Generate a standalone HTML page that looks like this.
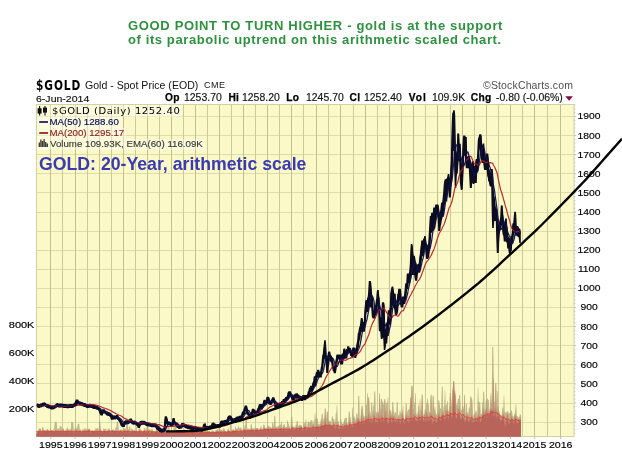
<!DOCTYPE html>
<html><head><meta charset="utf-8"><title>GOLD 20-Year</title>
<style>
html,body{margin:0;padding:0;background:#fff;}
body{width:622px;height:461px;overflow:hidden;position:relative;font-family:"Liberation Sans",Arial,sans-serif;}
svg{position:absolute;left:0;top:0;}
.t{position:absolute;white-space:nowrap;line-height:1;}
.sx{transform-origin:0 0;}
.hd{top:93.3px;font-size:10px;color:#111;transform:scaleX(1.045);margin-left:-0.8px;-webkit-text-stroke:0.15px #111;}
.b{font-weight:bold;font-size:10.2px;top:93px;letter-spacing:0.3px;color:#000;transform:none;margin-left:-0.6px;-webkit-text-stroke:0.25px #000;}
.lg{left:49.4px;font-size:9.7px;transform:scaleX(1.0);-webkit-text-stroke:0.15px currentColor;}
</style></head><body>
<svg width="622" height="461" viewBox="0 0 622 461" font-family="Liberation Sans, Arial, sans-serif">
<rect x="36.5" y="104.5" width="537.5" height="332.0" fill="#fbf9c7"/>
<path d="M36.5 422.5H574.0M36.5 403.5H574.0M36.5 383.5H574.0M36.5 364.5H574.0M36.5 345.5H574.0M36.5 326.5H574.0M36.5 307.5H574.0M36.5 288.5H574.0M36.5 269.5H574.0M36.5 250.5H574.0M36.5 231.5H574.0M36.5 212.5H574.0M36.5 192.5H574.0M36.5 173.5H574.0M36.5 154.5H574.0M36.5 135.5H574.0M36.5 116.5H574.0" stroke="#e0ddab" stroke-width="1" fill="none" shape-rendering="crispEdges"/>
<path d="M62.5 104.5V436.5M87.5 104.5V436.5M111.5 104.5V436.5M135.5 104.5V436.5M159.5 104.5V436.5M183.5 104.5V436.5M207.5 104.5V436.5M231.5 104.5V436.5M255.5 104.5V436.5M279.5 104.5V436.5M303.5 104.5V436.5M328.5 104.5V436.5M353.5 104.5V436.5M377.5 104.5V436.5M401.5 104.5V436.5M425.5 104.5V436.5M450.5 104.5V436.5M474.5 104.5V436.5M498.5 104.5V436.5M522.5 104.5V436.5M547.5 104.5V436.5" stroke="#cdca98" stroke-width="1" fill="none" shape-rendering="crispEdges"/>
<path d="M50.5 104.5V436.5M75.5 104.5V436.5M99.5 104.5V436.5M123.5 104.5V436.5M147.5 104.5V436.5M171.5 104.5V436.5M195.5 104.5V436.5M219.5 104.5V436.5M243.5 104.5V436.5M267.5 104.5V436.5M291.5 104.5V436.5M316.5 104.5V436.5M340.5 104.5V436.5M365.5 104.5V436.5M389.5 104.5V436.5M413.5 104.5V436.5M437.5 104.5V436.5M462.5 104.5V436.5M486.5 104.5V436.5M510.5 104.5V436.5M534.5 104.5V436.5M560.5 104.5V436.5" stroke="#c3c08b" stroke-width="1" fill="none" shape-rendering="crispEdges"/>
<rect x="36.5" y="104.5" width="537.5" height="332.0" fill="none" stroke="#d5d2a0" stroke-width="1"/>
<polygon points="36.5,436.5 36.8,431.5 37.2,430.8 37.8,430.8 38.2,430.6 38.8,428.9 39.2,428.3 39.8,428.3 40.2,428.3 40.8,428.8 41.2,430.0 41.8,430.5 42.2,427.0 42.8,427.0 43.2,427.0 43.8,429.3 44.2,430.0 44.8,429.9 45.2,429.9 45.8,430.1 46.2,429.5 46.8,429.5 47.2,428.7 47.8,428.7 48.2,429.5 48.8,430.3 49.2,430.3 49.8,430.7 50.2,427.8 50.8,427.8 51.2,430.1 51.8,430.1 52.2,430.1 52.8,430.1 53.2,430.6 53.8,428.6 54.2,428.6 54.8,422.0 55.2,421.8 55.8,421.9 56.2,422.2 56.8,422.5 57.2,430.1 57.8,428.2 58.2,428.2 58.8,428.2 59.2,430.3 59.8,425.7 60.2,425.7 60.8,426.8 61.2,426.7 61.8,427.0 62.2,429.2 62.8,429.1 63.2,428.2 63.8,428.2 64.2,430.7 64.8,430.1 65.2,430.1 65.8,429.8 66.2,429.8 66.8,428.1 67.2,427.5 67.8,427.5 68.2,429.9 68.8,429.1 69.2,429.1 69.8,429.4 70.2,429.4 70.8,429.1 71.2,422.0 71.8,421.8 72.2,422.0 72.8,422.2 73.2,422.5 73.8,429.5 74.2,429.5 74.8,429.2 75.2,427.3 75.8,427.3 76.2,427.3 76.8,429.3 77.2,428.1 77.8,423.7 78.2,423.6 78.8,423.9 79.2,424.1 79.8,429.5 80.2,429.5 80.8,429.5 81.2,431.1 81.8,429.7 82.2,429.7 82.8,429.4 83.2,429.4 83.8,429.4 84.2,428.5 84.8,428.5 85.2,428.5 85.8,428.5 86.2,428.5 86.8,429.9 87.2,429.1 87.8,429.1 88.2,429.1 88.8,428.6 89.2,428.6 89.8,428.6 90.2,429.2 90.8,431.0 91.2,430.9 91.8,429.9 92.2,429.9 92.8,429.9 93.2,430.9 93.8,430.1 94.2,430.0 94.8,430.0 95.2,428.6 95.8,428.6 96.2,428.6 96.8,428.2 97.2,428.1 97.8,428.3 98.2,428.3 98.8,430.0 99.2,421.4 99.8,421.4 100.2,421.4 100.8,428.6 101.2,429.2 101.8,431.2 102.2,431.1 102.8,430.9 103.2,428.6 103.8,428.6 104.2,428.9 104.8,428.9 105.2,428.9 105.8,428.2 106.2,428.2 106.8,431.1 107.2,429.7 107.8,429.7 108.2,428.7 108.8,427.9 109.2,427.9 109.8,430.0 110.2,430.4 110.8,430.5 111.2,429.8 111.8,429.8 112.2,429.8 112.8,429.4 113.2,429.4 113.8,429.4 114.2,430.2 114.8,430.0 115.2,428.0 115.8,428.0 116.2,428.0 116.8,422.1 117.2,421.8 117.8,421.9 118.2,422.2 118.8,430.1 119.2,430.1 119.8,430.0 120.2,429.4 120.8,429.4 121.2,429.6 121.8,429.6 122.2,429.6 122.8,429.9 123.2,429.9 123.8,429.6 124.2,428.6 124.8,428.0 125.2,428.0 125.8,430.0 126.2,424.0 126.8,424.0 127.2,422.1 127.8,422.1 128.2,429.3 128.8,429.3 129.2,426.4 129.8,426.5 130.2,426.9 130.8,430.9 131.2,428.8 131.8,428.8 132.2,428.8 132.8,429.5 133.2,429.8 133.8,429.8 134.2,429.9 134.8,429.9 135.2,430.7 135.8,430.7 136.2,426.3 136.8,426.3 137.2,430.9 137.8,430.9 138.2,430.8 138.8,428.8 139.2,427.5 139.8,427.5 140.2,427.5 140.8,430.1 141.2,430.1 141.8,430.1 142.2,430.9 142.8,430.8 143.2,430.5 143.8,429.7 144.2,428.1 144.8,428.1 145.2,428.1 145.8,430.2 146.2,429.6 146.8,424.1 147.2,424.1 147.8,424.1 148.2,425.9 148.8,429.3 149.2,429.5 149.8,428.8 150.2,428.8 150.8,430.4 151.2,429.4 151.8,429.3 152.2,429.3 152.8,429.3 153.2,431.0 153.8,431.0 154.2,431.2 154.8,431.2 155.2,431.2 155.8,430.3 156.2,430.0 156.8,429.3 157.2,428.2 157.8,428.2 158.2,432.1 158.8,427.1 159.2,427.1 159.8,430.5 160.2,430.5 160.8,429.8 161.2,429.8 161.8,431.2 162.2,429.5 162.8,429.5 163.2,430.8 163.8,428.9 164.2,428.9 164.8,429.3 165.2,421.2 165.8,421.1 166.2,421.7 166.8,430.8 167.2,430.8 167.8,426.9 168.2,426.9 168.8,427.4 169.2,427.4 169.8,431.5 170.2,430.9 170.8,430.9 171.2,431.3 171.8,430.2 172.2,429.9 172.8,429.9 173.2,431.5 173.8,424.6 174.2,424.7 174.8,425.2 175.2,425.9 175.8,425.9 176.2,425.9 176.8,431.6 177.2,431.0 177.8,431.0 178.2,431.4 178.8,431.4 179.2,431.3 179.8,430.2 180.2,430.2 180.8,430.3 181.2,430.3 181.8,430.3 182.2,431.5 182.8,431.5 183.2,431.6 183.8,428.6 184.2,428.6 184.8,429.7 185.2,431.7 185.8,431.7 186.2,431.7 186.8,430.0 187.2,430.0 187.8,430.0 188.2,431.0 188.8,431.0 189.2,430.4 189.8,430.4 190.2,430.4 190.8,431.7 191.2,431.7 191.8,430.3 192.2,430.3 192.8,428.1 193.2,428.1 193.8,428.1 194.2,432.1 194.8,432.1 195.2,427.6 195.8,427.6 196.2,431.3 196.8,431.3 197.2,431.3 197.8,430.1 198.2,430.1 198.8,429.7 199.2,429.7 199.8,428.0 200.2,428.0 200.8,428.0 201.2,431.2 201.8,431.2 202.2,431.7 202.8,426.9 203.2,426.9 203.8,426.9 204.2,429.1 204.8,422.7 205.2,422.5 205.8,422.9 206.2,431.0 206.8,431.0 207.2,431.0 207.8,431.0 208.2,431.5 208.8,430.3 209.2,430.3 209.8,431.2 210.2,431.6 210.8,431.5 211.2,431.5 211.8,430.2 212.2,430.2 212.8,430.8 213.2,430.8 213.8,430.8 214.2,431.6 214.8,431.6 215.2,431.5 215.8,429.9 216.2,429.9 216.8,429.9 217.2,429.9 217.8,426.8 218.2,426.8 218.8,431.1 219.2,428.4 219.8,428.4 220.2,428.4 220.8,430.2 221.2,430.2 221.8,429.5 222.2,429.5 222.8,431.2 223.2,428.3 223.8,428.3 224.2,428.3 224.8,430.3 225.2,430.3 225.8,431.4 226.2,431.4 226.8,431.4 227.2,429.5 227.8,429.4 228.2,428.7 228.8,428.7 229.2,430.7 229.8,430.7 230.2,421.1 230.8,421.3 231.2,431.0 231.8,430.6 232.2,430.1 232.8,429.2 233.2,429.1 233.8,429.1 234.2,430.0 234.8,429.9 235.2,426.4 235.8,426.4 236.2,428.4 236.8,428.4 237.2,428.4 237.8,428.5 238.2,426.1 238.8,426.1 239.2,428.3 239.8,428.3 240.2,427.4 240.8,427.4 241.2,427.4 241.8,429.5 242.2,429.7 242.8,428.8 243.2,428.8 243.8,428.8 244.2,428.8 244.8,425.0 245.2,425.0 245.8,418.4 246.2,418.3 246.8,419.2 247.2,428.8 247.8,428.8 248.2,428.7 248.8,428.7 249.2,428.7 249.8,428.7 250.2,429.2 250.8,424.2 251.2,424.2 251.8,424.2 252.2,428.5 252.8,427.9 253.2,427.9 253.8,428.8 254.2,429.0 254.8,427.4 255.2,427.4 255.8,427.4 256.2,428.1 256.8,428.1 257.2,428.0 257.8,428.0 258.2,428.0 258.8,429.4 259.2,428.4 259.8,428.4 260.2,428.1 260.8,425.7 261.2,425.7 261.8,428.5 262.2,429.3 262.8,427.8 263.2,424.7 263.8,424.7 264.2,424.7 264.8,425.5 265.2,427.9 265.8,428.0 266.2,427.8 266.8,427.8 267.2,426.9 267.8,425.7 268.2,425.7 268.8,425.7 269.2,426.7 269.8,426.7 270.2,426.7 270.8,426.7 271.2,428.0 271.8,427.9 272.2,422.5 272.8,422.5 273.2,422.5 273.8,426.9 274.2,416.0 274.8,415.5 275.2,416.0 275.8,426.7 276.2,426.7 276.8,426.8 277.2,426.8 277.8,427.0 278.2,425.5 278.8,425.5 279.2,425.7 279.8,425.7 280.2,424.4 280.8,424.4 281.2,421.4 281.8,421.4 282.2,428.0 282.8,425.1 283.2,425.1 283.8,424.4 284.2,424.2 284.8,424.2 285.2,427.5 285.8,426.7 286.2,426.7 286.8,426.7 287.2,420.6 287.8,420.6 288.2,423.5 288.8,423.5 289.2,426.1 289.8,426.5 290.2,427.9 290.8,423.9 291.2,416.6 291.8,416.6 292.2,416.6 292.8,426.4 293.2,426.5 293.8,426.8 294.2,426.8 294.8,426.8 295.2,426.9 295.8,424.8 296.2,424.8 296.8,421.0 297.2,421.0 297.8,421.0 298.2,425.9 298.8,425.5 299.2,424.8 299.8,424.8 300.2,424.8 300.8,425.6 301.2,425.0 301.8,425.0 302.2,427.5 302.8,427.4 303.2,424.6 303.8,422.0 304.2,422.0 304.8,423.4 305.2,423.4 305.8,419.0 306.2,419.0 306.8,426.3 307.2,426.3 307.8,421.6 308.2,421.6 308.8,421.6 309.2,421.8 309.8,422.7 310.2,422.2 310.8,419.9 311.2,419.9 311.8,419.9 312.2,424.3 312.8,420.0 313.2,420.0 313.8,423.9 314.2,423.9 314.8,412.8 315.2,412.8 315.8,419.1 316.2,419.1 316.8,418.5 317.2,418.5 317.8,418.5 318.2,423.7 318.8,423.7 319.2,423.7 319.8,424.9 320.2,422.7 320.8,419.2 321.2,419.2 321.8,413.8 322.2,413.8 322.8,413.8 323.2,421.3 323.8,417.8 324.2,417.8 324.8,408.6 325.2,408.6 325.8,408.6 326.2,419.7 326.8,411.4 327.2,411.4 327.8,411.4 328.2,420.7 328.8,420.7 329.2,420.7 329.8,421.2 330.2,421.2 330.8,421.2 331.2,424.9 331.8,416.6 332.2,416.6 332.8,416.6 333.2,419.0 333.8,419.0 334.2,419.0 334.8,423.7 335.2,421.4 335.8,413.7 336.2,413.7 336.8,405.0 337.2,405.0 337.8,421.2 338.2,421.2 338.8,421.2 339.2,425.8 339.8,425.5 340.2,419.2 340.8,419.2 341.2,419.2 341.8,423.3 342.2,423.3 342.8,423.5 343.2,424.1 343.8,422.1 344.2,419.9 344.8,418.0 345.2,418.0 345.8,418.0 346.2,417.7 346.8,417.7 347.2,423.4 347.8,423.4 348.2,421.1 348.8,411.6 349.2,411.6 349.8,411.6 350.2,417.3 350.8,417.3 351.2,423.4 351.8,423.4 352.2,407.6 352.8,407.6 353.2,418.0 353.8,416.1 354.2,416.1 354.8,418.3 355.2,418.3 355.8,421.1 356.2,413.6 356.8,413.6 357.2,413.6 357.8,417.9 358.2,395.8 358.8,395.8 359.2,395.8 359.8,418.4 360.2,420.1 360.8,414.5 361.2,408.6 361.8,405.8 362.2,405.8 362.8,405.8 363.2,414.2 363.8,415.9 364.2,415.9 364.8,417.8 365.2,415.0 365.8,405.4 366.2,405.4 366.8,403.8 367.2,393.3 367.8,393.3 368.2,397.4 368.8,397.4 369.2,397.4 369.8,411.5 370.2,411.5 370.8,415.7 371.2,402.4 371.8,402.4 372.2,402.4 372.8,414.5 373.2,405.2 373.8,405.2 374.2,391.5 374.8,391.5 375.2,391.5 375.8,411.8 376.2,411.8 376.8,413.0 377.2,412.9 377.8,410.9 378.2,410.9 378.8,412.8 379.2,393.2 379.8,393.2 380.2,410.6 380.8,398.8 381.2,398.8 381.8,398.8 382.2,401.1 382.8,401.6 383.2,402.5 383.8,405.2 384.2,399.6 384.8,398.8 385.2,398.8 385.8,410.7 386.2,402.8 386.8,402.8 387.2,402.8 387.8,397.3 388.2,397.3 388.8,414.3 389.2,409.6 389.8,409.6 390.2,409.6 390.8,411.0 391.2,411.0 391.8,414.7 392.2,402.3 392.8,402.1 393.2,402.1 393.8,410.3 394.2,415.2 394.8,412.3 395.2,412.1 395.8,412.1 396.2,415.7 396.8,402.3 397.2,402.3 397.8,402.3 398.2,416.3 398.8,414.9 399.2,414.9 399.8,410.2 400.2,410.2 400.8,412.9 401.2,415.2 401.8,412.0 402.2,411.6 402.8,405.3 403.2,405.3 403.8,417.8 404.2,419.7 404.8,418.5 405.2,413.4 405.8,403.2 406.2,403.2 406.8,403.2 407.2,412.2 407.8,410.7 408.2,409.5 408.8,409.5 409.2,409.5 409.8,405.9 410.2,397.5 410.8,397.5 411.2,386.6 411.8,385.6 412.2,385.6 412.8,387.2 413.2,409.3 413.8,409.3 414.2,402.8 414.8,402.8 415.2,393.3 415.8,393.3 416.2,411.7 416.8,415.2 417.2,415.2 417.8,410.7 418.2,404.6 418.8,404.6 419.2,411.6 419.8,399.0 420.2,399.0 420.8,410.5 421.2,410.5 421.8,394.6 422.2,394.6 422.8,394.6 423.2,415.9 423.8,414.1 424.2,414.1 424.8,409.3 425.2,409.3 425.8,410.1 426.2,403.0 426.8,403.0 427.2,398.4 427.8,398.4 428.2,404.2 428.8,404.2 429.2,412.1 429.8,412.1 430.2,398.5 430.8,394.7 431.2,394.7 431.8,394.7 432.2,413.8 432.8,395.3 433.2,395.3 433.8,396.4 434.2,410.4 434.8,406.5 435.2,406.5 435.8,412.9 436.2,414.0 436.8,414.0 437.2,415.6 437.8,415.6 438.2,400.6 438.8,400.6 439.2,400.6 439.8,404.6 440.2,408.4 440.8,408.4 441.2,408.4 441.8,386.7 442.2,386.7 442.8,386.7 443.2,411.5 443.8,405.8 444.2,405.8 444.8,390.2 445.2,390.2 445.8,406.7 446.2,404.6 446.8,404.6 447.2,400.9 447.8,400.9 448.2,411.6 448.8,410.8 449.2,405.8 449.8,393.0 450.2,393.0 450.8,393.0 451.2,397.6 451.8,406.4 452.2,390.0 452.8,389.3 453.2,380.9 453.8,380.9 454.2,380.9 454.8,390.5 455.2,391.0 455.8,394.6 456.2,405.4 456.8,403.7 457.2,403.7 457.8,399.1 458.2,399.1 458.8,399.1 459.2,395.0 459.8,395.0 460.2,395.0 460.8,410.7 461.2,409.7 461.8,409.7 462.2,406.2 462.8,405.8 463.2,405.8 463.8,410.5 464.2,394.6 464.8,394.6 465.2,416.1 465.8,403.9 466.2,403.9 466.8,403.9 467.2,412.3 467.8,412.3 468.2,415.3 468.8,407.4 469.2,407.4 469.8,407.4 470.2,396.5 470.8,396.5 471.2,396.5 471.8,398.8 472.2,398.8 472.8,415.4 473.2,417.7 473.8,413.9 474.2,413.9 474.8,412.8 475.2,412.8 475.8,410.2 476.2,410.2 476.8,412.5 477.2,413.8 477.8,387.6 478.2,387.6 478.8,402.1 479.2,402.1 479.8,402.2 480.2,402.2 480.8,414.9 481.2,413.9 481.8,413.9 482.2,402.2 482.8,402.2 483.2,391.8 483.8,391.8 484.2,391.8 484.8,410.5 485.2,408.9 485.8,400.4 486.2,400.4 486.8,400.4 487.2,398.3 487.8,398.3 488.2,400.0 488.8,400.0 489.2,410.7 489.8,408.1 490.2,398.2 490.8,392.7 491.2,392.7 491.8,402.0 492.2,347.0 492.8,347.0 493.2,347.0 493.8,377.9 494.2,401.8 494.8,401.8 495.2,383.9 495.8,382.7 496.2,382.7 496.8,409.9 497.2,391.0 497.8,391.0 498.2,406.3 498.8,408.7 499.2,410.5 499.8,413.6 500.2,414.5 500.8,415.7 501.2,415.7 501.8,414.7 502.2,407.6 502.8,407.6 503.2,410.2 503.8,395.4 504.2,395.4 504.8,412.3 505.2,412.3 505.8,412.3 506.2,413.2 506.8,410.8 507.2,410.8 507.8,411.4 508.2,411.4 508.8,413.2 509.2,413.2 509.8,413.2 510.2,412.0 510.8,412.0 511.2,410.2 511.8,410.2 512.2,412.8 512.8,416.4 513.2,416.4 513.8,416.7 514.2,413.9 514.8,413.9 515.2,410.0 515.8,403.7 516.2,403.7 516.8,415.2 517.2,416.3 517.8,416.3 518.2,417.2 518.8,417.2 519.2,417.3 519.8,414.4 520.2,414.4 520.8,414.4 521.0,414.4 521.0,436.5" fill="#a89c74" opacity="0.7"/>
<polygon points="36.5,436.5 36.8,432.0 37.2,431.6 37.8,431.3 38.2,431.1 38.8,430.6 39.2,430.2 39.8,430.2 40.2,428.8 40.8,430.5 41.2,431.7 41.8,431.9 42.2,429.2 42.8,429.2 43.2,430.4 43.8,430.4 44.2,430.5 44.8,430.1 45.2,430.5 45.8,431.1 46.2,430.9 46.8,430.1 47.2,429.8 47.8,429.9 48.2,430.3 48.8,431.1 49.2,431.1 49.8,431.5 50.2,430.7 50.8,430.1 51.2,430.2 51.8,431.0 52.2,430.6 52.8,430.6 53.2,430.9 53.8,430.9 54.2,430.9 54.8,430.8 55.2,430.8 55.8,429.6 56.2,429.6 56.8,430.7 57.2,430.7 57.8,430.1 58.2,430.1 58.8,430.5 59.2,430.5 59.8,430.5 60.2,430.0 60.8,430.0 61.2,430.9 61.8,431.3 62.2,431.3 62.8,430.7 63.2,429.8 63.8,429.8 64.2,431.4 64.8,431.5 65.2,430.7 65.8,430.6 66.2,430.4 66.8,430.1 67.2,428.2 67.8,430.9 68.2,430.9 68.8,430.1 69.2,430.9 69.8,430.5 70.2,430.5 70.8,429.7 71.2,429.3 71.8,430.4 72.2,430.8 72.8,430.8 73.2,431.4 73.8,431.5 74.2,431.5 74.8,431.2 75.2,429.2 75.8,429.3 76.2,429.7 76.8,430.0 77.2,429.8 77.8,431.1 78.2,431.4 78.8,430.7 79.2,430.5 79.8,430.3 80.2,430.3 80.8,430.9 81.2,432.2 81.8,432.2 82.2,431.6 82.8,429.7 83.2,429.8 83.8,429.8 84.2,430.6 84.8,430.6 85.2,430.2 85.8,430.1 86.2,430.1 86.8,430.2 87.2,430.8 87.8,430.2 88.2,429.3 88.8,429.3 89.2,430.1 89.8,430.1 90.2,431.5 90.8,431.4 91.2,431.1 91.8,431.0 92.2,430.9 92.8,430.9 93.2,431.2 93.8,430.9 94.2,430.2 94.8,431.1 95.2,431.1 95.8,430.3 96.2,429.8 96.8,430.0 97.2,430.0 97.8,430.8 98.2,431.6 98.8,430.2 99.2,430.1 99.8,429.5 100.2,429.5 100.8,429.5 101.2,430.7 101.8,431.7 102.2,431.2 102.8,431.2 103.2,430.9 103.8,430.2 104.2,430.2 104.8,430.6 105.2,430.9 105.8,431.1 106.2,431.4 106.8,431.3 107.2,431.3 107.8,430.7 108.2,430.6 108.8,430.2 109.2,430.0 109.8,430.2 110.2,430.8 110.8,430.7 111.2,430.5 111.8,430.2 112.2,430.2 112.8,430.2 113.2,430.3 113.8,430.7 114.2,430.7 114.8,430.4 115.2,430.8 115.8,430.7 116.2,430.4 116.8,431.0 117.2,431.0 117.8,431.0 118.2,431.0 118.8,431.0 119.2,431.0 119.8,430.6 120.2,430.3 120.8,430.3 121.2,430.7 121.8,431.4 122.2,431.7 122.8,431.7 123.2,431.0 123.8,430.3 124.2,430.2 124.8,429.6 125.2,431.1 125.8,430.6 126.2,430.6 126.8,430.2 127.2,430.0 127.8,430.3 128.2,430.8 128.8,431.1 129.2,431.5 129.8,431.1 130.2,431.5 130.8,431.2 131.2,431.1 131.8,430.7 132.2,430.0 132.8,430.4 133.2,431.0 133.8,431.2 134.2,431.5 134.8,430.7 135.2,430.8 135.8,431.0 136.2,430.8 136.8,430.8 137.2,431.4 137.8,431.4 138.2,431.2 138.8,431.0 139.2,428.8 139.8,428.8 140.2,430.4 140.8,430.6 141.2,431.4 141.8,431.8 142.2,432.3 142.8,431.0 143.2,430.9 143.8,430.4 144.2,429.8 144.8,430.2 145.2,431.0 145.8,432.1 146.2,432.1 146.8,430.3 147.2,429.8 147.8,429.3 148.2,429.8 148.8,430.9 149.2,430.9 149.8,429.6 150.2,431.8 150.8,431.1 151.2,430.5 151.8,430.4 152.2,430.6 152.8,431.0 153.2,431.4 153.8,431.5 154.2,432.1 154.8,431.5 155.2,431.5 155.8,431.4 156.2,430.4 156.8,430.4 157.2,430.5 157.8,430.5 158.2,432.3 158.8,431.9 159.2,430.5 159.8,431.5 160.2,430.8 160.8,430.8 161.2,431.1 161.8,432.1 162.2,432.1 162.8,431.2 163.2,431.0 163.8,430.8 164.2,429.5 164.8,429.9 165.2,431.0 165.8,431.8 166.2,432.6 166.8,432.1 167.2,431.8 167.8,431.1 168.2,430.6 168.8,432.0 169.2,431.6 169.8,431.8 170.2,431.6 170.8,431.5 171.2,431.7 171.8,431.3 172.2,430.6 172.8,431.5 173.2,431.7 173.8,431.8 174.2,432.1 174.8,432.1 175.2,432.1 175.8,432.3 176.2,432.0 176.8,431.7 177.2,431.6 177.8,431.6 178.2,431.7 178.8,431.7 179.2,431.7 179.8,431.3 180.2,431.0 180.8,431.0 181.2,431.1 181.8,431.9 182.2,431.8 182.8,431.8 183.2,431.8 183.8,432.1 184.2,431.6 184.8,431.7 185.2,432.1 185.8,432.2 186.2,432.1 186.8,432.0 187.2,431.8 187.8,431.7 188.2,431.3 188.8,431.2 189.2,431.0 189.8,432.1 190.2,432.1 190.8,432.1 191.2,432.2 191.8,431.7 192.2,430.8 192.8,430.7 193.2,430.9 193.8,432.4 194.2,432.4 194.8,432.8 195.2,432.1 195.8,431.4 196.2,431.6 196.8,431.7 197.2,432.3 197.8,431.7 198.2,433.0 198.8,432.2 199.2,431.9 199.8,431.4 200.2,431.9 200.8,431.6 201.2,431.7 201.8,431.7 202.2,432.2 202.8,431.5 203.2,431.5 203.8,430.8 204.2,431.9 204.8,430.7 205.2,431.9 205.8,432.1 206.2,432.5 206.8,431.8 207.2,431.8 207.8,431.9 208.2,431.9 208.8,431.2 209.2,431.2 209.8,431.6 210.2,432.2 210.8,432.0 211.2,431.8 211.8,431.6 212.2,431.6 212.8,431.5 213.2,431.7 213.8,431.7 214.2,432.0 214.8,432.1 215.2,431.6 215.8,431.5 216.2,430.4 216.8,430.9 217.2,431.1 217.8,431.6 218.2,431.1 218.8,431.8 219.2,431.7 219.8,431.4 220.2,431.6 220.8,431.6 221.2,431.6 221.8,430.8 222.2,431.6 222.8,432.3 223.2,431.2 223.8,430.7 224.2,430.7 224.8,431.0 225.2,431.6 225.8,432.0 226.2,432.1 226.8,431.7 227.2,431.6 227.8,430.5 228.2,429.7 228.8,430.5 229.2,431.4 229.8,431.1 230.2,431.1 230.8,432.0 231.2,431.4 231.8,431.3 232.2,430.7 232.8,430.4 233.2,430.1 233.8,430.0 234.2,430.5 234.8,431.0 235.2,430.5 235.8,429.6 236.2,429.6 236.8,429.9 237.2,429.9 237.8,430.1 238.2,429.8 238.8,430.9 239.2,431.1 239.8,429.8 240.2,428.4 240.8,429.7 241.2,430.8 241.8,431.6 242.2,430.9 242.8,429.7 243.2,429.1 243.8,429.1 244.2,429.0 244.8,429.0 245.2,429.1 245.8,430.1 246.2,430.1 246.8,430.3 247.2,429.0 247.8,429.0 248.2,429.1 248.8,429.1 249.2,429.8 249.8,429.7 250.2,429.7 250.8,429.4 251.2,428.5 251.8,428.5 252.2,429.6 252.8,429.6 253.2,429.0 253.8,430.2 254.2,430.8 254.8,430.1 255.2,429.6 255.8,429.1 256.2,428.6 256.8,428.6 257.2,428.6 257.8,429.4 258.2,429.9 258.8,430.3 259.2,429.6 259.8,429.6 260.2,428.8 260.8,428.1 261.2,428.5 261.8,429.9 262.2,430.0 262.8,428.9 263.2,428.1 263.8,427.2 264.2,427.2 264.8,427.9 265.2,428.2 265.8,428.9 266.2,429.1 266.8,429.2 267.2,428.5 267.8,426.9 268.2,426.9 268.8,428.7 269.2,428.8 269.8,428.3 270.2,428.6 270.8,428.6 271.2,428.7 271.8,428.1 272.2,427.9 272.8,427.6 273.2,428.5 273.8,427.6 274.2,427.4 274.8,427.4 275.2,428.5 275.8,427.8 276.2,427.7 276.8,428.1 277.2,428.7 277.8,429.1 278.2,427.6 278.8,427.9 279.2,427.9 279.8,427.5 280.2,427.5 280.8,427.4 281.2,427.4 281.8,428.0 282.2,429.1 282.8,428.0 283.2,427.4 283.8,427.2 284.2,427.2 284.8,427.5 285.2,428.0 285.8,428.2 286.2,428.4 286.8,428.4 287.2,427.9 287.8,427.1 288.2,428.7 288.8,428.3 289.2,427.9 289.8,428.9 290.2,429.6 290.8,429.5 291.2,426.2 291.8,425.8 292.2,426.0 292.8,427.1 293.2,427.3 293.8,427.5 294.2,428.4 294.8,428.4 295.2,428.0 295.8,427.4 296.2,426.9 296.8,425.5 297.2,425.5 297.8,427.3 298.2,428.2 298.8,428.1 299.2,428.1 299.8,426.2 300.2,426.2 300.8,426.0 301.2,426.0 301.8,426.7 302.2,429.0 302.8,429.0 303.2,428.4 303.8,427.4 304.2,425.2 304.8,425.4 305.2,426.0 305.8,426.5 306.2,426.6 306.8,428.0 307.2,426.7 307.8,426.3 308.2,426.2 308.8,422.4 309.2,427.4 309.8,427.4 310.2,426.1 310.8,422.7 311.2,426.1 311.8,425.4 312.2,425.4 312.8,424.7 313.2,424.3 313.8,425.7 314.2,426.1 314.8,426.6 315.2,426.2 315.8,426.1 316.2,423.7 316.8,423.7 317.2,424.7 317.8,425.4 318.2,426.0 318.8,426.4 319.2,426.5 319.8,426.5 320.2,424.9 320.8,423.4 321.2,423.4 321.8,419.2 322.2,421.3 322.8,422.7 323.2,424.7 323.8,424.7 324.2,420.4 324.8,417.8 325.2,409.2 325.8,409.2 326.2,423.7 326.8,423.7 327.2,412.0 327.8,412.0 328.2,421.5 328.8,421.5 329.2,422.4 329.8,422.6 330.2,424.4 330.8,425.2 331.2,425.2 331.8,425.1 332.2,425.1 332.8,424.4 333.2,421.4 333.8,421.4 334.2,423.8 334.8,423.8 335.2,423.8 335.8,421.6 336.2,421.6 336.8,423.3 337.2,423.3 337.8,423.6 338.2,423.6 338.8,425.8 339.2,426.6 339.8,426.6 340.2,425.5 340.8,425.7 341.2,425.1 341.8,424.1 342.2,424.1 342.8,424.3 343.2,424.3 343.8,424.1 344.2,422.1 344.8,420.0 345.2,424.4 345.8,423.0 346.2,423.0 346.8,423.0 347.2,425.3 347.8,425.9 348.2,425.3 348.8,421.9 349.2,421.1 349.8,417.3 350.2,421.8 350.8,422.5 351.2,424.1 351.8,424.6 352.2,424.6 352.8,421.5 353.2,421.5 353.8,421.5 354.2,422.0 354.8,421.6 355.2,421.6 355.8,422.9 356.2,421.1 356.8,419.3 357.2,418.6 357.8,418.2 358.2,417.9 358.8,418.2 359.2,419.8 359.8,420.1 360.2,422.2 360.8,421.3 361.2,409.3 361.8,409.2 362.2,409.3 362.8,417.9 363.2,417.8 363.8,418.3 364.2,418.3 364.8,419.9 365.2,417.4 365.8,415.0 366.2,415.0 366.8,416.5 367.2,416.3 367.8,416.3 368.2,398.4 368.8,398.4 369.2,404.4 369.8,415.7 370.2,415.7 370.8,417.1 371.2,415.7 371.8,416.6 372.2,421.1 372.8,416.7 373.2,415.0 373.8,411.1 374.2,411.1 374.8,413.9 375.2,416.7 375.8,417.8 376.2,414.2 376.8,417.7 377.2,414.2 377.8,414.4 378.2,414.4 378.8,414.4 379.2,394.4 379.8,394.4 380.2,417.3 380.8,410.6 381.2,409.1 381.8,411.7 382.2,402.3 382.8,402.5 383.2,418.1 383.8,418.1 384.2,411.5 384.8,399.8 385.2,399.8 385.8,412.5 386.2,410.7 386.8,410.4 387.2,410.4 387.8,418.7 388.2,419.2 388.8,417.5 389.2,414.4 389.8,414.3 390.2,411.8 390.8,413.5 391.2,414.7 391.8,416.9 392.2,417.6 392.8,411.5 393.2,410.3 393.8,416.4 394.2,417.0 394.8,416.1 395.2,416.1 395.8,418.7 396.2,419.0 396.8,418.4 397.2,418.1 397.8,418.1 398.2,416.9 398.8,416.7 399.2,416.7 399.8,418.4 400.2,416.4 400.8,419.4 401.2,416.4 401.8,414.1 402.2,413.6 402.8,412.0 403.2,415.6 403.8,420.7 404.2,420.0 404.8,419.7 405.2,416.9 405.8,413.4 406.2,413.4 406.8,413.2 407.2,414.8 407.8,415.4 408.2,415.4 408.8,416.2 409.2,416.7 409.8,412.6 410.2,398.2 410.8,398.2 411.2,397.9 411.8,386.6 412.2,386.6 412.8,414.7 413.2,414.4 413.8,413.1 414.2,413.0 414.8,414.0 415.2,411.7 415.8,416.4 416.2,417.4 416.8,416.7 417.2,416.7 417.8,415.2 418.2,411.6 418.8,413.1 419.2,413.6 419.8,414.9 420.2,415.0 420.8,414.9 421.2,412.1 421.8,395.7 422.2,395.7 422.8,403.8 423.2,417.2 423.8,417.2 424.2,414.8 424.8,414.1 425.2,413.9 425.8,412.1 426.2,410.8 426.8,410.8 427.2,410.8 427.8,414.5 428.2,415.9 428.8,415.9 429.2,414.9 429.8,413.3 430.2,412.9 430.8,411.7 431.2,398.5 431.8,411.2 432.2,418.9 432.8,396.4 433.2,396.4 433.8,415.0 434.2,415.0 434.8,412.6 435.2,412.9 435.8,416.6 436.2,416.4 436.8,419.4 437.2,419.3 437.8,417.9 438.2,413.4 438.8,408.9 439.2,408.9 439.8,415.9 440.2,415.9 440.8,416.8 441.2,414.5 441.8,409.6 442.2,409.6 442.8,412.4 443.2,412.4 443.8,412.0 444.2,414.4 444.8,415.1 445.2,407.5 445.8,409.9 446.2,409.9 446.8,409.9 447.2,408.7 447.8,408.7 448.2,415.4 448.8,411.6 449.2,411.6 449.8,406.5 450.2,404.8 450.8,397.6 451.2,412.9 451.8,414.6 452.2,414.6 452.8,390.0 453.2,381.6 453.8,381.6 454.2,381.8 454.8,391.4 455.2,394.6 455.8,395.7 456.2,415.2 456.8,415.2 457.2,411.5 457.8,405.8 458.2,408.3 458.8,408.3 459.2,405.4 459.8,404.8 460.2,410.7 460.8,415.7 461.2,416.0 461.8,413.4 462.2,411.3 462.8,407.7 463.2,409.9 463.8,415.6 464.2,395.7 464.8,395.7 465.2,419.2 465.8,416.1 466.2,411.9 466.8,411.9 467.2,414.3 467.8,415.3 468.2,416.4 468.8,415.3 469.2,410.0 469.8,410.0 470.2,417.5 470.8,416.9 471.2,414.5 471.8,399.8 472.2,399.8 472.8,417.7 473.2,419.1 473.8,417.6 474.2,414.4 474.8,414.4 475.2,414.8 475.8,414.8 476.2,416.9 476.8,416.9 477.2,416.1 477.8,416.1 478.2,414.2 478.8,407.5 479.2,406.1 479.8,407.5 480.2,414.9 480.8,417.1 481.2,415.7 481.8,417.1 482.2,411.4 482.8,408.5 483.2,406.9 483.8,408.5 484.2,413.0 484.8,412.5 485.2,411.7 485.8,409.2 486.2,408.9 486.8,409.2 487.2,407.6 487.8,403.6 488.2,410.9 488.8,411.0 489.2,413.4 489.8,410.7 490.2,408.2 490.8,408.2 491.2,402.6 491.8,403.9 492.2,402.0 492.8,379.1 493.2,377.9 493.8,379.4 494.2,407.7 494.8,406.4 495.2,403.0 495.8,384.2 496.2,384.2 496.8,411.9 497.2,406.3 497.8,406.3 498.2,410.8 498.8,410.8 499.2,413.6 499.8,414.6 500.2,415.4 500.8,418.9 501.2,418.3 501.8,417.1 502.2,414.7 502.8,411.8 503.2,413.1 503.8,413.1 504.2,415.5 504.8,417.6 505.2,418.5 505.8,417.5 506.2,416.2 506.8,413.6 507.2,413.6 507.8,414.3 508.2,414.4 508.8,419.6 509.2,419.6 509.8,417.9 510.2,417.9 510.8,417.5 511.2,415.1 511.8,413.5 512.2,416.0 512.8,419.1 513.2,419.2 513.8,420.1 514.2,416.7 514.8,414.9 515.2,414.9 515.8,414.0 516.2,415.2 516.8,418.4 517.2,420.6 517.8,419.1 518.2,418.7 518.8,419.0 519.2,419.5 519.8,417.5 520.2,417.3 520.8,416.9 521.0,416.9 521.0,436.5" fill="#c4907a" opacity="0.6"/>
<polygon points="36.5,436.5 36.8,432.6 37.2,432.0 37.8,431.9 38.2,431.3 38.8,431.0 39.2,430.6 39.8,430.6 40.2,430.5 40.8,431.4 41.2,432.1 41.8,432.4 42.2,430.8 42.8,430.5 43.2,430.8 43.8,430.8 44.2,431.4 44.8,431.4 45.2,431.6 45.8,431.9 46.2,431.6 46.8,430.8 47.2,430.3 47.8,430.3 48.2,431.1 48.8,431.5 49.2,431.6 49.8,431.6 50.2,431.0 50.8,430.7 51.2,430.7 51.8,431.5 52.2,431.4 52.8,431.2 53.2,431.5 53.8,431.6 54.2,431.6 54.8,431.6 55.2,431.5 55.8,429.9 56.2,430.3 56.8,430.9 57.2,431.2 57.8,431.0 58.2,431.0 58.8,431.3 59.2,431.0 59.8,430.9 60.2,431.1 60.8,431.1 61.2,431.1 61.8,431.8 62.2,431.7 62.8,431.3 63.2,430.7 63.8,431.0 64.2,431.8 64.8,431.8 65.2,431.5 65.8,431.5 66.2,431.3 66.8,431.3 67.2,430.8 67.8,431.4 68.2,431.2 68.8,430.9 69.2,431.5 69.8,431.7 70.2,431.5 70.8,431.4 71.2,430.0 71.8,431.3 72.2,431.4 72.8,431.4 73.2,432.0 73.8,432.1 74.2,432.1 74.8,432.1 75.2,431.1 75.8,430.4 76.2,430.1 76.8,430.5 77.2,431.1 77.8,431.6 78.2,431.6 78.8,431.4 79.2,431.1 79.8,430.4 80.2,430.9 80.8,431.2 81.2,432.5 81.8,432.3 82.2,432.0 82.8,431.1 83.2,431.1 83.8,431.1 84.2,431.1 84.8,431.1 85.2,431.1 85.8,430.7 86.2,430.7 86.8,431.0 87.2,431.2 87.8,431.2 88.2,430.4 88.8,430.1 89.2,430.1 89.8,431.2 90.2,432.2 90.8,432.2 91.2,431.2 91.8,431.1 92.2,431.0 92.8,431.5 93.2,431.6 93.8,431.6 94.2,431.6 94.8,431.6 95.2,431.5 95.8,431.5 96.2,431.0 96.8,431.3 97.2,431.2 97.8,431.4 98.2,431.7 98.8,431.7 99.2,431.6 99.8,430.6 100.2,430.6 100.8,430.6 101.2,431.4 101.8,432.0 102.2,432.0 102.8,431.8 103.2,431.3 103.8,430.9 104.2,430.6 104.8,431.2 105.2,431.6 105.8,431.5 106.2,431.5 106.8,431.5 107.2,431.5 107.8,431.3 108.2,430.7 108.8,431.0 109.2,430.2 109.8,430.8 110.2,432.5 110.8,432.4 111.2,430.7 111.8,430.7 112.2,430.3 112.8,430.2 113.2,430.7 113.8,431.2 114.2,431.9 114.8,430.8 115.2,430.8 115.8,430.9 116.2,430.9 116.8,431.1 117.2,431.4 117.8,431.6 118.2,431.5 118.8,431.4 119.2,431.3 119.8,431.3 120.2,430.8 120.8,430.8 121.2,431.4 121.8,431.7 122.2,431.9 122.8,431.8 123.2,431.4 123.8,431.1 124.2,431.1 124.8,430.2 125.2,431.6 125.8,431.6 126.2,431.7 126.8,430.7 127.2,430.3 127.8,430.7 128.2,431.2 128.8,431.2 129.2,431.7 129.8,431.6 130.2,432.0 130.8,431.9 131.2,431.6 131.8,431.1 132.2,430.7 132.8,431.1 133.2,431.5 133.8,431.9 134.2,431.9 134.8,430.8 135.2,431.1 135.8,431.5 136.2,431.4 136.8,430.9 137.2,431.8 137.8,431.8 138.2,432.1 138.8,431.4 139.2,431.0 139.8,430.8 140.2,430.8 140.8,431.4 141.2,431.8 141.8,432.3 142.2,432.6 142.8,431.5 143.2,431.5 143.8,430.8 144.2,430.7 144.8,430.7 145.2,432.3 145.8,432.5 146.2,432.5 146.8,430.8 147.2,430.8 147.8,430.3 148.2,431.1 148.8,431.4 149.2,432.2 149.8,431.5 150.2,432.9 150.8,431.8 151.2,431.1 151.8,431.0 152.2,431.0 152.8,431.4 153.2,431.8 153.8,432.3 154.2,432.5 154.8,431.9 155.2,431.8 155.8,431.5 156.2,431.5 156.8,430.9 157.2,431.6 157.8,432.3 158.2,432.7 158.8,432.2 159.2,431.5 159.8,431.8 160.2,431.6 160.8,431.2 161.2,432.0 161.8,432.1 162.2,432.6 162.8,431.3 163.2,431.2 163.8,431.0 164.2,431.0 164.8,431.5 165.2,431.8 165.8,432.4 166.2,432.7 166.8,432.5 167.2,432.1 167.8,431.9 168.2,432.0 168.8,432.2 169.2,432.4 169.8,432.6 170.2,432.4 170.8,432.1 171.2,432.1 171.8,431.6 172.2,431.5 172.8,431.7 173.2,432.2 173.8,432.2 174.2,432.5 174.8,432.3 175.2,432.4 175.8,432.4 176.2,432.1 176.8,432.0 177.2,431.7 177.8,431.9 178.2,432.1 178.8,432.1 179.2,431.9 179.8,431.7 180.2,431.3 180.8,431.2 181.2,431.7 181.8,432.0 182.2,432.0 182.8,432.0 183.2,432.5 183.8,432.6 184.2,432.1 184.8,432.1 185.2,432.2 185.8,432.7 186.2,432.7 186.8,432.1 187.2,432.8 187.8,431.9 188.2,431.8 188.8,431.7 189.2,431.8 189.8,432.8 190.2,433.0 190.8,433.0 191.2,432.3 191.8,432.2 192.2,432.0 192.8,430.9 193.2,432.3 193.8,432.5 194.2,432.8 194.8,433.1 195.2,432.8 195.8,431.9 196.2,432.2 196.8,432.4 197.2,432.5 197.8,432.5 198.2,433.3 198.8,432.9 199.2,432.7 199.8,431.9 200.2,432.2 200.8,432.2 201.2,432.4 201.8,432.4 202.2,432.7 202.8,432.5 203.2,432.7 203.8,432.7 204.2,432.7 204.8,432.1 205.2,432.1 205.8,432.5 206.2,432.9 206.8,432.2 207.2,432.0 207.8,432.0 208.2,432.0 208.8,431.8 209.2,431.8 209.8,432.3 210.2,432.3 210.8,432.2 211.2,432.1 211.8,432.1 212.2,432.4 212.8,432.5 213.2,432.0 213.8,432.0 214.2,432.6 214.8,432.6 215.2,431.9 215.8,431.6 216.2,431.5 216.8,431.3 217.2,431.6 217.8,432.2 218.2,432.3 218.8,431.9 219.2,431.9 219.8,431.9 220.2,431.8 220.8,431.8 221.2,431.9 221.8,431.6 222.2,432.5 222.8,432.5 223.2,432.3 223.8,431.2 224.2,431.2 224.8,431.6 225.2,432.0 225.8,432.2 226.2,432.3 226.8,432.1 227.2,431.7 227.8,431.6 228.2,430.6 228.8,431.0 229.2,431.6 229.8,431.5 230.2,432.0 230.8,432.1 231.2,432.1 231.8,431.8 232.2,431.1 232.8,431.1 233.2,430.4 233.8,430.5 234.2,431.6 234.8,431.3 235.2,431.2 235.8,430.5 236.2,430.1 236.8,430.7 237.2,430.7 237.8,431.0 238.2,430.9 238.8,431.9 239.2,431.9 239.8,430.7 240.2,429.8 240.8,430.8 241.2,431.3 241.8,431.6 242.2,431.6 242.8,430.5 243.2,429.7 243.8,429.6 244.2,429.6 244.8,429.5 245.2,430.1 245.8,430.6 246.2,430.6 246.8,431.0 247.2,429.6 247.8,429.9 248.2,430.1 248.8,429.9 249.2,429.9 249.8,429.9 250.2,430.3 250.8,429.5 251.2,429.4 251.8,429.6 252.2,429.8 252.8,429.8 253.2,430.4 253.8,430.7 254.2,430.9 254.8,430.8 255.2,430.1 255.8,429.6 256.2,429.5 256.8,429.4 257.2,429.2 257.8,429.5 258.2,430.4 258.8,430.6 259.2,430.3 259.8,429.8 260.2,429.7 260.8,429.7 261.2,429.4 261.8,430.0 262.2,430.5 262.8,430.0 263.2,428.8 263.8,428.1 264.2,427.4 264.8,428.9 265.2,428.9 265.8,429.2 266.2,430.1 266.8,429.9 267.2,428.6 267.8,428.1 268.2,428.1 268.8,428.8 269.2,429.7 269.8,428.8 270.2,428.8 270.8,428.8 271.2,429.0 271.8,428.5 272.2,428.5 272.8,428.5 273.2,429.7 273.8,428.8 274.2,428.8 274.8,428.8 275.2,428.8 275.8,428.8 276.2,428.1 276.8,429.7 277.2,429.3 277.8,429.3 278.2,429.1 278.8,428.8 279.2,428.2 279.8,428.8 280.2,428.8 280.8,428.3 281.2,428.3 281.8,428.5 282.2,429.4 282.8,429.1 283.2,428.6 283.8,427.4 284.2,428.3 284.8,428.8 285.2,428.8 285.8,429.1 286.2,429.6 286.8,429.2 287.2,429.2 287.8,428.4 288.2,429.2 288.8,428.9 289.2,429.2 289.8,429.4 290.2,430.0 290.8,429.6 291.2,427.6 291.8,426.2 292.2,426.4 292.8,427.3 293.2,427.9 293.8,428.4 294.2,429.3 294.8,429.6 295.2,428.4 295.8,428.0 296.2,427.3 296.8,427.3 297.2,427.3 297.8,428.2 298.2,428.4 298.8,428.4 299.2,428.2 299.8,427.6 300.2,426.8 300.8,426.3 301.2,426.8 301.8,427.4 302.2,429.2 302.8,429.4 303.2,429.5 303.8,427.8 304.2,426.2 304.8,426.2 305.2,426.3 305.8,427.5 306.2,428.1 306.8,429.1 307.2,428.1 307.8,427.9 308.2,428.5 308.8,428.1 309.2,428.2 309.8,428.2 310.2,428.1 310.8,428.1 311.2,428.1 311.8,428.3 312.2,426.3 312.8,425.4 313.2,424.8 313.8,426.8 314.2,426.6 314.8,427.3 315.2,427.3 315.8,426.6 316.2,426.1 316.8,426.1 317.2,425.9 317.8,426.0 318.2,426.4 318.8,427.1 319.2,427.6 319.8,426.8 320.2,426.3 320.8,424.1 321.2,424.1 321.8,425.3 322.2,425.3 322.8,425.8 323.2,425.8 323.8,425.5 324.2,425.4 324.8,420.4 325.2,418.5 325.8,419.7 326.2,424.5 326.8,424.8 327.2,424.8 327.8,424.3 328.2,424.0 328.8,424.0 329.2,424.0 329.8,424.4 330.2,425.6 330.8,425.6 331.2,425.7 331.8,425.7 332.2,425.8 332.8,425.8 333.2,422.6 333.8,423.8 334.2,425.2 334.8,426.0 335.2,426.1 335.8,426.2 336.2,426.2 336.8,425.0 337.2,424.7 337.8,424.7 338.2,425.1 338.8,427.6 339.2,427.0 339.8,427.6 340.2,426.6 340.8,426.6 341.2,426.0 341.8,426.0 342.2,426.4 342.8,426.4 343.2,426.8 343.8,426.8 344.2,424.1 344.8,424.4 345.2,425.5 345.8,425.3 346.2,423.6 346.8,423.6 347.2,426.4 347.8,426.4 348.2,425.9 348.8,423.5 349.2,422.8 349.8,421.8 350.2,422.7 350.8,423.7 351.2,424.6 351.8,426.0 352.2,426.0 352.8,424.9 353.2,422.1 353.8,422.2 354.2,423.0 354.8,423.2 355.2,423.0 355.8,423.6 356.2,422.5 356.8,422.5 357.2,419.3 357.8,418.7 358.2,418.2 358.8,422.1 359.2,422.2 359.8,422.2 360.2,422.2 360.8,422.2 361.2,415.6 361.8,415.6 362.2,417.1 362.8,421.2 363.2,418.3 363.8,419.7 364.2,420.5 364.8,422.1 365.2,419.6 365.8,416.8 366.2,416.8 366.8,418.7 367.2,418.7 367.8,418.8 368.2,414.6 368.8,413.4 369.2,417.5 369.8,419.9 370.2,417.9 370.8,418.5 371.2,417.9 371.8,419.3 372.2,421.4 372.8,419.8 373.2,416.7 373.8,414.7 374.2,413.9 374.8,416.4 375.2,420.0 375.8,419.7 376.2,417.8 376.8,418.4 377.2,418.5 377.8,418.5 378.2,415.9 378.8,415.9 379.2,415.4 379.8,418.2 380.2,418.9 380.8,417.3 381.2,417.1 381.8,415.6 382.2,415.1 382.8,417.5 383.2,420.2 383.8,418.6 384.2,416.5 384.8,411.5 385.2,410.7 385.8,418.0 386.2,417.6 386.8,417.2 387.2,418.0 387.8,421.1 388.2,421.3 388.8,418.4 389.2,417.3 389.8,417.1 390.2,416.2 390.8,415.7 391.2,415.7 391.8,420.8 392.2,418.1 392.8,416.4 393.2,416.0 393.8,417.7 394.2,418.1 394.8,420.1 395.2,418.7 395.8,421.1 396.2,420.0 396.8,419.0 397.2,418.4 397.8,419.0 398.2,419.2 398.8,419.0 399.2,419.1 399.8,419.4 400.2,419.4 400.8,420.1 401.2,420.1 401.8,415.2 402.2,414.1 402.8,414.0 403.2,417.8 403.8,420.8 404.2,420.7 404.8,420.0 405.2,418.5 405.8,416.9 406.2,416.5 406.8,414.8 407.2,417.4 407.8,419.7 408.2,417.2 408.8,420.3 409.2,418.1 409.8,416.7 410.2,407.4 410.8,403.6 411.2,398.7 411.8,403.6 412.2,414.7 412.8,418.7 413.2,414.8 413.8,414.8 414.2,414.4 414.8,416.5 415.2,416.5 415.8,419.5 416.2,419.3 416.8,418.4 417.2,418.3 417.8,418.3 418.2,416.1 418.8,414.0 419.2,415.0 419.8,416.4 420.2,417.0 420.8,418.2 421.2,415.1 421.8,410.5 422.2,410.5 422.8,415.9 423.2,419.2 423.8,419.3 424.2,420.1 424.8,414.8 425.2,417.2 425.8,414.3 426.2,412.3 426.8,412.8 427.2,414.5 427.8,415.9 428.2,418.8 428.8,417.6 429.2,418.8 429.8,414.9 430.2,414.9 430.8,413.3 431.2,413.3 431.8,416.0 432.2,420.7 432.8,414.3 433.2,416.9 433.8,418.0 434.2,418.0 434.8,415.0 435.2,416.3 435.8,420.5 436.2,417.1 436.8,419.9 437.2,419.6 437.8,418.8 438.2,416.2 438.8,412.7 439.2,412.7 439.8,416.8 440.2,416.8 440.8,419.6 441.2,418.5 441.8,414.5 442.2,413.1 442.8,413.4 443.2,414.6 443.8,414.4 444.2,416.0 444.8,417.3 445.2,415.1 445.8,411.2 446.2,411.2 446.8,411.1 447.2,411.1 447.8,411.1 448.2,416.6 448.8,415.4 449.2,412.8 449.8,411.6 450.2,406.5 450.8,406.5 451.2,413.7 451.8,415.6 452.2,415.7 452.8,390.8 453.2,381.8 453.8,381.8 454.2,390.5 454.8,394.6 455.2,395.7 455.8,405.4 456.2,417.2 456.8,416.9 457.2,415.1 457.8,408.8 458.2,409.1 458.8,409.1 459.2,410.8 459.8,410.7 460.2,415.7 460.8,417.6 461.2,417.6 461.8,414.9 462.2,414.9 462.8,415.1 463.2,415.6 463.8,417.9 464.2,412.4 464.8,418.4 465.2,419.9 465.8,419.2 466.2,416.0 466.8,412.3 467.2,415.5 467.8,416.4 468.2,418.9 468.8,420.6 469.2,419.4 469.8,419.0 470.2,419.0 470.8,418.9 471.2,416.9 471.8,414.5 472.2,415.4 472.8,420.4 473.2,420.4 473.8,419.1 474.2,417.6 474.8,418.7 475.2,417.6 475.8,416.9 476.2,417.8 476.8,418.9 477.2,418.9 477.8,417.1 478.2,415.7 478.8,414.9 479.2,415.7 479.8,416.0 480.2,417.8 480.8,417.7 481.2,417.5 481.8,417.5 482.2,415.3 482.8,409.9 483.2,409.6 483.8,413.0 484.2,413.9 484.8,415.3 485.2,412.3 485.8,410.5 486.2,409.5 486.8,411.5 487.2,411.5 487.8,413.0 488.2,413.0 488.8,413.7 489.2,414.0 489.8,412.7 490.2,410.1 490.8,408.5 491.2,408.5 491.8,409.2 492.2,409.2 492.8,408.8 493.2,379.4 493.8,409.8 494.2,410.2 494.8,410.2 495.2,409.0 495.8,406.4 496.2,409.9 496.8,414.9 497.2,411.7 497.8,412.1 498.2,412.9 498.8,413.2 499.2,414.6 499.8,415.7 500.2,415.7 500.8,419.5 501.2,419.1 501.8,418.7 502.2,415.1 502.8,414.7 503.2,414.6 503.8,415.4 504.2,416.8 504.8,419.3 505.2,420.8 505.8,420.8 506.2,418.5 506.8,416.2 507.2,414.4 507.8,414.4 508.2,419.6 508.8,420.5 509.2,420.5 509.8,420.6 510.2,420.4 510.8,418.8 511.2,417.5 511.8,415.7 512.2,418.2 512.8,420.4 513.2,420.4 513.8,421.1 514.2,421.0 514.8,416.7 515.2,415.6 515.8,415.2 516.2,416.5 516.8,420.6 517.2,422.8 517.8,419.8 518.2,419.5 518.8,419.5 519.2,419.8 519.8,419.3 520.2,419.3 520.8,417.5 521.0,417.5 521.0,436.5" fill="#c07a6a" opacity="0.65"/>
<polygon points="36.5,436.5 36.8,432.7 37.2,433.0 37.8,433.0 38.2,432.6 38.8,431.3 39.2,431.0 39.8,431.0 40.2,431.2 40.8,432.1 41.2,432.7 41.8,432.7 42.2,432.4 42.8,431.7 43.2,431.5 43.8,431.5 44.2,431.6 44.8,431.8 45.2,432.1 45.8,432.4 46.2,432.2 46.8,432.2 47.2,431.2 47.8,431.1 48.2,431.6 48.8,432.1 49.2,432.4 49.8,432.4 50.2,431.9 50.8,431.1 51.2,431.6 51.8,431.8 52.2,432.1 52.8,432.0 53.2,432.0 53.8,432.0 54.2,432.2 54.8,432.5 55.2,432.5 55.8,431.3 56.2,431.2 56.8,432.2 57.2,432.4 57.8,432.3 58.2,431.6 58.8,431.6 59.2,431.6 59.8,431.5 60.2,431.5 60.8,431.5 61.2,432.0 61.8,432.0 62.2,431.8 62.8,431.7 63.2,431.7 63.8,431.8 64.2,432.1 64.8,432.1 65.2,432.1 65.8,432.1 66.2,432.4 66.8,432.2 67.2,431.5 67.8,431.6 68.2,431.5 68.8,431.4 69.2,432.5 69.8,432.7 70.2,432.1 70.8,431.7 71.2,431.5 71.8,431.9 72.2,431.9 72.8,432.1 73.2,432.6 73.8,433.0 74.2,432.9 74.8,432.5 75.2,431.5 75.8,431.1 76.2,430.7 76.8,431.7 77.2,431.9 77.8,432.5 78.2,432.5 78.8,431.6 79.2,431.5 79.8,431.2 80.2,431.2 80.8,432.6 81.2,432.7 81.8,432.6 82.2,432.3 82.8,432.0 83.2,432.0 83.8,431.9 84.2,431.2 84.8,431.1 85.2,432.1 85.8,432.0 86.2,431.9 86.8,431.4 87.2,431.4 87.8,431.4 88.2,431.3 88.8,430.5 89.2,431.1 89.8,432.2 90.2,432.6 90.8,432.8 91.2,432.5 91.8,431.4 92.2,431.5 92.8,431.6 93.2,432.1 93.8,432.1 94.2,432.1 94.8,432.1 95.2,432.3 95.8,432.3 96.2,431.9 96.8,431.6 97.2,431.6 97.8,432.2 98.2,432.2 98.8,432.2 99.2,432.2 99.8,431.3 100.2,431.0 100.8,431.4 101.2,432.3 101.8,432.5 102.2,432.5 102.8,432.6 103.2,432.1 103.8,432.0 104.2,431.3 104.8,431.8 105.2,432.2 105.8,431.8 106.2,431.7 106.8,431.9 107.2,432.2 107.8,431.7 108.2,431.2 108.8,431.3 109.2,431.0 109.8,432.6 110.2,432.9 110.8,432.7 111.2,432.2 111.8,431.1 112.2,431.1 112.8,430.8 113.2,431.5 113.8,432.4 114.2,432.6 114.8,431.9 115.2,431.2 115.8,431.4 116.2,431.4 116.8,431.4 117.2,432.2 117.8,432.9 118.2,432.6 118.8,431.9 119.2,431.8 119.8,431.4 120.2,431.3 120.8,431.5 121.2,431.8 121.8,432.1 122.2,432.8 122.8,432.1 123.2,431.8 123.8,431.4 124.2,431.2 124.8,431.2 125.2,432.1 125.8,432.4 126.2,432.4 126.8,431.9 127.2,431.7 127.8,431.5 128.2,432.2 128.8,431.8 129.2,432.3 129.8,432.8 130.2,432.6 130.8,432.7 131.2,432.4 131.8,432.1 132.2,431.4 132.8,431.7 133.2,432.0 133.8,432.7 134.2,432.4 134.8,431.5 135.2,432.1 135.8,432.5 136.2,432.1 136.8,432.0 137.2,432.1 137.8,432.2 138.2,432.7 138.8,432.2 139.2,431.7 139.8,431.4 140.2,431.4 140.8,431.9 141.2,432.2 141.8,432.7 142.2,433.0 142.8,432.6 143.2,431.9 143.8,431.4 144.2,431.3 144.8,431.9 145.2,432.6 145.8,432.6 146.2,432.9 146.8,432.6 147.2,432.2 147.8,431.9 148.2,432.1 148.8,432.1 149.2,433.0 149.8,433.0 150.2,433.1 150.8,433.1 151.2,431.9 151.8,432.0 152.2,432.2 152.8,432.2 153.2,432.7 153.8,433.0 154.2,432.9 154.8,432.9 155.2,432.1 155.8,432.0 156.2,431.9 156.8,431.9 157.2,432.1 157.8,432.9 158.2,432.9 158.8,432.9 159.2,432.2 159.8,432.5 160.2,432.2 160.8,432.2 161.2,432.4 161.8,432.8 162.2,432.8 162.8,432.6 163.2,432.0 163.8,431.2 164.2,431.5 164.8,432.0 165.2,432.8 165.8,432.8 166.2,432.8 166.8,432.8 167.2,432.5 167.8,432.3 168.2,432.5 168.8,432.5 169.2,432.6 169.8,433.3 170.2,433.3 170.8,433.0 171.2,432.9 171.8,432.1 172.2,431.6 172.8,432.3 173.2,432.6 173.8,432.6 174.2,432.8 174.8,432.8 175.2,432.7 175.8,432.9 176.2,432.9 176.8,432.5 177.2,432.2 177.8,432.6 178.2,433.0 178.8,433.1 179.2,432.7 179.8,432.4 180.2,432.1 180.8,432.1 181.2,432.2 181.8,432.7 182.2,432.5 182.8,432.5 183.2,432.7 183.8,432.7 184.2,432.5 184.8,432.6 185.2,432.8 185.8,433.0 186.2,433.3 186.8,433.0 187.2,433.0 187.8,432.4 188.2,432.2 188.8,432.3 189.2,432.7 189.8,433.2 190.2,433.3 190.8,433.3 191.2,433.0 191.8,432.5 192.2,432.3 192.8,432.0 193.2,432.5 193.8,433.1 194.2,433.2 194.8,433.5 195.2,433.5 195.8,432.8 196.2,432.6 196.8,432.7 197.2,432.8 197.8,433.4 198.2,433.5 198.8,433.3 199.2,432.9 199.8,432.7 200.2,432.6 200.8,432.7 201.2,432.7 201.8,432.7 202.2,433.2 202.8,433.0 203.2,433.0 203.8,433.0 204.2,432.9 204.8,432.6 205.2,432.5 205.8,433.0 206.2,433.3 206.8,433.3 207.2,432.2 207.8,432.2 208.2,432.2 208.8,432.5 209.2,432.8 209.8,433.1 210.2,433.0 210.8,432.7 211.2,432.7 211.8,432.7 212.2,432.8 212.8,432.8 213.2,433.0 213.8,433.0 214.2,433.3 214.8,433.3 215.2,432.6 215.8,432.6 216.2,431.8 216.8,431.6 217.2,432.2 217.8,432.7 218.2,432.7 218.8,432.5 219.2,432.2 219.8,432.2 220.2,432.0 220.8,432.0 221.2,432.5 221.8,432.6 222.2,432.7 222.8,432.9 223.2,432.5 223.8,432.2 224.2,431.9 224.8,431.9 225.2,432.5 225.8,432.5 226.2,432.8 226.8,432.8 227.2,432.3 227.8,432.0 228.2,431.9 228.8,431.8 229.2,432.4 229.8,432.0 230.2,432.4 230.8,432.6 231.2,432.6 231.8,432.1 232.2,431.7 232.8,431.7 233.2,431.6 233.8,431.6 234.2,431.7 234.8,432.0 235.2,431.3 235.8,431.2 236.2,431.2 236.8,431.8 237.2,431.8 237.8,431.9 238.2,431.9 238.8,432.4 239.2,432.4 239.8,431.9 240.2,431.3 240.8,431.5 241.2,431.6 241.8,431.8 242.2,431.8 242.8,431.8 243.2,431.7 243.8,431.1 244.2,430.2 244.8,431.1 245.2,430.8 245.8,431.0 246.2,431.5 246.8,432.2 247.2,431.0 247.8,430.3 248.2,431.6 248.8,431.5 249.2,431.5 249.8,431.6 250.2,431.4 250.8,430.3 251.2,430.9 251.8,430.5 252.2,431.0 252.8,430.7 253.2,430.9 253.8,430.9 254.2,432.0 254.8,431.7 255.2,431.6 255.8,430.1 256.2,429.8 256.8,429.9 257.2,429.5 257.8,430.7 258.2,431.2 258.8,431.2 259.2,431.1 259.8,431.1 260.2,430.0 260.8,429.9 261.2,429.9 261.8,430.7 262.2,431.0 262.8,430.8 263.2,430.5 263.8,429.4 264.2,429.4 264.8,429.7 265.2,429.4 265.8,430.3 266.2,430.9 266.8,430.2 267.2,429.7 267.8,428.6 268.2,428.7 268.8,429.7 269.2,430.4 269.8,430.0 270.2,429.9 270.8,429.9 271.2,429.9 271.8,429.3 272.2,429.5 272.8,429.8 273.2,430.7 273.8,430.8 274.2,430.5 274.8,429.6 275.2,429.0 275.8,429.6 276.2,429.7 276.8,430.2 277.2,430.1 277.8,430.5 278.2,430.8 278.8,429.4 279.2,429.4 279.8,429.3 280.2,429.3 280.8,429.3 281.2,428.9 281.8,429.6 282.2,431.1 282.8,429.6 283.2,429.9 283.8,429.1 284.2,429.3 284.8,429.7 285.2,430.3 285.8,430.5 286.2,430.7 286.8,430.7 287.2,430.2 287.8,429.8 288.2,429.5 288.8,429.5 289.2,429.7 289.8,430.4 290.2,430.5 290.8,430.0 291.2,429.5 291.8,427.6 292.2,427.6 292.8,429.7 293.2,429.8 293.8,429.8 294.2,430.2 294.8,430.8 295.2,429.7 295.8,428.9 296.2,428.9 296.8,428.9 297.2,428.3 297.8,428.7 298.2,430.1 298.8,430.5 299.2,428.6 299.8,428.1 300.2,427.8 300.8,427.2 301.2,427.5 301.8,429.0 302.2,430.5 302.8,430.5 303.2,430.4 303.8,429.4 304.2,427.8 304.8,427.4 305.2,426.6 305.8,429.6 306.2,429.6 306.8,430.0 307.2,429.1 307.8,428.8 308.2,428.8 308.8,428.6 309.2,428.6 309.8,429.0 310.2,429.0 310.8,428.9 311.2,429.1 311.8,429.2 312.2,428.7 312.8,428.5 313.2,426.8 313.8,428.6 314.2,429.6 314.8,429.6 315.2,428.4 315.8,427.8 316.2,426.6 316.8,427.5 317.2,427.7 317.8,427.7 318.2,427.6 318.8,427.6 319.2,428.1 319.8,428.1 320.2,427.6 320.8,426.5 321.2,425.6 321.8,426.5 322.2,426.5 322.8,427.5 323.2,426.8 323.8,426.3 324.2,426.1 324.8,425.2 325.2,423.0 325.8,423.7 326.2,426.0 326.8,426.0 327.2,426.4 327.8,426.1 328.2,426.3 328.8,424.9 329.2,424.9 329.8,425.1 330.2,426.2 330.8,426.2 331.2,426.4 331.8,426.9 332.2,426.6 332.8,426.2 333.2,426.0 333.8,426.2 334.2,426.5 334.8,427.4 335.2,428.2 335.8,428.2 336.2,427.5 336.8,426.3 337.2,425.1 337.8,425.9 338.2,426.8 338.8,428.8 339.2,428.2 339.8,428.8 340.2,428.4 340.8,426.8 341.2,426.8 341.8,426.8 342.2,427.9 342.8,428.4 343.2,428.4 343.8,428.1 344.2,426.8 344.8,427.4 345.2,427.4 345.8,425.8 346.2,425.9 346.8,426.4 347.2,427.2 347.8,427.2 348.2,427.1 348.8,425.9 349.2,424.3 349.8,422.8 350.2,424.3 350.8,425.9 351.2,426.2 351.8,426.2 352.2,427.1 352.8,426.0 353.2,425.1 353.8,424.9 354.2,424.3 354.8,424.8 355.2,424.6 355.8,424.8 356.2,424.6 356.8,423.6 357.2,423.1 357.8,422.2 358.2,422.5 358.8,422.8 359.2,422.8 359.8,422.3 360.2,423.7 360.8,423.7 361.2,421.7 361.8,421.7 362.2,424.1 362.8,422.4 363.2,421.6 363.8,423.2 364.2,423.2 364.8,423.2 365.2,420.2 365.8,420.0 366.2,420.0 366.8,419.7 367.2,420.7 367.8,420.7 368.2,420.7 368.8,418.6 369.2,421.5 369.8,422.4 370.2,421.8 370.8,419.9 371.2,419.3 371.8,421.5 372.2,422.7 372.8,422.0 373.2,421.1 373.8,418.6 374.2,416.4 374.8,420.0 375.2,422.0 375.8,422.5 376.2,422.0 376.8,421.0 377.2,422.6 377.8,421.6 378.2,420.0 378.8,419.0 379.2,419.0 379.8,420.6 380.2,421.6 380.8,421.4 381.2,421.0 381.8,417.1 382.2,417.1 382.8,420.8 383.2,421.6 383.8,420.8 384.2,420.4 384.8,418.6 385.2,418.4 385.8,419.0 386.2,419.0 386.8,418.1 387.2,421.1 387.8,423.5 388.2,423.5 388.8,422.7 389.2,419.5 389.8,419.3 390.2,419.3 390.8,416.9 391.2,421.9 391.8,422.6 392.2,422.6 392.8,418.1 393.2,417.0 393.8,420.7 394.2,421.2 394.8,421.2 395.2,421.1 395.8,421.8 396.2,421.8 396.8,420.7 397.2,421.5 397.8,421.3 398.2,421.1 398.8,419.3 399.2,419.8 399.8,422.3 400.2,422.3 400.8,423.6 401.2,421.5 401.8,420.5 402.2,417.7 402.8,417.7 403.2,422.2 403.8,423.5 404.2,423.4 404.8,420.6 405.2,420.0 405.8,420.1 406.2,418.3 406.8,417.4 407.2,420.8 407.8,421.6 408.2,421.2 408.8,421.6 409.2,421.6 409.8,421.5 410.2,418.1 410.8,418.2 411.2,418.2 411.8,419.3 412.2,419.4 412.8,419.9 413.2,418.4 413.8,416.9 414.2,418.0 414.8,418.0 415.2,419.3 415.8,420.7 416.2,420.7 416.8,420.7 417.2,421.7 417.8,418.8 418.2,418.3 418.8,417.7 419.2,417.7 419.8,420.4 420.2,419.5 420.8,419.9 421.2,418.7 421.8,416.4 422.2,417.1 422.8,419.2 423.2,419.4 423.8,421.5 424.2,421.5 424.8,417.6 425.2,420.3 425.8,420.7 426.2,421.0 426.8,418.4 427.2,418.4 427.8,419.0 428.2,421.4 428.8,419.4 429.2,419.4 429.8,419.2 430.2,419.2 430.8,419.2 431.2,417.9 431.8,418.9 432.2,423.6 432.8,420.5 433.2,422.3 433.8,421.2 434.2,420.1 434.8,418.7 435.2,420.5 435.8,421.3 436.2,421.9 436.8,422.6 437.2,421.4 437.8,419.9 438.2,417.9 438.8,414.1 439.2,418.6 439.8,419.4 440.2,419.6 440.8,420.7 441.2,419.9 441.8,416.7 442.2,415.7 442.8,416.5 443.2,417.5 443.8,417.0 444.2,418.5 444.8,420.3 445.2,417.8 445.8,417.3 446.2,416.9 446.8,416.1 447.2,414.2 447.8,415.8 448.2,420.1 448.8,417.8 449.2,415.6 449.8,415.6 450.2,412.9 450.8,412.9 451.2,415.7 451.8,417.1 452.2,417.1 452.8,415.8 453.2,390.0 453.8,412.1 454.2,392.0 454.8,409.4 455.2,410.3 455.8,417.2 456.2,418.4 456.8,418.6 457.2,417.6 457.8,414.2 458.2,415.1 458.8,413.6 459.2,414.7 459.8,414.7 460.2,419.7 460.8,419.7 461.2,418.5 461.8,417.6 462.2,415.8 462.8,415.8 463.2,418.0 463.8,419.6 464.2,418.5 464.8,423.0 465.2,422.8 465.8,420.5 466.2,419.7 466.8,417.3 467.2,417.3 467.8,418.7 468.2,421.6 468.8,421.6 469.2,420.6 469.8,420.1 470.2,419.7 470.8,419.7 471.2,418.9 471.8,417.6 472.2,418.0 472.8,422.1 473.2,422.1 473.8,422.1 474.2,421.9 474.8,420.9 475.2,420.0 475.8,419.6 476.2,420.7 476.8,421.6 477.2,422.0 477.8,418.9 478.2,418.4 478.8,417.2 479.2,418.3 479.8,418.3 480.2,421.9 480.8,421.9 481.2,420.6 481.8,419.8 482.2,417.1 482.8,414.0 483.2,414.0 483.8,415.6 484.2,416.7 484.8,416.7 485.2,416.2 485.8,412.3 486.2,414.5 486.8,417.9 487.2,414.3 487.8,414.3 488.2,414.3 488.8,414.6 489.2,414.8 489.8,414.8 490.2,412.7 490.8,410.3 491.2,410.7 491.8,411.1 492.2,411.6 492.8,411.1 493.2,410.3 493.8,416.4 494.2,416.3 494.8,413.9 495.2,413.9 495.8,411.9 496.2,416.9 496.8,416.9 497.2,414.9 497.8,415.8 498.2,415.7 498.8,415.7 499.2,415.7 499.8,418.4 500.2,420.3 500.8,420.7 501.2,419.8 501.8,420.7 502.2,418.7 502.8,418.1 503.2,417.1 503.8,417.1 504.2,420.8 504.8,424.6 505.2,425.2 505.8,425.2 506.2,420.8 506.8,420.3 507.2,419.9 507.8,419.6 508.2,420.5 508.8,423.7 509.2,424.3 509.8,423.1 510.2,421.0 510.8,421.0 511.2,419.0 511.8,418.2 512.2,419.1 512.8,421.7 513.2,423.0 513.8,422.8 514.2,422.8 514.8,418.3 515.2,418.3 515.8,418.3 516.2,421.1 516.8,422.8 517.2,423.5 517.8,423.2 518.2,421.5 518.8,420.7 519.2,421.9 519.8,419.9 520.2,419.9 520.8,419.9 521.0,419.9 521.0,436.5" fill="#b9645a" opacity="0.8"/>
<polygon points="36.5,436.5 36.8,433.2 37.2,433.3 37.8,433.3 38.2,432.8 38.8,432.6 39.2,432.2 39.8,432.2 40.2,432.2 40.8,432.6 41.2,432.8 41.8,433.3 42.2,432.8 42.8,432.4 43.2,431.7 43.8,432.3 44.2,432.3 44.8,432.3 45.2,432.4 45.8,433.2 46.2,433.1 46.8,432.4 47.2,431.9 47.8,431.9 48.2,431.9 48.8,432.4 49.2,432.5 49.8,432.8 50.2,432.8 50.8,431.6 51.2,432.1 51.8,432.1 52.2,432.8 52.8,432.1 53.2,432.9 53.8,432.9 54.2,432.8 54.8,432.8 55.2,432.8 55.8,432.2 56.2,432.2 56.8,432.5 57.2,432.5 57.8,432.4 58.2,432.3 58.8,432.0 59.2,432.0 59.8,431.9 60.2,431.9 60.8,431.5 61.2,432.8 61.8,432.9 62.2,432.0 62.8,432.0 63.2,431.8 63.8,432.5 64.2,432.4 64.8,432.4 65.2,432.1 65.8,432.9 66.2,432.5 66.8,432.4 67.2,431.6 67.8,431.6 68.2,431.6 68.8,431.6 69.2,432.9 69.8,433.0 70.2,433.0 70.8,432.1 71.2,431.7 71.8,432.1 72.2,432.1 72.8,432.2 73.2,433.1 73.8,433.1 74.2,433.0 74.8,433.0 75.2,432.1 75.8,431.5 76.2,432.2 76.8,432.4 77.2,432.5 77.8,432.8 78.2,432.7 78.8,432.3 79.2,431.9 79.8,431.4 80.2,431.4 80.8,432.8 81.2,432.9 81.8,432.7 82.2,432.7 82.8,432.3 83.2,432.4 83.8,432.1 84.2,432.0 84.8,432.1 85.2,432.4 85.8,432.4 86.2,432.0 86.8,431.9 87.2,431.7 87.8,431.8 88.2,431.7 88.8,431.3 89.2,431.4 89.8,432.6 90.2,433.1 90.8,433.1 91.2,432.9 91.8,431.7 92.2,431.7 92.8,431.8 93.2,432.5 93.8,432.5 94.2,432.3 94.8,432.5 95.2,432.5 95.8,432.5 96.2,432.5 96.8,432.3 97.2,432.1 97.8,432.9 98.2,432.9 98.8,432.7 99.2,432.3 99.8,431.8 100.2,431.4 100.8,431.9 101.2,432.8 101.8,432.7 102.2,432.8 102.8,432.8 103.2,432.6 103.8,432.2 104.2,432.0 104.8,432.2 105.2,432.9 105.8,432.1 106.2,431.9 106.8,432.2 107.2,432.7 107.8,432.3 108.2,431.6 108.8,431.8 109.2,431.8 109.8,432.9 110.2,432.9 110.8,432.9 111.2,432.5 111.8,431.8 112.2,432.5 112.8,432.5 113.2,432.6 113.8,432.6 114.2,433.4 114.8,432.4 115.2,431.4 115.8,432.0 116.2,431.4 116.8,432.2 117.2,432.9 117.8,433.2 118.2,433.1 118.8,432.4 119.2,432.0 119.8,432.0 120.2,431.7 120.8,431.7 121.2,432.0 121.8,432.9 122.2,432.9 122.8,432.8 123.2,431.9 123.8,431.7 124.2,431.7 124.8,431.9 125.2,432.4 125.8,432.9 126.2,432.8 126.8,432.6 127.2,431.9 127.8,432.2 128.2,432.7 128.8,432.7 129.2,432.9 129.8,433.1 130.2,433.0 130.8,433.1 131.2,432.7 131.8,432.4 132.2,432.1 132.8,432.1 133.2,432.7 133.8,433.3 134.2,433.3 134.8,432.4 135.2,432.7 135.8,432.7 136.2,432.5 136.8,432.5 137.2,432.8 137.8,433.0 138.2,432.9 138.8,432.9 139.2,432.7 139.8,431.7 140.2,431.9 140.8,432.1 141.2,432.7 141.8,433.0 142.2,433.0 142.8,432.9 143.2,432.5 143.8,431.9 144.2,431.9 144.8,432.4 145.2,432.6 145.8,433.1 146.2,433.1 146.8,433.0 147.2,432.6 147.8,432.2 148.2,432.3 148.8,432.4 149.2,433.2 149.8,433.2 150.2,433.2 150.8,433.3 151.2,432.4 151.8,432.8 152.2,432.8 152.8,432.7 153.2,433.0 153.8,433.2 154.2,433.0 154.8,433.4 155.2,432.6 155.8,432.1 156.2,432.1 156.8,432.1 157.2,432.4 157.8,433.0 158.2,433.2 158.8,433.0 159.2,432.7 159.8,432.7 160.2,432.5 160.8,432.5 161.2,432.6 161.8,433.0 162.2,433.0 162.8,432.8 163.2,432.6 163.8,432.0 164.2,432.0 164.8,432.9 165.2,433.2 165.8,433.4 166.2,433.4 166.8,433.0 167.2,432.6 167.8,432.5 168.2,432.5 168.8,432.6 169.2,432.8 169.8,433.6 170.2,433.4 170.8,433.5 171.2,433.3 171.8,432.7 172.2,432.3 172.8,432.7 173.2,432.7 173.8,432.9 174.2,433.1 174.8,433.1 175.2,433.2 175.8,433.2 176.2,433.2 176.8,433.1 177.2,432.5 177.8,433.1 178.2,433.4 178.8,433.4 179.2,432.8 179.8,432.8 180.2,432.2 180.8,432.2 181.2,432.7 181.8,433.3 182.2,432.7 182.8,432.8 183.2,432.8 183.8,433.2 184.2,432.7 184.8,432.9 185.2,432.9 185.8,433.4 186.2,433.4 186.8,433.2 187.2,433.1 187.8,432.9 188.2,432.4 188.8,432.7 189.2,432.9 189.8,433.3 190.2,433.4 190.8,433.4 191.2,433.2 191.8,432.5 192.2,432.5 192.8,432.5 193.2,433.1 193.8,433.5 194.2,433.5 194.8,433.5 195.2,433.6 195.8,433.0 196.2,433.2 196.8,433.2 197.2,433.2 197.8,433.6 198.2,433.6 198.8,433.4 199.2,433.3 199.8,432.9 200.2,433.1 200.8,433.1 201.2,433.2 201.8,433.3 202.2,433.4 202.8,433.2 203.2,433.1 203.8,433.1 204.2,433.0 204.8,432.9 205.2,432.9 205.8,433.3 206.2,433.5 206.8,433.4 207.2,432.7 207.8,432.2 208.2,432.5 208.8,432.8 209.2,433.1 209.8,433.2 210.2,433.2 210.8,433.0 211.2,432.8 211.8,433.0 212.2,433.0 212.8,433.1 213.2,433.3 213.8,433.3 214.2,433.6 214.8,433.6 215.2,433.2 215.8,432.7 216.2,432.2 216.8,432.0 217.2,432.7 217.8,433.2 218.2,433.2 218.8,432.8 219.2,432.5 219.8,432.5 220.2,432.2 220.8,432.3 221.2,432.6 221.8,432.8 222.2,433.1 222.8,433.3 223.2,432.9 223.8,432.4 224.2,432.2 224.8,432.5 225.2,432.6 225.8,432.6 226.2,433.1 226.8,433.0 227.2,432.5 227.8,432.5 228.2,432.5 228.8,432.5 229.2,432.5 229.8,432.4 230.2,432.5 230.8,433.1 231.2,432.9 231.8,432.5 232.2,431.8 232.8,431.8 233.2,431.7 233.8,431.7 234.2,432.4 234.8,432.4 235.2,432.0 235.8,431.3 236.2,432.2 236.8,432.3 237.2,432.3 237.8,432.3 238.2,432.4 238.8,432.7 239.2,432.5 239.8,432.4 240.2,431.6 240.8,431.6 241.2,431.8 241.8,432.3 242.2,432.3 242.8,432.3 243.2,432.3 243.8,431.7 244.2,431.4 244.8,431.8 245.2,431.1 245.8,431.5 246.2,433.1 246.8,433.1 247.2,432.2 247.8,432.0 248.2,431.8 248.8,431.6 249.2,431.7 249.8,431.7 250.2,431.6 250.8,431.4 251.2,431.4 251.8,431.3 252.2,431.3 252.8,431.1 253.2,431.6 253.8,431.0 254.2,432.9 254.8,432.1 255.2,431.7 255.8,431.6 256.2,430.5 256.8,430.7 257.2,430.7 257.8,431.3 258.2,431.7 258.8,431.4 259.2,431.3 259.8,431.2 260.2,430.7 260.8,430.7 261.2,430.6 261.8,431.0 262.2,431.5 262.8,431.8 263.2,431.0 263.8,431.0 264.2,430.5 264.8,430.5 265.2,430.5 265.8,430.9 266.2,431.9 266.8,430.8 267.2,430.1 267.8,428.9 268.2,428.8 268.8,430.4 269.2,430.9 269.8,431.0 270.2,430.4 270.8,431.4 271.2,431.8 271.8,429.9 272.2,430.3 272.8,430.3 273.2,430.8 273.8,431.1 274.2,431.4 274.8,430.5 275.2,430.6 275.8,430.6 276.2,430.5 276.8,430.5 277.2,430.5 277.8,430.8 278.2,431.2 278.8,431.6 279.2,431.6 279.8,429.7 280.2,429.7 280.8,429.7 281.2,429.3 281.8,430.7 282.2,431.5 282.8,431.4 283.2,430.7 283.8,429.9 284.2,429.9 284.8,430.1 285.2,430.5 285.8,430.7 286.2,431.1 286.8,431.2 287.2,430.5 287.8,430.0 288.2,429.9 288.8,430.0 289.2,430.2 289.8,430.5 290.2,431.3 290.8,430.8 291.2,429.7 291.8,429.4 292.2,429.4 292.8,430.2 293.2,430.2 293.8,430.3 294.2,430.8 294.8,431.1 295.2,430.6 295.8,429.7 296.2,429.2 296.8,429.2 297.2,429.1 297.8,430.2 298.2,430.5 298.8,430.8 299.2,429.2 299.8,428.8 300.2,428.8 300.8,427.8 301.2,428.2 301.8,430.0 302.2,430.7 302.8,430.7 303.2,430.6 303.8,429.6 304.2,429.0 304.8,427.7 305.2,427.7 305.8,430.3 306.2,430.3 306.8,430.4 307.2,430.0 307.8,429.4 308.2,429.4 308.8,429.4 309.2,429.4 309.8,429.4 310.2,430.4 310.8,430.5 311.2,430.5 311.8,429.8 312.2,429.7 312.8,428.6 313.2,428.6 313.8,429.7 314.2,429.8 314.8,429.8 315.2,429.4 315.8,428.3 316.2,427.8 316.8,427.8 317.2,428.2 317.8,428.2 318.2,428.0 318.8,428.3 319.2,428.7 319.8,428.7 320.2,428.1 320.8,427.6 321.2,426.3 321.8,426.5 322.2,426.8 322.8,428.2 323.2,428.2 323.8,427.9 324.2,426.3 324.8,425.9 325.2,425.0 325.8,424.5 326.2,427.9 326.8,427.9 327.2,427.9 327.8,426.4 328.2,427.5 328.8,426.3 329.2,426.3 329.8,426.1 330.2,427.1 330.8,427.3 331.2,427.2 331.8,427.2 332.2,427.2 332.8,426.6 333.2,426.4 333.8,428.1 334.2,429.1 334.8,428.8 335.2,429.2 335.8,429.3 336.2,428.3 336.8,426.8 337.2,426.3 337.8,426.8 338.2,429.5 338.8,429.5 339.2,429.1 339.8,429.4 340.2,429.7 340.8,428.4 341.2,427.9 341.8,427.5 342.2,428.8 342.8,429.0 343.2,429.9 343.8,428.7 344.2,428.1 344.8,428.1 345.2,427.6 345.8,426.7 346.2,427.0 346.8,427.1 347.2,427.8 347.8,427.5 348.2,427.8 348.8,427.8 349.2,425.8 349.8,424.3 350.2,426.2 350.8,426.2 351.2,428.3 351.8,428.3 352.2,428.1 352.8,428.1 353.2,426.5 353.8,425.8 354.2,426.1 354.8,426.1 355.2,425.3 355.8,425.3 356.2,425.2 356.8,424.8 357.2,423.6 357.8,423.1 358.2,423.6 358.8,424.3 359.2,424.3 359.8,423.6 360.2,425.0 360.8,424.3 361.2,423.6 361.8,424.3 362.2,424.8 362.8,424.6 363.2,422.4 363.8,424.2 364.2,424.2 364.8,424.2 365.2,423.1 365.8,423.1 366.2,422.8 366.8,421.1 367.2,421.8 367.8,421.8 368.2,423.0 368.8,421.5 369.2,423.4 369.8,423.6 370.2,422.5 370.8,421.2 371.2,422.7 371.8,423.4 372.2,423.5 372.8,423.4 373.2,423.2 373.8,419.8 374.2,418.8 374.8,420.0 375.2,424.1 375.8,424.1 376.2,423.7 376.8,422.6 377.2,424.4 377.8,423.4 378.2,421.6 378.8,420.0 379.2,420.2 379.8,421.8 380.2,421.9 380.8,422.3 381.2,421.4 381.8,421.0 382.2,418.9 382.8,421.6 383.2,423.4 383.8,423.4 384.2,422.4 384.8,420.4 385.2,419.1 385.8,420.7 386.2,422.5 386.8,421.2 387.2,422.7 387.8,425.3 388.2,425.3 388.8,423.2 389.2,421.3 389.8,420.9 390.2,420.9 390.8,420.8 391.2,422.6 391.8,424.2 392.2,423.3 392.8,420.9 393.2,420.2 393.8,421.5 394.2,422.7 394.8,422.7 395.2,422.8 395.8,422.8 396.2,424.0 396.8,424.4 397.2,423.5 397.8,421.5 398.2,421.5 398.8,420.1 399.2,422.8 399.8,422.9 400.2,423.6 400.8,424.0 401.2,424.1 401.8,421.0 402.2,420.9 402.8,420.3 403.2,423.7 403.8,425.3 404.2,425.3 404.8,423.4 405.2,420.6 405.8,421.0 406.2,420.8 406.8,420.8 407.2,421.2 407.8,422.3 408.2,423.5 408.8,423.1 409.2,422.8 409.8,422.8 410.2,421.3 410.8,421.1 411.2,419.4 411.8,422.4 412.2,421.8 412.8,421.8 413.2,419.9 413.8,418.0 414.2,418.2 414.8,419.3 415.2,420.6 415.8,421.6 416.2,421.6 416.8,422.3 417.2,422.5 417.8,422.3 418.2,418.8 418.8,420.9 419.2,420.9 419.8,422.0 420.2,420.4 420.8,422.2 421.2,419.3 421.8,417.1 422.2,419.2 422.8,419.5 423.2,421.9 423.8,421.9 424.2,421.9 424.8,420.3 425.2,421.6 425.8,423.3 426.2,422.0 426.8,421.0 427.2,419.0 427.8,421.1 428.2,422.3 428.8,421.4 429.2,421.8 429.8,420.2 430.2,420.0 430.8,419.9 431.2,419.9 431.8,423.6 432.2,424.4 432.8,423.2 433.2,425.0 433.8,422.3 434.2,421.2 434.8,420.5 435.2,420.9 435.8,422.9 436.2,422.9 436.8,422.9 437.2,422.6 437.8,421.4 438.2,418.8 438.8,417.7 439.2,419.6 439.8,420.3 440.2,420.3 440.8,421.0 441.2,420.7 441.8,418.7 442.2,416.7 442.8,417.5 443.2,419.4 443.8,418.5 444.2,421.6 444.8,422.5 445.2,422.5 445.8,418.2 446.2,419.3 446.8,416.9 447.2,416.9 447.8,420.6 448.2,421.3 448.8,422.9 449.2,417.8 449.8,417.9 450.2,415.1 450.8,414.7 451.2,417.4 451.8,419.1 452.2,417.8 452.8,417.1 453.2,390.8 453.8,412.4 454.2,412.1 454.8,410.8 455.2,415.1 455.8,418.4 456.2,419.3 456.8,419.3 457.2,418.7 457.8,415.4 458.2,415.8 458.8,414.7 459.2,417.0 459.8,417.8 460.2,420.5 460.8,420.5 461.2,419.7 461.8,418.5 462.2,418.0 462.8,417.1 463.2,418.5 463.8,421.2 464.2,420.2 464.8,423.6 465.2,423.5 465.8,422.3 466.2,420.4 466.8,419.1 467.2,419.1 467.8,423.2 468.2,423.2 468.8,422.8 469.2,421.6 469.8,420.6 470.2,420.2 470.8,421.0 471.2,420.8 471.8,421.6 472.2,422.6 472.8,423.1 473.2,423.1 473.8,422.7 474.2,422.2 474.8,422.1 475.2,420.6 475.8,420.3 476.2,421.4 476.8,422.8 477.2,422.8 477.8,420.4 478.2,420.3 478.8,420.3 479.2,420.3 479.8,422.6 480.2,422.5 480.8,422.5 481.2,422.5 481.8,421.3 482.2,419.8 482.8,416.6 483.2,417.8 483.8,417.8 484.2,417.8 484.8,418.3 485.2,418.3 485.8,415.1 486.2,415.9 486.8,418.8 487.2,417.9 487.8,417.9 488.2,415.8 488.8,418.8 489.2,418.8 489.8,418.8 490.2,415.1 490.8,412.7 491.2,415.6 491.8,416.3 492.2,415.1 492.8,411.6 493.2,415.9 493.8,417.8 494.2,417.8 494.8,416.3 495.2,416.1 495.8,416.1 496.2,419.0 496.8,417.9 497.2,417.6 497.8,417.6 498.2,419.1 498.8,416.0 499.2,416.8 499.8,421.5 500.2,421.7 500.8,421.6 501.2,420.7 501.8,421.6 502.2,419.5 502.8,420.1 503.2,418.4 503.8,420.8 504.2,423.4 504.8,427.9 505.2,427.9 505.8,426.3 506.2,421.3 506.8,421.3 507.2,421.5 507.8,420.4 508.2,422.0 508.8,424.3 509.2,425.7 509.8,424.3 510.2,423.5 510.8,423.1 511.2,422.9 511.8,419.0 512.2,421.7 512.8,423.0 513.2,425.3 513.8,424.7 514.2,424.3 514.8,421.2 515.2,422.3 515.8,421.3 516.2,422.7 516.8,423.7 517.2,424.1 517.8,424.1 518.2,423.2 518.8,421.9 519.2,423.4 519.8,422.7 520.2,422.7 520.8,422.3 521.0,422.3 521.0,436.5" fill="#b9645a"/>
<polyline points="36.5,431.5 36.9,431.7 37.4,431.8 37.9,431.9 38.4,431.9 38.9,431.8 39.3,431.7 39.8,431.5 40.3,431.4 40.8,431.4 41.3,431.6 41.7,431.8 42.2,431.8 42.7,431.5 43.2,431.5 43.7,431.4 44.1,431.5 44.6,431.5 45.1,431.5 45.6,431.7 46.1,431.7 46.6,431.8 47.0,431.7 47.5,431.5 48.0,431.4 48.5,431.4 49.0,431.5 49.4,431.6 49.9,431.7 50.4,431.5 50.9,431.4 51.4,431.3 51.8,431.5 52.3,431.5 52.8,431.5 53.3,431.6 53.8,431.6 54.3,431.7 54.7,431.8 55.2,431.8 55.7,431.7 56.2,431.5 56.7,431.5 57.1,431.6 57.6,431.5 58.1,431.4 58.6,431.5 59.1,431.5 59.6,431.5 60.0,431.4 60.5,431.2 61.0,431.2 61.5,431.4 62.0,431.5 62.4,431.5 62.9,431.4 63.4,431.2 63.9,431.3 64.4,431.5 64.9,431.5 65.3,431.6 65.8,431.6 66.3,431.6 66.8,431.5 67.3,431.3 67.8,431.3 68.2,431.3 68.7,431.3 69.2,431.4 69.7,431.5 70.2,431.6 70.6,431.6 71.1,431.5 71.6,431.2 72.1,431.4 72.6,431.4 73.1,431.4 73.5,431.6 74.0,431.7 74.5,431.8 75.0,431.8 75.5,431.5 76.0,431.4 76.4,431.3 76.9,431.3 77.4,431.2 77.9,431.4 78.4,431.5 78.9,431.6 79.4,431.5 79.9,431.4 80.3,431.4 80.8,431.5 81.3,431.7 81.8,431.8 82.3,431.8 82.8,431.7 83.3,431.6 83.7,431.7 84.2,431.6 84.7,431.5 85.2,431.5 85.7,431.6 86.2,431.5 86.7,431.5 87.1,431.4 87.6,431.4 88.1,431.4 88.6,431.2 89.1,431.1 89.6,431.2 90.1,431.3 90.6,431.5 91.0,431.6 91.5,431.6 92.0,431.5 92.5,431.5 93.0,431.5 93.5,431.6 94.0,431.7 94.4,431.7 94.9,431.7 95.4,431.7 95.9,431.6 96.4,431.6 96.9,431.6 97.4,431.5 97.8,431.5 98.3,431.6 98.8,431.7 99.3,431.6 99.8,431.3 100.2,431.2 100.7,431.1 101.2,431.3 101.7,431.5 102.1,431.6 102.6,431.7 103.1,431.7 103.6,431.6 104.0,431.6 104.5,431.5 105.0,431.6 105.4,431.6 105.9,431.6 106.4,431.6 106.9,431.7 107.3,431.7 107.8,431.6 108.3,431.6 108.8,431.5 109.2,431.4 109.7,431.4 110.2,431.6 110.6,431.7 111.1,431.7 111.6,431.6 112.1,431.5 112.5,431.5 113.0,431.4 113.5,431.5 113.9,431.6 114.4,431.7 114.9,431.6 115.4,431.6 115.8,431.4 116.3,431.4 116.8,431.5 117.3,431.5 117.7,431.6 118.2,431.8 118.7,431.7 119.1,431.7 119.6,431.7 120.1,431.6 120.6,431.5 121.0,431.5 121.5,431.6 122.0,431.7 122.4,431.9 122.9,431.9 123.4,431.7 123.9,431.7 124.3,431.5 124.8,431.4 125.3,431.4 125.8,431.6 126.2,431.6 126.7,431.5 127.2,431.4 127.7,431.2 128.1,431.2 128.6,431.3 129.1,431.4 129.6,431.5 130.0,431.6 130.5,431.7 131.0,431.8 131.5,431.8 131.9,431.8 132.4,431.7 132.9,431.6 133.4,431.6 133.8,431.8 134.3,431.8 134.8,431.8 135.3,431.7 135.7,431.8 136.2,431.7 136.7,431.5 137.2,431.7 137.6,431.8 138.1,431.8 138.6,431.8 139.0,431.8 139.5,431.7 140.0,431.5 140.5,431.4 140.9,431.6 141.4,431.6 141.9,431.8 142.4,431.9 142.8,431.9 143.3,431.9 143.8,431.8 144.3,431.6 144.7,431.5 145.2,431.6 145.7,431.8 146.2,432.0 146.6,431.9 147.1,431.6 147.6,431.7 148.1,431.5 148.6,431.6 149.0,431.6 149.5,431.7 150.0,431.7 150.5,431.9 151.0,431.8 151.5,431.9 151.9,431.9 152.4,431.8 152.9,431.8 153.4,431.9 153.9,432.0 154.3,432.1 154.8,432.1 155.3,432.2 155.8,432.1 156.3,431.9 156.8,431.9 157.2,431.7 157.7,431.9 158.2,432.0 158.7,432.1 159.2,432.0 159.7,432.0 160.1,432.0 160.6,432.0 161.1,431.9 161.6,432.0 162.1,432.1 162.5,432.1 163.0,432.1 163.5,432.0 164.0,431.8 164.5,431.7 165.0,431.8 165.4,431.8 165.9,432.0 166.4,432.1 166.9,432.2 167.4,432.2 167.9,432.0 168.3,432.0 168.8,431.8 169.3,432.0 169.8,432.1 170.3,432.2 170.7,432.3 171.2,432.3 171.7,432.2 172.2,432.1 172.7,432.1 173.1,432.1 173.6,432.2 174.1,432.2 174.6,432.3 175.0,432.4 175.5,432.2 176.0,432.3 176.5,432.3 176.9,432.3 177.4,432.3 177.9,432.3 178.4,432.4 178.9,432.4 179.3,432.4 179.8,432.4 180.3,432.2 180.8,432.1 181.2,432.1 181.7,432.2 182.2,432.3 182.7,432.3 183.1,432.4 183.6,432.4 184.1,432.3 184.6,432.3 185.0,432.3 185.5,432.4 186.0,432.4 186.5,432.5 186.9,432.5 187.4,432.5 187.9,432.5 188.4,432.4 188.9,432.3 189.3,432.4 189.8,432.4 190.3,432.5 190.8,432.6 191.2,432.6 191.7,432.6 192.2,432.4 192.7,432.4 193.1,432.2 193.6,432.3 194.1,432.5 194.6,432.6 195.0,432.7 195.5,432.5 196.0,432.4 196.5,432.5 197.0,432.5 197.4,432.5 197.9,432.6 198.4,432.7 198.9,432.7 199.3,432.6 199.8,432.6 200.3,432.5 200.8,432.5 201.2,432.5 201.7,432.5 202.2,432.5 202.7,432.6 203.1,432.4 203.6,432.5 204.1,432.4 204.6,432.4 205.0,432.3 205.5,432.3 206.0,432.4 206.5,432.5 207.0,432.5 207.4,432.5 207.9,432.4 208.4,432.4 208.9,432.3 209.3,432.3 209.8,432.5 210.3,432.5 210.8,432.5 211.2,432.5 211.7,432.5 212.2,432.4 212.7,432.5 213.1,432.4 213.6,432.5 214.1,432.5 214.6,432.6 215.1,432.7 215.5,432.6 216.0,432.5 216.5,432.3 217.0,432.1 217.4,432.2 217.9,432.1 218.4,432.1 218.9,432.2 219.3,432.2 219.8,432.1 220.3,432.1 220.8,432.1 221.2,432.0 221.7,432.1 222.2,432.0 222.7,432.2 223.2,432.3 223.6,432.1 224.1,432.0 224.6,432.0 225.1,432.0 225.5,432.1 226.0,432.1 226.5,432.2 227.0,432.2 227.4,432.1 227.9,432.0 228.4,431.8 228.9,431.9 229.3,431.8 229.8,431.8 230.3,431.9 230.8,432.0 231.2,432.1 231.7,432.0 232.2,431.9 232.7,431.8 233.2,431.7 233.6,431.6 234.1,431.6 234.6,431.7 235.1,431.7 235.5,431.5 236.0,431.3 236.5,431.3 237.0,431.3 237.4,431.4 237.9,431.3 238.4,431.2 238.9,431.4 239.3,431.5 239.8,431.4 240.3,431.3 240.8,431.2 241.3,431.2 241.7,431.3 242.2,431.4 242.7,431.3 243.2,431.2 243.6,431.1 244.1,431.1 244.6,430.9 245.1,430.8 245.5,430.8 246.0,430.9 246.5,431.0 247.0,431.1 247.4,431.0 247.9,431.0 248.4,430.8 248.9,430.9 249.3,430.8 249.8,430.9 250.3,430.9 250.8,430.7 251.3,430.6 251.7,430.4 252.2,430.4 252.7,430.5 253.2,430.4 253.6,430.5 254.1,430.5 254.6,430.8 255.1,430.8 255.5,430.7 256.0,430.6 256.5,430.5 257.0,430.4 257.4,430.2 257.9,430.4 258.4,430.4 258.9,430.5 259.4,430.5 259.8,430.4 260.3,430.4 260.8,430.1 261.3,430.1 261.7,430.2 262.2,430.2 262.7,430.3 263.2,430.3 263.6,430.1 264.1,429.9 264.6,429.7 265.1,429.7 265.5,429.7 266.0,429.9 266.5,430.0 267.0,429.9 267.4,429.9 267.9,429.5 268.4,429.4 268.9,429.5 269.4,429.6 269.8,429.6 270.3,429.4 270.8,429.6 271.3,429.7 271.7,429.6 272.2,429.6 272.7,429.4 273.2,429.3 273.6,429.6 274.1,429.6 274.6,429.4 275.1,429.4 275.5,429.4 276.0,429.3 276.5,429.3 277.0,429.3 277.5,429.4 277.9,429.6 278.4,429.5 278.9,429.5 279.4,429.5 279.8,429.3 280.3,429.2 280.8,429.3 281.3,428.9 281.7,429.0 282.2,429.2 282.7,429.5 283.2,429.3 283.6,429.3 284.1,429.1 284.6,429.0 285.1,429.1 285.6,429.3 286.0,429.2 286.5,429.4 287.0,429.5 287.5,429.2 287.9,429.1 288.4,429.1 288.9,429.1 289.4,429.1 289.8,429.3 290.3,429.5 290.8,429.6 291.3,429.3 291.8,428.7 292.2,428.6 292.7,428.7 293.2,428.6 293.7,428.7 294.2,428.9 294.7,429.1 295.2,429.1 295.7,429.1 296.2,428.9 296.7,428.7 297.1,428.5 297.6,428.5 298.1,428.6 298.6,428.7 299.1,428.8 299.6,428.7 300.1,428.5 300.6,428.4 301.1,428.1 301.6,428.1 302.1,428.3 302.5,428.6 303.0,428.8 303.5,428.7 304.0,428.6 304.5,428.3 305.0,427.9 305.5,427.9 306.0,427.8 306.5,428.2 307.0,428.3 307.4,428.3 307.9,428.4 308.4,428.0 308.9,428.0 309.4,428.1 309.9,428.2 310.4,428.1 310.9,428.2 311.4,428.2 311.9,428.2 312.3,428.1 312.8,427.6 313.3,427.6 313.8,427.6 314.3,427.8 314.8,427.9 315.3,428.1 315.8,427.8 316.3,427.6 316.8,427.4 317.2,427.2 317.7,427.2 318.2,427.2 318.7,427.3 319.2,427.4 319.7,427.4 320.2,427.5 320.6,427.2 321.1,426.8 321.6,426.6 322.1,426.0 322.6,426.0 323.1,426.3 323.6,426.2 324.0,426.0 324.5,425.9 325.0,425.6 325.5,425.6 326.0,425.4 326.5,425.4 327.0,425.7 327.4,425.6 327.9,425.8 328.4,425.6 328.9,425.5 329.4,425.3 329.9,425.3 330.4,425.4 330.9,425.5 331.3,425.7 331.8,425.9 332.3,425.7 332.8,425.8 333.3,425.5 333.8,425.4 334.3,425.6 334.7,425.6 335.2,426.0 335.7,426.2 336.2,425.8 336.7,425.9 337.2,425.3 337.7,425.2 338.1,425.2 338.6,425.7 339.1,426.1 339.6,426.4 340.1,426.8 340.6,426.5 341.1,426.6 341.6,426.5 342.0,426.4 342.5,426.7 343.0,426.7 343.5,427.1 344.0,426.7 344.5,426.3 345.0,426.2 345.5,426.1 345.9,426.2 346.4,425.6 346.9,425.8 347.4,426.0 347.9,426.2 348.4,426.3 348.9,426.2 349.4,425.1 349.9,425.0 350.3,424.6 350.8,424.7 351.3,425.0 351.8,425.3 352.3,424.9 352.8,424.8 353.3,424.9 353.8,424.6 354.2,424.6 354.7,424.2 355.2,424.3 355.7,424.4 356.2,424.2 356.7,423.8 357.2,423.6 357.7,423.3 358.2,422.7 358.6,421.9 359.1,422.1 359.6,422.0 360.1,422.4 360.6,422.6 361.1,422.4 361.6,422.2 362.1,422.4 362.5,421.8 363.0,421.9 363.5,421.7 364.0,421.7 364.5,421.9 365.0,421.8 365.5,421.7 365.9,420.8 366.4,420.5 366.9,420.1 367.4,419.1 367.8,419.6 368.3,419.6 368.8,419.8 369.2,419.7 369.7,420.0 370.2,419.8 370.7,419.6 371.1,419.6 371.6,419.4 372.1,419.8 372.6,420.3 373.0,420.1 373.5,419.7 374.0,419.2 374.4,418.8 374.9,418.2 375.4,418.6 375.9,419.1 376.3,419.3 376.8,419.0 377.3,419.4 377.7,419.8 378.2,419.3 378.7,419.1 379.2,419.1 379.6,419.3 380.1,419.7 380.6,419.6 381.1,419.2 381.5,418.7 382.0,418.1 382.5,418.0 382.9,418.5 383.4,418.9 383.9,418.8 384.4,419.0 384.8,419.1 385.3,418.6 385.8,418.6 386.2,418.8 386.7,418.3 387.2,418.2 387.7,419.0 388.1,419.0 388.6,419.4 389.1,419.1 389.6,419.2 390.1,418.7 390.5,418.6 391.0,418.2 391.5,418.7 392.0,419.5 392.5,419.3 393.0,419.0 393.5,418.9 394.0,419.3 394.4,419.4 394.9,419.3 395.4,419.3 395.9,419.6 396.4,419.9 396.9,420.1 397.4,419.6 397.8,419.8 398.3,419.8 398.8,419.7 399.3,419.6 399.8,420.0 400.3,419.8 400.8,420.1 401.2,420.4 401.7,420.2 402.2,419.3 402.7,419.2 403.2,418.8 403.7,419.6 404.2,420.0 404.6,420.3 405.1,420.3 405.6,419.8 406.1,419.1 406.6,419.1 407.1,418.7 407.6,418.7 408.1,418.9 408.5,418.9 409.0,419.3 409.5,419.2 410.0,418.4 410.5,418.8 411.0,418.4 411.5,418.3 411.9,418.3 412.4,418.6 412.9,418.9 413.4,418.5 413.9,417.9 414.4,417.7 414.8,417.2 415.3,416.7 415.8,417.2 416.3,417.5 416.8,417.8 417.2,418.2 417.7,418.4 418.2,418.2 418.7,417.5 419.2,417.5 419.6,417.8 420.1,417.4 420.6,418.0 421.1,417.7 421.6,417.6 422.0,417.0 422.5,416.8 423.0,417.0 423.5,417.5 424.0,418.0 424.4,417.9 424.9,417.7 425.4,418.0 425.9,417.9 426.4,418.1 426.9,417.5 427.3,416.9 427.8,417.4 428.3,417.8 428.8,417.9 429.3,418.0 429.7,418.0 430.2,417.9 430.7,417.3 431.2,416.0 431.7,416.2 432.1,417.0 432.6,418.1 433.1,418.0 433.6,418.5 434.1,418.8 434.5,418.6 435.0,418.2 435.5,418.2 436.0,418.6 436.5,419.0 436.9,419.3 437.4,419.4 437.9,419.4 438.4,418.9 438.9,417.6 439.3,417.3 439.8,417.6 440.3,417.9 440.8,418.1 441.3,418.3 441.7,417.8 442.2,415.8 442.7,416.0 443.2,415.9 443.7,416.1 444.1,416.0 444.6,416.7 445.1,416.3 445.6,415.8 446.1,415.9 446.5,415.5 447.0,415.3 447.5,414.3 448.0,415.2 448.5,415.5 448.9,415.6 449.4,415.9 449.9,415.6 450.4,413.5 450.9,413.1 451.3,413.5 451.8,414.1 452.3,414.4 452.8,414.9 453.3,414.1 453.7,414.2 454.2,414.1 454.7,413.4 455.2,413.2 455.7,413.6 456.1,414.0 456.6,414.6 457.1,414.9 457.6,414.8 458.1,414.0 458.6,414.0 459.0,413.6 459.5,413.0 460.0,413.3 460.5,414.2 461.0,414.7 461.4,415.0 461.9,415.0 462.4,414.9 462.9,414.4 463.3,415.1 463.8,415.3 464.3,416.3 464.8,416.7 465.3,417.4 465.7,417.8 466.2,417.2 466.7,416.9 467.2,416.9 467.7,417.1 468.1,417.6 468.6,418.2 469.1,418.1 469.6,417.9 470.0,418.4 470.5,417.8 471.0,418.0 471.5,417.9 472.0,418.3 472.4,418.6 472.9,419.1 473.4,419.5 473.9,419.2 474.3,419.6 474.8,419.5 475.3,419.2 475.8,418.8 476.3,418.9 476.7,419.3 477.2,419.5 477.7,419.2 478.2,418.1 478.7,417.9 479.1,417.6 479.6,417.7 480.1,417.3 480.6,417.6 481.0,417.8 481.5,418.0 482.0,418.1 482.5,417.7 483.0,416.6 483.4,416.3 483.9,415.5 484.4,415.6 484.9,416.0 485.4,415.9 485.8,415.3 486.3,414.9 486.8,414.4 487.3,414.6 487.7,413.8 488.2,413.6 488.7,414.1 489.2,414.2 489.7,414.5 490.2,414.2 490.6,413.3 491.1,412.5 491.6,412.1 492.1,412.3 492.6,412.4 493.0,412.3 493.5,412.5 494.0,413.0 494.5,412.8 495.0,412.5 495.4,412.2 495.9,412.2 496.4,413.1 496.9,413.2 497.4,413.8 497.8,414.0 498.3,414.3 498.8,414.1 499.3,414.5 499.8,415.0 500.2,415.8 500.7,416.4 501.2,417.1 501.7,417.6 502.2,417.7 502.6,417.3 503.1,417.2 503.6,417.2 504.1,416.8 504.6,417.7 505.0,418.2 505.5,419.0 506.0,419.7 506.5,419.3 507.0,419.0 507.4,419.0 507.9,418.8 508.4,419.0 508.9,419.7 509.4,420.3 509.8,420.3 510.3,420.5 510.8,420.6 511.3,420.1 511.8,419.6 512.2,419.7 512.7,419.9 513.2,420.2 513.7,420.8 514.2,420.8 514.6,420.5 515.1,420.1 515.6,419.8 516.1,419.0 516.6,419.5 517.0,419.7 517.5,420.4 518.0,420.6 518.5,420.4 519.0,420.5 519.4,420.5 519.9,420.6 520.4,420.5" fill="none" stroke="#e23a32" stroke-width="1"/>
<path d="M574.0 433.6h1.2M574.0 429.7h1.2M574.0 425.9h1.2M574.0 422.1h2.2M574.0 418.3h1.2M574.0 414.5h1.2M574.0 410.6h1.2M574.0 406.8h1.2M574.0 403.0h2.2M574.0 399.2h1.2M574.0 395.4h1.2M574.0 391.5h1.2M574.0 387.7h1.2M574.0 383.9h2.2M574.0 380.1h1.2M574.0 376.3h1.2M574.0 372.4h1.2M574.0 368.6h1.2M574.0 364.8h2.2M574.0 361.0h1.2M574.0 357.2h1.2M574.0 353.3h1.2M574.0 349.5h1.2M574.0 345.7h2.2M574.0 341.9h1.2M574.0 338.1h1.2M574.0 334.2h1.2M574.0 330.4h1.2M574.0 326.6h2.2M574.0 322.8h1.2M574.0 319.0h1.2M574.0 315.1h1.2M574.0 311.3h1.2M574.0 307.5h2.2M574.0 303.7h1.2M574.0 299.9h1.2M574.0 296.0h1.2M574.0 292.2h1.2M574.0 288.4h2.2M574.0 284.6h1.2M574.0 280.8h1.2M574.0 276.9h1.2M574.0 273.1h1.2M574.0 269.3h2.2M574.0 265.5h1.2M574.0 261.7h1.2M574.0 257.8h1.2M574.0 254.0h1.2M574.0 250.2h2.2M574.0 246.4h1.2M574.0 242.6h1.2M574.0 238.7h1.2M574.0 234.9h1.2M574.0 231.1h2.2M574.0 227.3h1.2M574.0 223.5h1.2M574.0 219.6h1.2M574.0 215.8h1.2M574.0 212.0h2.2M574.0 208.2h1.2M574.0 204.4h1.2M574.0 200.5h1.2M574.0 196.7h1.2M574.0 192.9h2.2M574.0 189.1h1.2M574.0 185.3h1.2M574.0 181.4h1.2M574.0 177.6h1.2M574.0 173.8h2.2M574.0 170.0h1.2M574.0 166.2h1.2M574.0 162.3h1.2M574.0 158.5h1.2M574.0 154.7h2.2M574.0 150.9h1.2M574.0 147.1h1.2M574.0 143.2h1.2M574.0 139.4h1.2M574.0 135.6h2.2M574.0 131.8h1.2M574.0 128.0h1.2M574.0 124.1h1.2M574.0 120.3h1.2M574.0 116.5h2.2M574.0 112.7h1.2M574.0 108.9h1.2M574.0 105.0h1.2" stroke="#aaa" stroke-width="0.7" fill="none"/>
<polygon points="36.8,403.4 37.2,403.6 37.8,403.6 38.2,403.7 38.8,403.9 39.2,404.0 39.8,403.9 40.2,403.6 40.8,403.6 41.2,403.4 41.8,403.2 42.2,402.9 42.8,402.6 43.2,402.5 43.8,402.5 44.2,402.2 44.8,402.6 45.2,402.8 45.8,403.1 46.2,403.6 46.8,403.9 47.2,404.1 47.8,404.3 48.2,404.4 48.8,404.4 49.2,404.4 49.8,404.8 50.2,405.3 50.8,405.3 51.2,405.3 51.8,405.7 52.2,405.5 52.8,405.4 53.2,405.4 53.8,405.3 54.2,405.0 54.8,404.7 55.2,404.5 55.8,403.8 56.2,403.5 56.8,403.3 57.2,403.1 57.8,403.0 58.2,403.4 58.8,403.4 59.2,403.6 59.8,403.7 60.2,403.6 60.8,403.6 61.2,403.6 61.8,403.5 62.2,403.5 62.8,403.7 63.2,403.7 63.8,403.9 64.2,404.0 64.8,404.0 65.2,404.0 65.8,404.1 66.2,404.1 66.8,404.2 67.2,404.2 67.8,404.2 68.2,404.2 68.8,404.2 69.2,404.1 69.8,404.1 70.2,404.1 70.8,404.1 71.2,404.1 71.8,404.0 72.2,403.9 72.8,403.9 73.2,403.8 73.8,403.6 74.2,403.1 74.8,402.1 75.2,401.0 75.8,399.8 76.2,399.4 76.8,399.4 77.2,399.4 77.8,399.4 78.2,399.4 78.8,400.8 79.2,401.1 79.8,401.6 80.2,401.6 80.8,401.7 81.2,401.7 81.8,401.9 82.2,402.2 82.8,402.3 83.2,402.7 83.8,402.7 84.2,403.0 84.8,403.0 85.2,403.3 85.8,403.3 86.2,403.8 86.8,404.0 87.2,404.2 87.8,404.1 88.2,404.1 88.8,404.1 89.2,403.8 89.8,403.8 90.2,403.8 90.8,404.1 91.2,404.1 91.8,404.1 92.2,404.3 92.8,404.7 93.2,404.7 93.8,404.9 94.2,404.9 94.8,404.9 95.2,405.0 95.8,405.3 96.2,405.6 96.8,405.8 97.2,405.8 97.8,406.0 98.2,406.5 98.8,407.3 99.2,407.7 99.8,408.0 100.2,408.1 100.8,409.3 101.2,410.6 101.8,410.5 102.2,409.2 102.8,409.2 103.2,409.2 103.8,409.2 104.2,409.2 104.8,409.6 105.2,410.0 105.8,410.8 106.2,411.2 106.8,411.5 107.2,411.5 107.8,411.9 108.2,411.9 108.8,411.9 109.2,412.3 109.8,412.5 110.2,412.5 110.8,413.3 111.2,414.3 111.8,414.6 112.2,414.9 112.8,415.5 113.2,415.5 113.8,415.5 114.2,415.3 114.8,415.4 115.2,415.6 115.8,415.5 116.2,414.9 116.8,414.9 117.2,415.0 117.8,415.0 118.2,415.1 118.8,416.7 119.2,417.2 119.8,418.1 120.2,418.5 120.8,419.2 121.2,419.7 121.8,420.9 122.2,422.2 122.8,423.3 123.2,422.5 123.8,421.2 124.2,420.8 124.8,420.7 125.2,420.6 125.8,420.0 126.2,420.3 126.8,420.3 127.2,420.3 127.8,420.3 128.2,420.3 128.8,420.1 129.2,419.3 129.8,418.4 130.2,418.4 130.8,418.4 131.2,418.4 131.8,418.5 132.2,419.5 132.8,420.6 133.2,420.7 133.8,420.7 134.2,420.7 134.8,420.5 135.2,420.5 135.8,421.5 136.2,421.7 136.8,421.8 137.2,421.9 137.8,423.3 138.2,423.3 138.8,424.0 139.2,422.1 139.8,421.1 140.2,421.1 140.8,421.1 141.2,420.6 141.8,420.7 142.2,420.8 142.8,420.8 143.2,420.8 143.8,420.8 144.2,420.8 144.8,421.1 145.2,421.3 145.8,421.7 146.2,422.1 146.8,422.1 147.2,422.2 147.8,422.4 148.2,422.6 148.8,422.6 149.2,422.6 149.8,422.7 150.2,422.7 150.8,423.1 151.2,423.2 151.8,423.2 152.2,423.3 152.8,423.3 153.2,423.3 153.8,423.3 154.2,423.2 154.8,423.2 155.2,423.2 155.8,423.6 156.2,423.6 156.8,423.9 157.2,425.0 157.8,426.3 158.2,426.8 158.8,427.3 159.2,427.4 159.8,427.7 160.2,428.1 160.8,428.5 161.2,428.8 161.8,428.6 162.2,428.6 162.8,428.6 163.2,428.6 163.8,426.3 164.2,420.1 164.8,416.3 165.2,416.3 165.8,416.3 166.2,416.3 166.8,416.3 167.2,417.2 167.8,419.0 168.2,421.1 168.8,421.6 169.2,421.6 169.8,421.6 170.2,421.9 170.8,422.2 171.2,422.4 171.8,421.9 172.2,418.9 172.8,418.1 173.2,418.1 173.8,418.1 174.2,418.1 174.8,418.2 175.2,421.1 175.8,421.7 176.2,422.3 176.8,422.7 177.2,423.9 177.8,424.1 178.2,424.4 178.8,425.1 179.2,425.0 179.8,424.9 180.2,424.9 180.8,424.4 181.2,422.9 181.8,422.9 182.2,422.9 182.8,422.7 183.2,422.7 183.8,422.9 184.2,423.3 184.8,423.8 185.2,423.9 185.8,424.4 186.2,424.4 186.8,424.4 187.2,424.9 187.8,425.0 188.2,425.0 188.8,425.1 189.2,425.1 189.8,425.6 190.2,425.8 190.8,425.8 191.2,426.0 191.8,426.4 192.2,426.1 192.8,426.0 193.2,426.0 193.8,425.9 194.2,425.5 194.8,425.9 195.2,425.9 195.8,426.0 196.2,426.2 196.8,426.7 197.2,426.9 197.8,427.2 198.2,427.4 198.8,427.2 199.2,427.2 199.8,427.0 200.2,427.3 200.8,427.3 201.2,427.4 201.8,427.9 202.2,427.7 202.8,425.5 203.2,424.2 203.8,423.4 204.2,423.4 204.8,423.4 205.2,423.4 205.8,423.4 206.2,425.8 206.8,425.9 207.2,425.9 207.8,425.7 208.2,425.9 208.8,425.9 209.2,425.6 209.8,425.6 210.2,425.6 210.8,425.0 211.2,424.5 211.8,422.7 212.2,422.7 212.8,422.7 213.2,422.5 213.8,422.6 214.2,422.8 214.8,423.5 215.2,423.8 215.8,423.8 216.2,424.0 216.8,424.4 217.2,424.1 217.8,424.1 218.2,424.1 218.8,424.1 219.2,424.2 219.8,422.4 220.2,421.6 220.8,420.5 221.2,420.4 221.8,420.4 222.2,420.4 222.8,420.4 223.2,420.4 223.8,420.2 224.2,420.2 224.8,419.8 225.2,419.8 225.8,420.0 226.2,419.5 226.8,419.4 227.2,417.3 227.8,416.6 228.2,416.1 228.8,415.6 229.2,415.4 229.8,415.2 230.2,415.6 230.8,415.6 231.2,415.8 231.8,416.6 232.2,418.0 232.8,418.9 233.2,419.1 233.8,419.0 234.2,417.9 234.8,417.9 235.2,417.9 235.8,416.7 236.2,416.7 236.8,416.7 237.2,416.7 237.8,416.1 238.2,416.3 238.8,416.3 239.2,416.1 239.8,415.5 240.2,415.5 240.8,415.5 241.2,414.4 241.8,412.3 242.2,411.4 242.8,411.4 243.2,410.3 243.8,408.5 244.2,407.4 244.8,405.6 245.2,405.4 245.8,405.4 246.2,405.4 246.8,405.4 247.2,406.2 247.8,408.6 248.2,410.5 248.8,412.3 249.2,412.9 249.8,413.6 250.2,413.9 250.8,413.2 251.2,411.8 251.8,409.1 252.2,408.7 252.8,408.7 253.2,408.7 253.8,408.7 254.2,408.9 254.8,409.8 255.2,410.1 255.8,410.7 256.2,411.0 256.8,410.1 257.2,408.6 257.8,408.1 258.2,406.6 258.8,404.6 259.2,404.3 259.8,403.9 260.2,403.9 260.8,403.9 261.2,403.9 261.8,403.9 262.2,404.4 262.8,402.7 263.2,400.7 263.8,399.7 264.2,399.7 264.8,399.7 265.2,399.7 265.8,400.4 266.2,397.7 266.8,396.8 267.2,396.8 267.8,396.8 268.2,396.8 268.8,396.8 269.2,397.4 269.8,398.5 270.2,401.1 270.8,400.9 271.2,399.6 271.8,398.2 272.2,397.2 272.8,397.2 273.2,397.2 273.8,397.2 274.2,397.2 274.8,398.5 275.2,399.7 275.8,401.4 276.2,403.2 276.8,403.2 277.2,403.2 277.8,403.2 278.2,403.1 278.8,403.1 279.2,402.7 279.8,402.6 280.2,402.4 280.8,401.8 281.2,400.9 281.8,400.9 282.2,400.9 282.8,398.9 283.2,398.9 283.8,398.9 284.2,398.8 284.8,398.1 285.2,396.9 285.8,396.9 286.2,396.9 286.8,396.2 287.2,394.6 287.8,392.1 288.2,391.4 288.8,391.3 289.2,391.3 289.8,391.3 290.2,391.3 290.8,391.3 291.2,392.5 291.8,393.6 292.2,394.8 292.8,395.3 293.2,396.3 293.8,395.8 294.2,394.6 294.8,393.7 295.2,393.7 295.8,393.3 296.2,393.3 296.8,393.3 297.2,393.3 297.8,393.3 298.2,394.6 298.8,394.6 299.2,394.8 299.8,395.7 300.2,395.7 300.8,396.1 301.2,396.2 301.8,396.2 302.2,395.2 302.8,395.1 303.2,395.1 303.8,395.1 304.2,395.1 304.8,395.1 305.2,395.0 305.8,395.0 306.2,395.0 306.8,395.0 307.2,394.2 307.8,391.5 308.2,391.5 308.8,388.7 309.2,387.6 309.8,387.6 310.2,385.7 310.8,385.7 311.2,385.7 311.8,385.7 312.2,383.4 312.8,382.1 313.2,381.1 313.8,376.3 314.2,376.3 314.8,376.3 315.2,375.8 315.8,372.6 316.2,371.9 316.8,371.9 317.2,369.8 317.8,369.8 318.2,369.8 318.8,369.8 319.2,369.8 319.8,371.9 320.2,371.2 320.8,367.4 321.2,365.7 321.8,359.7 322.2,355.5 322.8,354.1 323.2,349.0 323.8,343.9 324.2,340.2 324.8,340.2 325.2,340.2 325.8,340.2 326.2,345.5 326.8,354.8 327.2,357.7 327.8,353.2 328.2,351.8 328.8,351.5 329.2,351.5 329.8,351.5 330.2,351.5 330.8,354.7 331.2,355.2 331.8,355.9 332.2,357.3 332.8,357.6 333.2,358.2 333.8,364.7 334.2,365.5 334.8,365.5 335.2,361.6 335.8,359.1 336.2,355.3 336.8,354.6 337.2,354.6 337.8,354.6 338.2,354.6 338.8,354.6 339.2,354.6 339.8,354.6 340.2,354.6 340.8,355.0 341.2,355.0 341.8,353.6 342.2,353.6 342.8,353.5 343.2,349.1 343.8,348.5 344.2,348.5 344.8,348.5 345.2,348.5 345.8,350.8 346.2,348.9 346.8,348.9 347.2,346.2 347.8,346.2 348.2,346.2 348.8,346.2 349.2,346.2 349.8,347.9 350.2,348.1 350.8,348.1 351.2,348.8 351.8,351.5 352.2,348.0 352.8,347.5 353.2,347.5 353.8,347.5 354.2,347.5 354.8,347.5 355.2,347.5 355.8,348.9 356.2,345.2 356.8,342.6 357.2,340.1 357.8,333.0 358.2,333.0 358.8,329.0 359.2,327.2 359.8,326.1 360.2,322.9 360.8,317.9 361.2,317.9 361.8,317.9 362.2,317.9 362.8,318.7 363.2,321.9 363.8,321.7 364.2,312.1 364.8,305.7 365.2,301.3 365.8,300.0 366.2,300.0 366.8,300.0 367.2,298.0 367.8,296.2 368.2,291.0 368.8,281.1 369.2,281.1 369.8,281.1 370.2,281.1 370.8,281.1 371.2,282.4 371.8,288.8 372.2,295.3 372.8,295.3 373.2,299.6 373.8,311.1 374.2,305.3 374.8,305.3 375.2,305.3 375.8,301.0 376.2,298.4 376.8,291.2 377.2,289.9 377.8,289.9 378.2,289.9 378.8,289.9 379.2,296.0 379.8,298.4 380.2,309.3 380.8,317.3 381.2,317.3 381.8,303.3 382.2,302.2 382.8,302.2 383.2,302.2 383.8,302.2 384.2,302.7 384.8,305.7 385.2,329.7 385.8,326.6 386.2,322.5 386.8,322.5 387.2,318.6 387.8,310.2 388.2,310.2 388.8,310.2 389.2,310.2 389.8,306.0 390.2,293.5 390.8,290.5 391.2,288.1 391.8,286.4 392.2,286.4 392.8,286.4 393.2,286.4 393.8,289.4 394.2,293.6 394.8,293.6 395.2,293.6 395.8,294.2 396.2,305.4 396.8,300.6 397.2,294.0 397.8,293.4 398.2,288.8 398.8,288.8 399.2,288.8 399.8,288.8 400.2,288.8 400.8,288.8 401.2,291.6 401.8,297.9 402.2,296.4 402.8,296.4 403.2,296.4 403.8,296.4 404.2,293.6 404.8,287.9 405.2,283.2 405.8,283.2 406.2,283.2 406.8,273.5 407.2,273.5 407.8,273.5 408.2,273.5 408.8,273.5 409.2,271.0 409.8,264.2 410.2,252.8 410.8,243.9 411.2,243.9 411.8,243.9 412.2,243.9 412.8,245.2 413.2,252.2 413.8,255.8 414.2,255.8 414.8,255.8 415.2,257.8 415.8,261.5 416.2,264.9 416.8,264.3 417.2,264.3 417.8,264.3 418.2,264.3 418.8,262.8 419.2,257.4 419.8,254.3 420.2,249.4 420.8,245.0 421.2,240.6 421.8,240.6 422.2,240.6 422.8,240.6 423.2,238.4 423.8,238.4 424.2,236.1 424.8,236.1 425.2,236.1 425.8,236.1 426.2,239.9 426.8,243.8 427.2,244.2 427.8,245.7 428.2,243.1 428.8,232.9 429.2,225.4 429.8,216.1 430.2,216.1 430.8,216.1 431.2,212.8 431.8,212.8 432.2,212.8 432.8,212.8 433.2,207.6 433.8,207.6 434.2,207.6 434.8,207.6 435.2,204.4 435.8,204.4 436.2,204.4 436.8,204.4 437.2,204.4 437.8,204.4 438.2,204.4 438.8,205.5 439.2,208.9 439.8,212.9 440.2,210.7 440.8,205.1 441.2,202.5 441.8,202.5 442.2,202.5 442.8,196.4 443.2,192.2 443.8,184.1 444.2,181.3 444.8,179.2 445.2,179.2 445.8,179.2 446.2,178.5 446.8,178.5 447.2,177.0 447.8,174.1 448.2,174.1 448.8,174.1 449.2,174.1 449.8,178.3 450.2,168.7 450.8,160.3 451.2,141.3 451.8,121.7 452.2,112.8 452.8,112.8 453.2,110.3 453.8,110.3 454.2,110.3 454.8,110.3 455.2,114.9 455.8,139.4 456.2,153.1 456.8,148.8 457.2,133.5 457.8,133.5 458.2,133.5 458.8,133.5 459.2,133.5 459.8,143.8 460.2,143.8 460.8,143.8 461.2,156.1 461.8,164.1 462.2,150.0 462.8,139.5 463.2,135.4 463.8,135.4 464.2,135.4 464.8,135.4 465.2,135.4 465.8,137.0 466.2,137.0 466.8,137.0 467.2,156.9 467.8,156.1 468.2,156.1 468.8,156.1 469.2,156.1 469.8,156.1 470.2,159.8 470.8,161.0 471.2,164.1 471.8,161.3 472.2,161.3 472.8,161.3 473.2,161.3 473.8,161.3 474.2,166.1 474.8,166.1 475.2,161.7 475.8,159.1 476.2,159.1 476.8,159.1 477.2,152.7 477.8,139.9 478.2,138.1 478.8,136.5 479.2,134.3 479.8,134.3 480.2,134.3 480.8,134.3 481.2,134.3 481.8,135.9 482.2,145.6 482.8,143.5 483.2,143.5 483.8,143.5 484.2,143.5 484.8,149.5 485.2,157.9 485.8,156.7 486.2,153.6 486.8,153.6 487.2,153.6 487.8,153.6 488.2,153.6 488.8,157.9 489.2,169.2 489.8,169.2 490.2,173.1 490.8,169.0 491.2,169.0 491.8,169.0 492.2,169.0 492.8,169.0 493.2,174.8 493.8,189.4 494.2,196.4 494.8,196.4 495.2,202.0 495.8,207.0 496.2,208.5 496.8,208.5 497.2,208.5 497.8,213.5 498.2,225.0 498.8,222.8 499.2,221.9 499.8,219.4 500.2,216.8 500.8,205.6 501.2,205.5 501.8,205.5 502.2,205.5 502.8,205.5 503.2,213.5 503.8,217.6 504.2,224.1 504.8,219.9 505.2,218.4 505.8,218.4 506.2,218.4 506.8,218.4 507.2,224.9 507.8,228.7 508.2,236.3 508.8,236.8 509.2,238.1 509.8,238.1 510.2,239.1 510.8,236.0 511.2,236.0 511.8,232.5 512.2,224.6 512.8,223.0 513.2,223.0 513.8,216.6 514.2,211.7 514.8,211.7 515.2,211.7 515.8,211.7 516.2,213.9 516.8,226.0 517.2,226.0 517.8,226.0 518.2,226.0 518.8,228.8 519.2,228.8 519.8,228.8 520.2,228.8 520.8,231.9 520.8,243.2 520.2,243.2 519.8,243.2 519.2,242.7 518.8,237.8 518.2,237.1 517.8,237.1 517.2,236.1 516.8,235.7 516.2,235.7 515.8,235.7 515.2,235.7 514.8,232.7 514.2,232.7 513.8,236.3 513.2,242.2 512.8,242.2 512.2,243.8 511.8,251.1 511.2,251.1 510.8,255.1 510.2,255.1 509.8,255.1 509.2,255.1 508.8,253.1 508.2,248.4 507.8,248.4 507.2,248.4 506.8,243.1 506.2,242.0 505.8,241.4 505.2,241.4 504.8,241.4 504.2,241.4 503.8,241.4 503.2,235.3 502.8,235.3 502.2,231.2 501.8,225.1 501.2,227.5 500.8,230.5 500.2,230.6 499.8,234.3 499.2,242.0 498.8,253.0 498.2,253.0 497.8,253.0 497.2,253.0 496.8,253.0 496.2,237.3 495.8,221.2 495.2,220.9 494.8,220.9 494.2,220.9 493.8,228.0 493.2,228.0 492.8,228.0 492.2,228.0 491.8,216.3 491.2,186.6 490.8,186.6 490.2,186.6 489.8,186.6 489.2,184.2 488.8,181.5 488.2,181.5 487.8,177.6 487.2,176.0 486.8,170.1 486.2,170.1 485.8,170.1 485.2,170.1 484.8,170.1 484.2,170.1 483.8,168.3 483.2,162.9 482.8,162.9 482.2,162.9 481.8,162.9 481.2,161.5 480.8,157.0 480.2,153.9 479.8,148.1 479.2,158.5 478.8,163.0 478.2,171.6 477.8,171.6 477.2,171.6 476.8,183.1 476.2,183.1 475.8,183.1 475.2,183.1 474.8,183.1 474.2,184.0 473.8,184.0 473.2,184.0 472.8,184.0 472.2,182.4 471.8,188.1 471.2,188.1 470.8,188.1 470.2,188.1 469.8,188.1 469.2,176.6 468.8,168.6 468.2,168.2 467.8,168.2 467.2,168.2 466.8,168.2 466.2,168.2 465.8,168.2 465.2,161.7 464.8,156.2 464.2,155.6 463.8,168.2 463.2,179.5 462.8,188.7 462.2,190.0 461.8,190.0 461.2,190.0 460.8,190.0 460.2,185.3 459.8,182.3 459.2,161.5 458.8,160.6 458.2,166.0 457.8,173.5 457.2,173.5 456.8,176.6 456.2,188.1 455.8,188.1 455.2,188.1 454.8,188.1 454.2,170.3 453.8,151.0 453.2,151.0 452.8,170.4 452.2,174.6 451.8,183.1 451.2,192.3 450.8,197.6 450.2,197.6 449.8,197.6 449.2,197.6 448.8,197.6 448.2,187.9 447.8,193.0 447.2,201.5 446.8,201.5 446.2,201.5 445.8,201.5 445.2,201.5 444.8,205.0 444.2,210.4 443.8,216.7 443.2,216.7 442.8,216.7 442.2,219.0 441.8,220.6 441.2,224.6 440.8,225.8 440.2,230.9 439.8,230.9 439.2,230.9 438.8,230.9 438.2,230.9 437.8,219.2 437.2,216.2 436.8,214.8 436.2,222.6 435.8,224.8 435.2,228.5 434.8,228.5 434.2,230.8 433.8,230.8 433.2,230.8 432.8,230.8 432.2,232.8 431.8,232.8 431.2,232.8 430.8,242.4 430.2,250.1 429.8,251.7 429.2,256.0 428.8,257.7 428.2,258.9 427.8,258.9 427.2,258.9 426.8,258.9 426.2,258.9 425.8,256.4 425.2,249.9 424.8,249.0 424.2,251.4 423.8,256.3 423.2,256.3 422.8,256.3 422.2,256.3 421.8,260.6 421.2,264.6 420.8,267.8 420.2,272.2 419.8,272.8 419.2,272.8 418.8,272.8 418.2,272.8 417.8,275.6 417.2,280.6 416.8,280.8 416.2,280.8 415.8,280.8 415.2,280.8 414.8,279.5 414.2,275.1 413.8,275.1 413.2,275.1 412.8,275.1 412.2,275.1 411.8,275.1 411.2,275.9 410.8,278.0 410.2,283.0 409.8,283.0 409.2,283.0 408.8,283.0 408.2,288.6 407.8,289.0 407.2,289.0 406.8,293.3 406.2,298.5 405.8,301.1 405.2,304.0 404.8,304.0 404.2,304.0 403.8,304.0 403.2,307.4 402.8,307.4 402.2,307.4 401.8,307.4 401.2,307.4 400.8,307.4 400.2,304.7 399.8,304.0 399.2,300.2 398.8,303.3 398.2,310.8 397.8,312.9 397.2,315.1 396.8,315.1 396.2,315.1 395.8,315.1 395.2,315.1 394.8,314.4 394.2,309.0 393.8,308.1 393.2,308.1 392.8,306.6 392.2,306.0 391.8,311.7 391.2,320.9 390.8,324.6 390.2,324.6 389.8,324.6 389.2,325.4 388.8,336.1 388.2,336.1 387.8,336.1 387.2,343.6 386.8,343.6 386.2,343.6 385.8,347.3 385.2,350.0 384.8,350.0 384.2,350.0 383.8,350.0 383.2,337.8 382.8,338.2 382.2,339.0 381.8,339.0 381.2,339.0 380.8,339.0 380.2,331.2 379.8,331.2 379.2,331.2 378.8,330.2 378.2,312.3 377.8,305.9 377.2,309.1 376.8,315.4 376.2,315.4 375.8,315.6 375.2,318.4 374.8,318.4 374.2,318.4 373.8,318.4 373.2,318.4 372.8,318.4 372.2,317.8 371.8,315.9 371.2,307.4 370.8,307.4 370.2,307.4 369.8,306.4 369.2,306.4 368.8,310.8 368.2,311.9 367.8,311.9 367.2,311.9 366.8,312.2 366.2,315.4 365.8,323.7 365.2,329.7 364.8,331.8 364.2,331.8 363.8,331.8 363.2,331.8 362.8,331.8 362.2,331.8 361.8,331.8 361.2,332.4 360.8,335.3 360.2,339.9 359.8,339.9 359.2,343.1 358.8,347.4 358.2,348.9 357.8,352.5 357.2,355.5 356.8,355.5 356.2,358.0 355.8,358.0 355.2,358.0 354.8,358.0 354.2,357.4 353.8,357.2 353.2,357.2 352.8,357.2 352.2,357.2 351.8,357.2 351.2,356.7 350.8,355.9 350.2,355.9 349.8,354.3 349.2,352.4 348.8,353.2 348.2,354.5 347.8,354.5 347.2,358.6 346.8,358.6 346.2,358.6 345.8,358.6 345.2,358.6 344.8,358.3 344.2,358.3 343.8,358.3 343.2,363.4 342.8,364.5 342.2,364.5 341.8,364.5 341.2,364.5 340.8,364.5 340.2,364.5 339.8,363.0 339.2,359.2 338.8,359.2 338.2,360.0 337.8,361.4 337.2,364.5 336.8,367.7 336.2,371.3 335.8,373.2 335.2,373.2 334.8,373.2 334.2,373.2 333.8,373.2 333.2,371.1 332.8,371.1 332.2,368.3 331.8,366.7 331.2,362.4 330.8,362.4 330.2,361.2 329.8,360.2 329.2,364.3 328.8,367.4 328.2,372.9 327.8,372.9 327.2,372.9 326.8,372.9 326.2,372.9 325.8,365.0 325.2,359.9 324.8,358.6 324.2,361.3 323.8,362.9 323.2,368.4 322.8,370.1 322.2,373.7 321.8,377.4 321.2,377.4 320.8,377.4 320.2,377.4 319.8,377.4 319.2,377.4 318.8,377.4 318.2,377.4 317.8,377.4 317.2,378.5 316.8,382.8 316.2,386.6 315.8,386.6 315.2,386.6 314.8,386.6 314.2,386.4 313.8,389.3 313.2,390.0 312.8,391.7 312.2,391.7 311.8,391.7 311.2,391.7 310.8,391.7 310.2,394.5 309.8,394.5 309.2,396.2 308.8,397.5 308.2,398.7 307.8,398.7 307.2,398.7 306.8,399.1 306.2,399.8 305.8,400.3 305.2,400.3 304.8,400.3 304.2,400.3 303.8,400.3 303.2,400.2 302.8,401.0 302.2,401.0 301.8,401.0 301.2,401.0 300.8,401.0 300.2,399.7 299.8,399.7 299.2,399.7 298.8,399.7 298.2,399.7 297.8,399.1 297.2,398.7 296.8,398.7 296.2,398.7 295.8,397.8 295.2,400.6 294.8,401.7 294.2,401.7 293.8,401.7 293.2,401.7 292.8,401.7 292.2,399.9 291.8,399.8 291.2,399.8 290.8,397.5 290.2,396.8 289.8,396.8 289.2,397.1 288.8,399.2 288.2,399.2 287.8,400.5 287.2,400.5 286.8,401.1 286.2,401.1 285.8,402.5 285.2,402.5 284.8,402.5 284.2,403.8 283.8,404.0 283.2,404.3 282.8,404.3 282.2,405.8 281.8,405.8 281.2,405.8 280.8,405.8 280.2,406.4 279.8,406.6 279.2,406.7 278.8,407.1 278.2,407.1 277.8,408.4 277.2,408.8 276.8,408.8 276.2,408.8 275.8,408.8 275.2,408.8 274.8,408.8 274.2,406.3 273.8,403.5 273.2,402.3 272.8,402.8 272.2,404.6 271.8,404.8 271.2,404.8 270.8,404.9 270.2,405.1 269.8,404.8 269.2,404.8 268.8,404.5 268.2,403.9 267.8,402.7 267.2,402.9 266.8,403.2 266.2,404.7 265.8,404.7 265.2,404.7 264.8,405.3 264.2,407.0 263.8,407.8 263.2,407.8 262.8,409.4 262.2,409.4 261.8,409.4 261.2,409.4 260.8,409.2 260.2,408.9 259.8,410.4 259.2,411.1 258.8,412.4 258.2,413.6 257.8,414.3 257.2,414.3 256.8,414.3 256.2,415.0 255.8,414.7 255.2,414.3 254.8,414.3 254.2,414.3 253.8,412.7 253.2,414.0 252.8,415.5 252.2,416.1 251.8,418.1 251.2,418.1 250.8,418.6 250.2,418.6 249.8,418.6 249.2,418.6 248.8,418.4 248.2,417.4 247.8,415.8 247.2,414.8 246.8,414.8 246.2,413.7 245.8,411.1 245.2,412.1 244.8,414.5 244.2,414.9 243.8,414.9 243.2,416.9 242.8,418.8 242.2,419.4 241.8,419.4 241.2,419.4 240.8,419.8 240.2,419.8 239.8,419.8 239.2,420.1 238.8,420.3 238.2,420.3 237.8,420.1 237.2,420.7 236.8,422.4 236.2,422.4 235.8,422.4 235.2,422.4 234.8,422.4 234.2,422.5 233.8,423.0 233.2,423.1 232.8,422.9 232.2,422.5 231.8,422.2 231.2,422.2 230.8,421.4 230.2,420.3 229.8,419.2 229.2,419.4 228.8,421.4 228.2,422.2 227.8,422.7 227.2,422.7 226.8,423.4 226.2,423.5 225.8,424.0 225.2,423.8 224.8,423.8 224.2,424.2 223.8,425.2 223.2,425.2 222.8,425.2 222.2,425.2 221.8,425.0 221.2,426.9 220.8,427.7 220.2,427.8 219.8,427.8 219.2,428.2 218.8,428.1 218.2,428.1 217.8,428.1 217.2,428.1 216.8,428.4 216.2,428.0 215.8,427.8 215.2,427.8 214.8,427.8 214.2,426.9 213.8,426.6 213.2,426.5 212.8,427.5 212.2,428.1 211.8,428.2 211.2,428.5 210.8,429.0 210.2,429.6 209.8,429.6 209.2,429.6 208.8,429.9 208.2,429.9 207.8,429.7 207.2,429.9 206.8,429.9 206.2,429.8 205.8,429.4 205.2,429.4 204.8,429.4 204.2,430.4 203.8,430.8 203.2,431.4 202.8,431.4 202.2,431.7 201.8,431.9 201.2,431.4 200.8,431.4 200.2,431.3 199.8,431.0 199.2,431.2 198.8,431.2 198.2,431.4 197.8,431.2 197.2,430.9 196.8,430.7 196.2,430.2 195.8,430.0 195.2,429.9 194.8,429.9 194.2,429.5 193.8,429.9 193.2,430.0 192.8,430.0 192.2,430.1 191.8,430.4 191.2,430.0 190.8,429.8 190.2,429.8 189.8,429.6 189.2,429.1 188.8,429.1 188.2,429.0 187.8,429.0 187.2,428.9 186.8,428.4 186.2,428.4 185.8,428.4 185.2,427.9 184.8,427.8 184.2,427.5 183.8,427.2 183.2,426.7 182.8,426.7 182.2,428.3 181.8,428.4 181.2,428.4 180.8,428.4 180.2,428.9 179.8,428.9 179.2,429.0 178.8,429.1 178.2,428.4 177.8,428.1 177.2,427.9 176.8,427.8 176.2,427.3 175.8,426.1 175.2,426.1 174.8,425.0 174.2,424.6 173.8,424.9 173.2,426.3 172.8,426.3 172.2,426.3 171.8,426.3 171.2,426.4 170.8,426.2 170.2,425.9 169.8,425.6 169.2,425.6 168.8,425.6 168.2,425.2 167.8,425.2 167.2,425.2 166.8,424.3 166.2,424.3 165.8,428.9 165.2,431.8 164.8,431.8 164.2,431.8 163.8,432.0 163.2,432.6 162.8,432.6 162.2,432.6 161.8,432.6 161.2,432.8 160.8,432.5 160.2,432.1 159.8,432.0 159.2,432.0 158.8,431.3 158.2,430.8 157.8,430.3 157.2,430.2 156.8,429.7 156.2,429.6 155.8,428.4 155.2,427.2 154.8,427.2 154.2,427.2 153.8,427.3 153.2,427.3 152.8,427.3 152.2,427.3 151.8,427.2 151.2,427.2 150.8,427.1 150.2,426.7 149.8,426.7 149.2,426.6 148.8,426.6 148.2,426.6 147.8,426.4 147.2,426.2 146.8,426.1 146.2,426.1 145.8,425.7 145.2,425.3 144.8,425.1 144.2,424.8 143.8,424.8 143.2,424.8 142.8,424.8 142.2,424.8 141.8,424.7 141.2,424.6 140.8,425.8 140.2,427.0 139.8,428.1 139.2,428.1 138.8,428.1 138.2,428.1 137.8,428.1 137.2,426.5 136.8,425.8 136.2,425.7 135.8,425.5 135.2,424.5 134.8,424.5 134.2,424.7 133.8,424.7 133.2,424.7 132.8,424.6 132.2,424.3 131.8,424.3 131.2,423.5 130.8,423.3 130.2,423.0 129.8,423.4 129.2,423.5 128.8,424.1 128.2,424.3 127.8,424.3 127.2,424.3 126.8,424.3 126.2,424.3 125.8,424.0 125.2,424.6 124.8,426.9 124.2,426.9 123.8,426.9 123.2,426.9 122.8,427.3 122.2,426.9 121.8,426.8 121.2,426.2 120.8,425.9 120.2,424.5 119.8,423.2 119.2,422.1 118.8,421.5 118.2,420.6 117.8,420.1 117.2,419.7 116.8,418.9 116.2,418.9 115.8,419.5 115.2,419.6 114.8,419.4 114.2,419.3 113.8,419.5 113.2,419.7 112.8,419.7 112.2,419.7 111.8,419.7 111.2,419.7 110.8,419.6 110.2,417.3 109.8,417.0 109.2,416.3 108.8,415.9 108.2,415.9 107.8,415.9 107.2,415.5 106.8,415.5 106.2,415.3 105.8,414.8 105.2,414.0 104.8,413.7 104.2,413.5 103.8,413.4 103.2,413.7 102.8,415.4 102.2,415.5 101.8,415.5 101.2,415.5 100.8,415.5 100.2,414.9 99.8,414.1 99.2,413.0 98.8,411.3 98.2,410.5 97.8,410.1 97.2,409.8 96.8,409.8 96.2,409.6 95.8,409.3 95.2,409.0 94.8,408.9 94.2,408.9 93.8,408.9 93.2,408.7 92.8,408.7 92.2,408.3 91.8,408.1 91.2,408.1 90.8,408.1 90.2,407.8 89.8,407.8 89.2,407.8 88.8,408.1 88.2,408.1 87.8,408.1 87.2,408.2 86.8,408.0 86.2,407.8 85.8,407.3 85.2,407.3 84.8,407.0 84.2,407.0 83.8,406.7 83.2,406.7 82.8,406.3 82.2,406.2 81.8,405.9 81.2,405.7 80.8,405.7 80.2,405.6 79.8,405.6 79.2,405.1 78.8,404.8 78.2,404.5 77.8,404.3 77.2,403.4 76.8,404.2 76.2,405.1 75.8,406.1 75.2,406.4 74.8,406.4 74.2,407.1 73.8,407.6 73.2,407.8 72.8,407.9 72.2,407.9 71.8,408.0 71.2,408.1 70.8,408.1 70.2,408.1 69.8,408.1 69.2,408.1 68.8,408.2 68.2,408.2 67.8,408.2 67.2,408.2 66.8,408.2 66.2,408.1 65.8,408.1 65.2,408.0 64.8,408.0 64.2,408.0 63.8,407.9 63.2,407.7 62.8,407.7 62.2,407.5 61.8,407.5 61.2,407.6 60.8,407.6 60.2,407.6 59.8,407.7 59.2,407.6 58.8,407.4 58.2,407.4 57.8,407.0 57.2,407.1 56.8,407.3 56.2,407.5 55.8,408.2 55.2,408.5 54.8,408.7 54.2,409.0 53.8,409.3 53.2,409.4 52.8,409.4 52.2,409.5 51.8,409.7 51.2,409.3 50.8,409.3 50.2,409.3 49.8,408.8 49.2,408.4 48.8,408.4 48.2,408.4 47.8,408.3 47.2,408.1 46.8,407.9 46.2,407.6 45.8,407.1 45.2,406.8 44.8,406.6 44.2,406.2 43.8,406.5 43.2,406.5 42.8,406.6 42.2,406.9 41.8,407.2 41.2,407.4 40.8,407.6 40.2,407.6 39.8,407.9 39.2,408.0 38.8,407.9 38.2,407.7 37.8,407.6 37.2,407.6 36.8,407.4" fill="#0c0c20"/>
<polyline points="36.5,405.3 37.0,405.3 37.6,405.3 38.2,405.4 38.8,405.5 39.3,405.7 39.9,405.8 40.5,405.8 41.1,405.8 41.7,405.7 42.2,405.6 42.8,405.6 43.4,405.5 44.0,405.4 44.5,405.3 45.1,405.2 45.7,405.2 46.3,405.2 46.8,405.3 47.4,405.3 48.0,405.4 48.6,405.4 49.1,405.5 49.7,405.5 50.3,405.6 50.9,405.6 51.5,405.7 52.0,405.8 52.6,405.9 53.2,405.9 53.8,405.9 54.3,406.0 54.9,406.0 55.5,406.0 56.1,406.1 56.7,406.1 57.2,406.0 57.8,406.0 58.4,406.0 59.0,405.9 59.6,405.9 60.1,405.9 60.7,406.0 61.3,406.0 61.9,406.0 62.4,406.0 63.0,406.0 63.6,406.1 64.2,406.1 64.8,406.2 65.3,406.2 65.9,406.2 66.5,406.2 67.1,406.2 67.7,406.2 68.2,406.2 68.8,406.2 69.4,406.2 70.0,406.1 70.6,406.1 71.1,406.0 71.7,406.0 72.3,406.0 72.9,405.9 73.4,405.9 74.0,405.8 74.6,405.8 75.2,405.8 75.8,405.7 76.4,405.6 76.9,405.5 77.5,405.4 78.1,405.3 78.7,405.2 79.3,405.1 79.9,405.1 80.4,405.0 81.0,405.0 81.6,404.9 82.2,404.9 82.8,404.8 83.4,404.8 83.9,404.8 84.5,404.7 85.1,404.7 85.7,404.7 86.3,404.7 86.9,404.7 87.4,404.7 88.0,404.7 88.6,404.7 89.2,404.7 89.8,404.7 90.4,404.6 90.9,404.6 91.5,404.6 92.1,404.6 92.7,404.7 93.3,404.7 93.9,404.7 94.4,404.8 95.0,404.9 95.6,405.0 96.2,405.2 96.8,405.4 97.4,405.6 97.9,405.7 98.5,405.9 99.1,406.1 99.7,406.2 100.2,406.5 100.8,406.7 101.4,407.0 101.9,407.3 102.5,407.6 103.1,407.8 103.6,407.9 104.2,408.1 104.8,408.3 105.3,408.5 105.9,408.7 106.5,408.9 107.1,409.1 107.6,409.3 108.2,409.6 108.8,409.8 109.3,410.0 109.9,410.3 110.5,410.6 111.0,410.8 111.6,411.1 112.2,411.5 112.7,411.9 113.3,412.2 113.9,412.5 114.4,412.8 115.0,413.1 115.6,413.4 116.1,413.7 116.7,414.0 117.3,414.3 117.8,414.5 118.4,414.8 119.0,415.1 119.5,415.3 120.1,415.5 120.7,415.7 121.2,416.0 121.8,416.3 122.4,416.8 122.9,417.2 123.5,417.7 124.1,418.1 124.6,418.4 125.2,418.6 125.8,418.9 126.3,419.1 126.9,419.4 127.5,419.7 128.0,419.9 128.6,420.2 129.2,420.4 129.8,420.6 130.3,420.7 130.9,420.8 131.5,420.8 132.0,420.9 132.6,421.1 133.2,421.3 133.7,421.4 134.3,421.6 134.9,421.7 135.4,421.8 136.0,422.0 136.6,422.2 137.2,422.4 137.7,422.5 138.3,422.7 138.9,422.9 139.4,423.1 140.0,423.2 140.6,423.1 141.1,423.1 141.7,423.0 142.3,422.8 142.8,422.8 143.4,422.7 144.0,422.7 144.6,422.8 145.1,422.8 145.7,422.9 146.3,422.9 146.8,422.9 147.4,423.0 148.0,423.1 148.6,423.2 149.1,423.3 149.7,423.4 150.3,423.5 150.9,423.6 151.5,423.7 152.0,423.8 152.6,423.9 153.2,424.0 153.8,424.1 154.3,424.1 154.9,424.2 155.5,424.3 156.1,424.3 156.7,424.4 157.2,424.5 157.8,424.5 158.4,424.6 159.0,424.7 159.6,424.9 160.1,425.1 160.7,425.4 161.3,425.6 161.9,425.9 162.5,426.1 163.0,426.4 163.6,426.6 164.2,426.8 164.8,427.0 165.3,427.0 165.9,426.9 166.5,426.8 167.1,426.7 167.7,426.6 168.2,426.6 168.8,426.6 169.4,426.6 170.0,426.5 170.6,426.5 171.1,426.5 171.7,426.4 172.3,426.4 172.8,426.4 173.4,426.2 174.0,426.1 174.6,426.0 175.1,426.0 175.7,425.9 176.3,425.8 176.9,425.7 177.4,425.6 178.0,425.6 178.6,425.5 179.1,425.4 179.7,425.3 180.3,425.2 180.9,425.1 181.4,425.0 182.0,424.8 182.6,424.6 183.1,424.4 183.7,424.2 184.3,424.2 184.9,424.4 185.4,424.6 186.0,424.8 186.6,424.9 187.1,425.0 187.7,425.0 188.3,425.1 188.9,425.2 189.4,425.3 190.0,425.4 190.6,425.5 191.1,425.6 191.7,425.7 192.3,425.9 192.9,426.2 193.4,426.4 194.0,426.5 194.6,426.6 195.1,426.7 195.7,426.8 196.3,426.9 196.9,427.0 197.4,427.0 198.0,427.0 198.6,427.1 199.1,427.2 199.7,427.3 200.3,427.3 200.9,427.4 201.4,427.6 202.0,427.8 202.6,428.0 203.1,428.1 203.7,428.2 204.3,428.1 204.9,428.1 205.4,428.1 206.0,428.2 206.6,428.2 207.1,428.2 207.7,428.2 208.3,428.3 208.9,428.3 209.4,428.3 210.0,428.3 210.6,428.3 211.1,428.2 211.7,428.1 212.3,428.1 212.9,428.0 213.4,427.9 214.0,427.8 214.6,427.7 215.1,427.6 215.7,427.6 216.3,427.5 216.9,427.5 217.4,427.4 218.0,427.3 218.6,427.2 219.1,427.1 219.7,427.1 220.3,427.0 220.9,426.8 221.4,426.5 222.0,426.3 222.6,426.1 223.2,426.0 223.7,425.9 224.3,425.8 224.9,425.6 225.4,425.4 226.0,425.2 226.6,425.1 227.2,424.9 227.7,424.7 228.3,424.4 228.9,424.1 229.4,423.8 230.0,423.5 230.6,423.2 231.2,422.9 231.7,422.8 232.3,422.7 232.9,422.6 233.4,422.5 234.0,422.4 234.6,422.2 235.2,422.0 235.7,421.8 236.3,421.6 236.9,421.3 237.4,421.1 238.0,420.8 238.6,420.6 239.2,420.3 239.7,420.2 240.3,420.0 240.9,419.9 241.4,419.7 242.0,419.6 242.6,419.3 243.2,419.1 243.7,418.8 244.3,418.5 244.9,418.2 245.4,417.7 246.0,417.3 246.6,416.9 247.2,416.6 247.7,416.5 248.3,416.4 248.9,416.3 249.4,416.3 250.0,416.3 250.6,416.2 251.2,416.1 251.7,415.9 252.3,415.7 252.9,415.3 253.4,415.0 254.0,414.7 254.6,414.5 255.2,414.2 255.7,414.0 256.3,413.9 256.9,413.8 257.4,413.7 258.0,413.5 258.6,413.2 259.2,412.9 259.7,412.6 260.3,412.2 260.9,411.8 261.4,411.5 262.0,411.4 262.6,411.2 263.2,411.0 263.7,410.8 264.3,410.7 264.9,410.5 265.4,410.4 266.0,410.1 266.6,409.8 267.2,409.4 267.7,409.0 268.3,408.4 268.9,407.9 269.4,407.5 270.0,407.1 270.6,406.7 271.2,406.4 271.7,406.2 272.3,405.9 272.9,405.6 273.5,405.2 274.0,404.8 274.6,404.5 275.2,404.2 275.7,403.9 276.3,403.8 276.9,403.6 277.5,403.5 278.0,403.4 278.6,403.3 279.2,403.2 279.7,403.2 280.3,403.2 280.9,403.1 281.5,403.1 282.0,403.0 282.6,402.9 283.2,402.8 283.7,402.8 284.3,402.7 284.9,402.7 285.5,402.6 286.0,402.6 286.6,402.5 287.2,402.6 287.7,402.5 288.3,402.4 288.9,402.1 289.5,401.8 290.0,401.5 290.6,401.2 291.2,401.0 291.8,400.9 292.3,400.9 292.9,400.8 293.5,400.8 294.1,400.7 294.7,400.5 295.3,400.1 295.9,399.8 296.5,399.4 297.0,399.2 297.6,398.9 298.2,398.7 298.8,398.5 299.4,398.3 300.0,398.0 300.6,397.8 301.2,397.6 301.8,397.5 302.3,397.4 302.9,397.3 303.5,397.2 304.1,397.1 304.7,397.0 305.3,397.0 305.9,397.0 306.5,396.9 307.1,396.9 307.6,396.9 308.2,396.9 308.8,396.9 309.4,396.9 310.0,396.8 310.6,396.6 311.2,396.4 311.8,396.1 312.3,395.9 312.9,395.5 313.5,395.1 314.1,394.6 314.7,394.1 315.3,393.7 315.9,393.3 316.5,392.8 317.0,392.1 317.6,391.4 318.2,390.7 318.8,390.0 319.4,389.4 320.0,388.6 320.5,388.0 321.1,387.2 321.7,386.4 322.3,385.5 322.9,384.4 323.5,383.3 324.0,382.0 324.6,380.6 325.2,378.9 325.8,377.6 326.4,376.5 327.0,375.5 327.5,374.7 328.1,373.7 328.7,372.7 329.3,371.6 329.9,370.6 330.5,369.7 331.0,368.8 331.6,367.9 332.2,367.0 332.8,366.4 333.4,365.8 334.0,365.5 334.5,365.1 335.1,364.8 335.7,364.5 336.3,364.1 336.9,363.7 337.5,363.2 338.0,362.7 338.6,362.1 339.2,361.6 339.8,361.0 340.4,360.5 341.0,360.1 341.6,360.0 342.1,360.0 342.7,359.9 343.3,359.9 343.9,360.0 344.5,360.2 345.1,360.3 345.7,360.2 346.2,360.1 346.8,359.6 347.4,359.2 348.0,358.9 348.6,358.7 349.2,358.5 349.8,358.4 350.3,358.1 350.9,357.9 351.5,357.8 352.1,357.6 352.7,357.2 353.3,356.7 353.9,356.1 354.4,355.5 355.0,354.9 355.6,354.6 356.2,354.4 356.8,354.2 357.4,354.0 358.0,353.6 358.5,353.2 359.1,352.6 359.7,352.0 360.3,351.1 360.9,350.1 361.5,348.9 362.1,347.7 362.6,346.8 363.2,346.1 363.8,345.4 364.4,344.7 365.0,343.7 365.6,342.4 366.1,341.0 366.7,339.5 367.3,338.1 367.8,336.9 368.4,335.6 369.0,334.1 369.5,332.3 370.1,330.2 370.7,328.2 371.2,326.6 371.8,325.1 372.4,323.5 372.9,322.3 373.5,321.4 374.1,320.4 374.6,319.3 375.2,318.0 375.8,316.6 376.3,315.4 376.9,314.2 377.5,313.0 378.0,311.7 378.6,310.5 379.2,309.7 379.7,309.4 380.3,309.4 380.9,309.5 381.4,309.5 382.0,309.7 382.6,309.4 383.1,308.7 383.7,308.1 384.3,308.3 384.8,309.4 385.4,310.5 386.0,311.4 386.5,312.4 387.1,313.1 387.7,314.0 388.2,315.0 388.8,315.9 389.4,316.8 390.0,317.5 390.5,317.9 391.1,318.1 391.7,317.7 392.3,317.0 392.9,316.3 393.5,315.8 394.0,315.5 394.6,315.2 395.2,314.9 395.8,315.1 396.4,315.4 397.0,315.8 397.6,316.1 398.1,316.1 398.7,315.7 399.3,314.6 399.9,313.6 400.5,312.7 401.1,311.7 401.6,311.0 402.2,310.9 402.8,310.8 403.4,310.5 404.0,309.2 404.6,308.0 405.1,306.8 405.7,305.5 406.3,304.1 406.9,302.8 407.5,301.4 408.1,300.0 408.6,298.9 409.2,297.8 409.8,296.5 410.4,295.5 411.0,294.5 411.6,293.3 412.1,292.1 412.7,291.0 413.3,290.1 413.9,288.9 414.5,287.7 415.0,286.4 415.6,285.2 416.2,284.3 416.8,283.3 417.3,282.3 417.9,281.3 418.5,280.5 419.1,279.9 419.6,279.2 420.2,278.1 420.8,276.8 421.4,275.2 422.0,273.6 422.5,271.9 423.1,270.5 423.7,268.9 424.3,267.2 424.8,265.6 425.4,264.2 426.0,263.0 426.6,261.8 427.1,261.1 427.7,260.6 428.3,259.8 428.9,259.0 429.4,258.1 430.0,257.1 430.6,256.1 431.2,255.3 431.7,254.4 432.3,252.8 432.9,251.3 433.5,250.3 434.1,248.9 434.6,247.4 435.2,245.6 435.8,243.7 436.4,241.8 436.9,240.0 437.5,238.3 438.1,236.5 438.7,234.8 439.2,233.5 439.8,232.5 440.4,231.5 441.0,230.5 441.5,229.5 442.1,228.2 442.7,227.0 443.3,225.8 443.9,224.7 444.4,223.4 445.0,221.7 445.6,219.8 446.2,218.0 446.7,216.1 447.3,214.0 447.9,212.0 448.5,209.9 449.0,208.1 449.6,206.8 450.2,206.0 450.8,204.8 451.3,203.4 451.9,201.8 452.5,199.4 453.1,196.5 453.7,194.1 454.2,191.0 454.8,188.5 455.4,187.0 456.0,186.0 456.5,184.8 457.1,183.6 457.7,182.0 458.3,179.8 458.8,177.2 459.4,175.2 460.0,173.1 460.6,171.5 461.1,170.7 461.7,170.1 462.3,169.2 462.9,168.1 463.4,166.7 464.0,165.3 464.6,163.9 465.2,162.7 465.7,161.1 466.3,160.2 466.9,159.6 467.5,159.2 468.0,158.6 468.6,158.0 469.2,157.0 469.8,156.3 470.3,156.1 470.9,156.4 471.5,157.3 472.1,158.8 472.6,159.9 473.2,161.4 473.8,163.1 474.3,163.7 474.9,163.6 475.5,163.8 476.1,164.0 476.6,164.0 477.2,164.5 477.8,165.2 478.4,165.3 478.9,165.2 479.5,164.7 480.1,163.7 480.7,162.3 481.2,161.1 481.8,160.5 482.4,160.5 483.0,160.8 483.5,161.2 484.1,161.4 484.7,161.9 485.3,162.4 485.8,162.4 486.4,162.4 487.0,162.3 487.6,162.1 488.1,162.2 488.7,162.4 489.3,162.8 489.9,162.8 490.4,162.7 491.0,162.8 491.6,163.0 492.2,163.1 492.7,163.3 493.3,164.7 493.9,165.8 494.5,166.7 495.0,167.7 495.6,169.2 496.2,170.7 496.8,172.2 497.4,174.2 497.9,177.2 498.5,180.1 499.1,182.8 499.7,185.4 500.2,188.0 500.8,190.1 501.4,192.1 502.0,193.5 502.5,195.5 503.1,197.7 503.7,199.9 504.3,201.7 504.8,203.9 505.4,206.1 506.0,207.9 506.6,210.0 507.2,212.3 507.7,214.4 508.3,216.3 508.9,218.2 509.5,220.2 510.0,222.2 510.6,224.3 511.2,226.5 511.8,228.3 512.3,229.0 512.9,229.8 513.5,230.5 514.1,231.0 514.6,231.2 515.2,231.3 515.8,231.7 516.4,232.1 517.0,231.9 517.5,231.4 518.1,231.4 518.7,231.6 519.3,231.7 519.8,232.0 520.4,232.6 520.5,232.7" fill="none" stroke="#b41c26" stroke-width="1.2" opacity="0.92"/>
<polyline points="36.5,405.3 36.8,405.3 37.2,405.3 37.6,405.3 38.0,405.4 38.4,405.5 38.8,405.5 39.2,405.6 39.5,405.7 39.9,405.8 40.3,405.8 40.7,405.8 41.1,405.8 41.5,405.7 41.8,405.7 42.2,405.7 42.6,405.7 43.0,405.7 43.4,405.6 43.8,405.4 44.1,405.2 44.5,404.9 44.9,404.8 45.3,404.7 45.7,404.6 46.1,404.7 46.5,404.7 46.8,404.8 47.2,404.9 47.6,405.0 48.0,405.1 48.4,405.3 48.8,405.5 49.1,405.8 49.5,406.0 49.9,406.1 50.3,406.3 50.7,406.4 51.1,406.5 51.5,406.7 51.8,406.8 52.2,406.9 52.6,407.0 53.0,407.1 53.4,407.2 53.8,407.2 54.2,407.2 54.5,407.3 54.9,407.4 55.3,407.4 55.7,407.3 56.1,407.1 56.5,406.9 56.9,406.7 57.2,406.5 57.6,406.3 58.0,406.1 58.4,405.9 58.8,405.8 59.2,405.6 59.6,405.6 59.9,405.5 60.3,405.4 60.7,405.4 61.1,405.4 61.5,405.4 61.9,405.5 62.3,405.5 62.6,405.6 63.0,405.6 63.4,405.7 63.8,405.7 64.2,405.6 64.6,405.6 65.0,405.6 65.3,405.6 65.7,405.6 66.1,405.7 66.5,405.8 66.9,405.8 67.3,405.9 67.7,405.9 68.0,406.0 68.4,406.1 68.8,406.2 69.2,406.2 69.6,406.2 70.0,406.2 70.4,406.2 70.7,406.2 71.1,406.2 71.5,406.3 71.9,406.3 72.3,406.3 72.7,406.2 73.1,406.1 73.4,406.1 73.8,406.0 74.2,406.0 74.6,406.0 75.0,405.9 75.4,405.7 75.8,405.5 76.2,405.3 76.5,404.9 76.9,404.4 77.3,403.9 77.7,403.6 78.1,403.3 78.5,403.1 78.9,402.9 79.3,402.8 79.7,402.6 80.0,402.5 80.4,402.5 80.8,402.6 81.2,402.7 81.6,402.9 82.0,403.1 82.4,403.4 82.8,403.6 83.2,403.7 83.5,403.9 83.9,404.0 84.3,404.2 84.7,404.3 85.1,404.3 85.5,404.5 85.9,404.6 86.3,404.8 86.7,404.9 87.0,405.1 87.4,405.4 87.8,405.6 88.2,405.8 88.6,405.8 89.0,405.9 89.4,405.9 89.8,406.0 90.2,406.1 90.6,406.1 90.9,406.1 91.3,406.1 91.7,406.1 92.1,406.2 92.5,406.1 92.9,406.1 93.3,406.1 93.7,406.2 94.1,406.3 94.4,406.3 94.8,406.4 95.2,406.6 95.6,406.7 96.0,406.8 96.4,406.9 96.8,406.9 97.2,407.0 97.6,407.2 97.9,407.3 98.3,407.4 98.7,407.6 99.1,407.8 99.5,408.0 99.9,408.2 100.2,408.6 100.6,409.0 101.0,409.5 101.4,410.0 101.8,410.6 102.1,411.0 102.5,411.4 102.9,411.6 103.3,411.7 103.6,411.8 104.0,411.9 104.4,412.1 104.8,412.2 105.2,412.2 105.5,412.2 105.9,412.1 106.3,411.9 106.7,411.8 107.1,411.9 107.4,412.1 107.8,412.3 108.2,412.6 108.6,412.9 108.9,413.1 109.3,413.3 109.7,413.4 110.1,413.6 110.5,413.8 110.8,414.1 111.2,414.3 111.6,414.6 112.0,415.0 112.3,415.4 112.7,415.8 113.1,416.0 113.5,416.3 113.9,416.5 114.2,416.8 114.6,417.1 115.0,417.3 115.4,417.5 115.7,417.7 116.1,417.9 116.5,417.9 116.9,417.8 117.3,417.6 117.6,417.5 118.0,417.5 118.4,417.6 118.8,417.8 119.1,418.0 119.5,418.1 119.9,418.3 120.3,418.6 120.7,418.8 121.0,419.1 121.4,419.5 121.8,420.1 122.2,420.8 122.5,421.4 122.9,422.0 123.3,422.6 123.7,423.2 124.1,423.6 124.4,423.9 124.8,424.0 125.2,424.1 125.6,424.1 126.0,424.0 126.3,423.9 126.7,423.6 127.1,423.4 127.5,423.2 127.9,422.9 128.2,422.6 128.6,422.3 129.0,422.2 129.4,422.1 129.8,422.1 130.1,422.1 130.5,421.9 130.9,421.7 131.3,421.6 131.6,421.5 132.0,421.5 132.4,421.5 132.8,421.6 133.2,421.7 133.5,421.7 133.9,421.7 134.3,421.7 134.7,421.7 135.1,422.0 135.4,422.2 135.8,422.5 136.2,422.6 136.6,422.7 137.0,422.9 137.3,423.0 137.7,423.1 138.1,423.2 138.5,423.5 138.9,423.9 139.2,424.3 139.6,424.5 140.0,424.6 140.4,424.6 140.8,424.6 141.1,424.5 141.5,424.4 141.9,424.2 142.3,424.0 142.7,423.8 143.0,423.7 143.4,423.4 143.8,423.0 144.2,422.7 144.6,422.6 144.9,422.5 145.3,422.5 145.7,422.7 146.1,422.9 146.4,423.0 146.8,423.2 147.2,423.3 147.6,423.5 148.0,423.6 148.4,423.7 148.8,423.9 149.1,424.1 149.5,424.2 149.9,424.3 150.3,424.4 150.7,424.5 151.1,424.5 151.5,424.6 151.8,424.7 152.2,424.8 152.6,424.9 153.0,424.9 153.4,425.0 153.8,425.1 154.2,425.2 154.5,425.3 154.9,425.3 155.3,425.3 155.7,425.3 156.1,425.3 156.5,425.4 156.9,425.5 157.2,425.7 157.6,426.0 158.0,426.2 158.4,426.4 158.8,426.7 159.2,427.0 159.6,427.3 159.9,427.8 160.3,428.3 160.7,428.7 161.1,429.1 161.5,429.4 161.9,429.6 162.3,429.9 162.6,430.1 163.0,430.2 163.4,430.4 163.8,430.6 164.2,430.7 164.6,430.7 165.0,430.5 165.3,429.8 165.7,428.9 166.1,428.1 166.5,427.2 166.9,426.4 167.3,425.7 167.7,425.0 168.0,424.5 168.4,424.0 168.8,423.5 169.2,422.9 169.6,422.5 170.0,422.4 170.4,422.7 170.7,423.0 171.1,423.3 171.5,423.7 171.9,423.9 172.3,424.2 172.7,424.3 173.0,424.2 173.4,423.8 173.8,423.4 174.2,423.2 174.6,423.1 174.9,423.1 175.3,423.1 175.7,423.0 176.1,423.1 176.5,423.1 176.9,423.0 177.2,423.1 177.6,423.3 178.0,423.8 178.4,424.5 178.8,425.0 179.1,425.4 179.5,425.7 179.9,426.1 180.3,426.3 180.7,426.5 181.0,426.7 181.4,426.9 181.8,426.9 182.2,426.7 182.6,426.4 182.9,426.2 183.3,426.0 183.7,425.8 184.1,425.7 184.5,425.5 184.9,425.5 185.2,425.5 185.6,425.5 186.0,425.4 186.4,425.4 186.8,425.5 187.1,425.7 187.5,425.9 187.9,426.1 188.3,426.3 188.7,426.5 189.0,426.6 189.4,426.7 189.8,426.8 190.2,426.8 190.6,426.8 191.0,427.0 191.3,427.2 191.7,427.4 192.1,427.6 192.5,427.7 192.9,427.9 193.2,427.9 193.6,427.9 194.0,428.0 194.4,428.0 194.8,428.0 195.1,428.0 195.5,428.0 195.9,428.0 196.3,428.0 196.7,428.0 197.0,428.0 197.4,427.9 197.8,428.0 198.2,428.1 198.6,428.3 199.0,428.5 199.3,428.7 199.7,428.7 200.1,428.8 200.5,428.9 200.9,428.9 201.2,429.0 201.6,429.2 202.0,429.4 202.4,429.6 202.8,429.7 203.1,429.7 203.5,429.6 203.9,429.4 204.3,429.1 204.7,428.8 205.0,428.5 205.4,428.4 205.8,428.3 206.2,428.1 206.6,427.9 207.0,427.6 207.3,427.4 207.7,427.2 208.1,427.1 208.5,427.1 208.9,427.3 209.2,427.5 209.6,427.8 210.0,427.8 210.4,427.7 210.8,427.7 211.1,427.6 211.5,427.6 211.9,427.4 212.3,427.3 212.7,427.0 213.1,426.7 213.4,426.4 213.8,426.2 214.2,425.9 214.6,425.7 215.0,425.6 215.3,425.4 215.7,425.4 216.1,425.4 216.5,425.4 216.9,425.5 217.2,425.7 217.6,425.9 218.0,426.1 218.4,426.2 218.8,426.3 219.1,426.4 219.5,426.5 219.9,426.6 220.3,426.6 220.7,426.3 221.1,426.1 221.4,425.7 221.8,425.2 222.2,424.8 222.6,424.5 223.0,424.4 223.3,424.1 223.7,423.8 224.1,423.4 224.5,422.9 224.9,422.6 225.2,422.3 225.6,422.2 226.0,422.2 226.4,422.2 226.8,422.2 227.2,422.1 227.5,421.9 227.9,421.7 228.3,421.4 228.7,421.0 229.1,420.7 229.4,420.4 229.8,419.9 230.2,419.5 230.6,419.1 231.0,418.7 231.3,418.5 231.7,418.4 232.1,418.4 232.5,418.4 232.9,418.5 233.2,418.8 233.6,419.1 234.0,419.3 234.4,419.7 234.8,420.0 235.2,420.2 235.5,420.4 235.9,420.6 236.3,420.7 236.7,420.5 237.1,420.3 237.4,420.0 237.8,419.7 238.2,419.5 238.6,419.3 239.0,419.0 239.3,418.8 239.7,418.7 240.1,418.6 240.5,418.4 240.9,418.1 241.3,417.9 241.6,417.9 242.0,417.9 242.4,417.8 242.8,417.4 243.2,417.0 243.5,416.6 243.9,416.1 244.3,415.6 244.7,414.9 245.1,414.2 245.4,413.5 245.8,412.7 246.2,411.8 246.6,411.0 247.0,410.6 247.3,410.3 247.7,410.4 248.1,410.4 248.5,410.5 248.9,410.7 249.3,411.1 249.6,411.7 250.0,412.4 250.4,413.1 250.8,413.9 251.2,414.6 251.5,415.0 251.9,415.3 252.3,415.3 252.7,415.1 253.1,414.8 253.4,414.4 253.8,414.0 254.2,413.6 254.6,413.2 255.0,412.7 255.4,412.5 255.7,412.2 256.1,412.0 256.5,412.0 256.9,412.0 257.3,412.1 257.6,412.3 258.0,412.4 258.4,412.3 258.8,412.2 259.2,412.0 259.5,411.6 259.9,411.1 260.3,410.4 260.7,409.8 261.1,409.1 261.4,408.5 261.8,408.0 262.2,407.6 262.6,407.2 263.0,406.9 263.4,406.6 263.7,406.3 264.1,406.0 264.5,405.6 264.9,405.2 265.3,405.1 265.6,404.9 266.0,404.6 266.4,404.2 266.8,403.7 267.2,403.2 267.5,402.6 267.9,401.9 268.3,401.3 268.7,400.9 269.1,400.8 269.4,400.9 269.8,401.0 270.2,401.0 270.6,401.1 271.0,401.2 271.4,401.3 271.7,401.5 272.1,401.6 272.5,401.8 272.9,401.8 273.3,401.8 273.6,401.7 274.0,401.5 274.4,401.3 274.8,401.2 275.2,401.3 275.5,401.5 275.9,401.8 276.3,402.2 276.7,402.6 277.1,403.0 277.5,403.4 277.8,404.0 278.2,404.5 278.6,404.9 279.0,405.2 279.4,405.5 279.7,405.6 280.1,405.6 280.5,405.5 280.9,405.2 281.3,405.0 281.6,404.8 282.0,404.6 282.4,404.4 282.8,404.3 283.2,404.1 283.5,403.8 283.9,403.5 284.3,403.2 284.7,402.9 285.1,402.5 285.5,402.1 285.8,401.6 286.2,401.2 286.6,400.8 287.0,400.5 287.4,400.1 287.7,399.7 288.1,399.3 288.5,398.9 288.9,398.3 289.3,397.7 289.6,397.0 290.0,396.4 290.4,396.0 290.8,395.6 291.2,395.4 291.6,395.1 292.0,395.0 292.3,395.0 292.7,395.1 293.1,395.2 293.5,395.6 293.9,396.2 294.3,396.7 294.7,397.2 295.1,397.4 295.5,397.5 295.9,397.5 296.3,397.4 296.7,397.3 297.0,397.2 297.4,397.1 297.8,397.0 298.2,396.8 298.6,396.7 299.0,396.5 299.4,396.4 299.8,396.4 300.2,396.6 300.6,396.8 301.0,396.9 301.4,397.2 301.8,397.6 302.1,397.9 302.5,397.9 302.9,398.0 303.3,398.1 303.7,398.0 304.1,397.9 304.5,397.9 304.9,398.0 305.3,398.1 305.7,398.2 306.1,398.1 306.5,397.8 306.9,397.5 307.2,397.4 307.6,397.4 308.0,397.2 308.4,397.1 308.8,396.8 309.2,396.4 309.6,395.9 310.0,395.1 310.4,394.3 310.8,393.6 311.2,393.0 311.6,392.3 312.0,391.7 312.3,391.0 312.7,390.3 313.1,389.6 313.5,388.8 313.9,388.1 314.3,387.3 314.7,386.4 315.1,385.6 315.5,385.3 315.9,384.7 316.3,383.9 316.7,382.9 317.0,381.6 317.4,380.6 317.8,379.6 318.2,378.7 318.6,377.8 319.0,377.1 319.4,376.7 319.8,376.4 320.2,375.7 320.5,375.0 320.9,374.7 321.3,374.5 321.7,374.1 322.1,373.6 322.5,372.9 322.9,371.9 323.3,370.8 323.7,369.3 324.0,367.7 324.4,365.9 324.8,363.7 325.2,361.3 325.6,359.3 326.0,357.9 326.4,356.9 326.8,356.2 327.2,356.2 327.5,356.7 327.9,357.0 328.3,357.3 328.7,357.5 329.1,357.6 329.5,357.8 329.9,358.8 330.3,359.5 330.7,359.8 331.0,359.8 331.4,359.9 331.8,359.6 332.2,358.7 332.6,358.3 333.0,358.6 333.4,359.2 333.8,360.3 334.2,361.4 334.5,362.5 334.9,363.7 335.3,364.7 335.7,365.5 336.1,366.0 336.5,366.2 336.9,366.3 337.3,366.3 337.7,365.5 338.0,364.7 338.4,363.6 338.8,362.5 339.2,361.5 339.6,360.5 340.0,359.4 340.4,358.4 340.8,357.9 341.2,357.8 341.6,358.0 341.9,358.4 342.3,358.8 342.7,358.8 343.1,358.8 343.5,358.9 343.9,358.8 344.3,358.6 344.7,358.0 345.1,357.9 345.5,357.7 345.9,357.1 346.2,356.5 346.6,355.6 347.0,354.6 347.4,354.1 347.8,353.7 348.2,353.0 348.6,352.4 349.0,352.1 349.4,352.1 349.8,351.9 350.1,351.5 350.5,351.2 350.9,351.1 351.3,350.9 351.7,350.9 352.1,351.2 352.5,351.4 352.9,351.9 353.3,352.1 353.7,352.1 354.1,352.0 354.4,351.8 354.8,351.9 355.2,352.1 355.6,352.5 356.0,352.5 356.4,352.6 356.8,352.4 357.2,352.0 357.6,351.4 358.0,350.6 358.3,350.0 358.7,349.1 359.1,348.1 359.5,347.2 359.9,345.6 360.3,343.5 360.7,341.4 361.1,339.3 361.5,337.0 361.9,334.5 362.3,332.5 362.6,331.2 363.0,330.2 363.4,329.5 363.8,329.1 364.2,328.2 364.6,327.4 365.0,326.8 365.4,325.6 365.7,324.1 366.1,322.3 366.5,320.8 366.9,319.5 367.3,317.7 367.6,315.9 368.0,314.2 368.4,311.8 368.8,309.6 369.2,307.2 369.5,304.5 369.9,301.7 370.3,299.5 370.7,297.9 371.0,297.5 371.4,297.6 371.8,297.5 372.2,297.0 372.6,296.7 372.9,297.2 373.3,298.5 373.7,299.9 374.1,301.8 374.4,304.3 374.8,306.9 375.2,308.9 375.6,310.3 376.0,310.9 376.3,311.3 376.7,311.8 377.1,311.9 377.5,311.1 377.8,309.5 378.2,307.7 378.6,306.1 379.0,304.9 379.4,304.4 379.7,305.1 380.1,306.9 380.5,308.0 380.9,309.0 381.2,310.3 381.6,312.6 382.0,315.3 382.4,317.4 382.8,319.0 383.1,319.6 383.5,320.0 383.9,320.2 384.3,321.2 384.6,322.6 385.0,323.9 385.4,324.9 385.8,326.1 386.2,326.9 386.5,327.1 386.9,327.2 387.3,327.8 387.7,330.0 388.0,332.1 388.4,333.4 388.8,333.1 389.2,331.0 389.6,328.6 390.0,327.2 390.4,325.7 390.7,323.7 391.1,320.7 391.5,317.6 391.9,314.9 392.3,311.8 392.7,308.3 393.1,306.1 393.5,305.0 393.9,304.3 394.2,303.6 394.6,301.9 395.0,300.0 395.4,299.4 395.8,299.7 396.2,300.8 396.6,302.2 397.0,303.5 397.4,305.1 397.7,305.8 398.1,305.5 398.5,305.2 398.9,304.5 399.3,303.7 399.7,303.3 400.1,302.4 400.5,301.2 400.9,300.3 401.2,299.4 401.6,299.1 402.0,298.7 402.4,298.6 402.8,298.7 403.2,299.0 403.6,299.1 404.0,299.5 404.4,300.3 404.7,301.0 405.1,301.3 405.5,301.1 405.9,300.1 406.3,298.6 406.7,297.0 407.1,295.5 407.5,294.0 407.9,291.9 408.2,289.9 408.6,288.1 409.0,286.4 409.4,284.8 409.8,282.9 410.2,281.3 410.6,279.4 411.0,277.8 411.4,275.4 411.7,272.4 412.1,269.5 412.5,267.9 412.9,267.7 413.3,267.3 413.7,266.4 414.1,264.7 414.5,263.2 414.8,262.2 415.2,261.9 415.6,262.5 416.0,263.9 416.4,266.1 416.8,268.2 417.1,269.3 417.5,269.5 417.9,268.9 418.3,268.7 418.7,269.4 419.1,270.4 419.5,271.0 419.8,270.9 420.2,270.1 420.6,268.8 421.0,266.9 421.4,265.0 421.8,263.2 422.1,261.6 422.5,259.9 422.9,258.7 423.3,257.4 423.7,255.4 424.1,253.4 424.4,251.4 424.8,249.6 425.2,248.0 425.6,246.7 426.0,246.2 426.4,245.7 426.8,245.9 427.1,246.7 427.5,247.4 427.9,247.4 428.3,247.9 428.7,248.2 429.1,248.7 429.4,248.8 429.8,248.7 430.2,247.7 430.6,246.1 431.0,244.0 431.4,242.3 431.7,240.2 432.1,237.3 432.5,234.2 432.9,231.3 433.3,229.3 433.7,227.0 434.1,224.3 434.4,222.2 434.8,221.5 435.2,220.6 435.6,220.4 436.0,219.5 436.4,217.6 436.7,216.2 437.1,215.6 437.5,215.0 437.9,213.8 438.3,212.7 438.7,212.7 439.1,213.2 439.4,213.5 439.8,213.9 440.2,214.1 440.6,214.5 441.0,215.1 441.4,216.0 441.7,216.2 442.1,215.7 442.5,215.7 442.9,215.8 443.3,215.4 443.7,214.6 444.0,212.5 444.4,210.0 444.8,207.2 445.2,204.5 445.6,201.8 446.0,199.6 446.4,198.4 446.7,197.2 447.1,195.7 447.5,193.3 447.9,191.2 448.3,189.1 448.7,187.2 449.0,186.0 449.4,185.3 449.8,185.8 450.2,186.4 450.6,186.8 451.0,185.4 451.3,183.6 451.7,181.8 452.1,179.7 452.5,176.5 452.9,171.8 453.3,167.1 453.7,163.8 454.0,158.8 454.4,153.4 454.8,149.0 455.2,145.9 455.6,145.5 456.0,145.0 456.3,144.9 456.7,145.2 457.1,147.1 457.5,149.2 457.9,151.8 458.3,152.4 458.6,153.2 459.0,156.2 459.4,158.1 459.8,158.2 460.2,157.3 460.6,156.4 461.0,157.3 461.3,158.5 461.7,159.8 462.1,161.3 462.5,162.8 462.9,164.5 463.3,165.8 463.6,165.9 464.0,164.9 464.4,163.9 464.8,163.6 465.2,162.4 465.5,160.0 465.9,157.4 466.3,155.4 466.7,153.4 467.1,152.1 467.5,151.9 467.8,152.0 468.2,153.0 468.6,154.4 469.0,156.1 469.4,157.7 469.8,159.4 470.1,161.1 470.5,163.8 470.9,166.0 471.3,167.8 471.7,168.9 472.1,169.8 472.4,170.0 472.8,170.2 473.2,171.4 473.6,173.1 474.0,174.3 474.3,174.7 474.7,175.3 475.1,175.5 475.5,175.2 475.9,174.5 476.3,173.6 476.6,172.3 477.0,171.6 477.4,171.9 477.8,171.1 478.2,169.3 478.6,166.7 478.9,164.6 479.3,162.4 479.7,159.9 480.1,157.1 480.5,153.9 480.9,151.1 481.2,150.0 481.6,149.1 482.0,148.0 482.4,147.5 482.8,147.6 483.1,147.6 483.5,147.7 483.9,148.4 484.3,149.7 484.7,151.4 485.1,153.6 485.4,155.7 485.8,157.2 486.2,158.2 486.6,159.3 487.0,159.5 487.4,159.2 487.7,159.3 488.1,160.3 488.5,162.3 488.9,164.0 489.3,165.6 489.7,166.7 490.1,167.4 490.4,168.7 490.8,170.4 491.2,171.5 491.6,172.6 492.0,173.7 492.4,175.7 492.7,178.2 493.1,182.3 493.5,185.5 493.9,187.5 494.3,189.4 494.7,192.0 495.0,194.7 495.4,197.5 495.8,200.2 496.2,203.0 496.6,206.3 497.0,209.6 497.4,213.3 497.7,216.2 498.1,218.6 498.5,220.9 498.9,223.3 499.3,224.9 499.7,226.2 500.0,227.2 500.4,228.0 500.8,228.6 501.2,229.2 501.6,229.1 502.0,228.1 502.4,226.2 502.7,224.0 503.1,222.5 503.5,222.0 503.9,222.2 504.3,222.2 504.7,223.1 505.0,224.1 505.4,224.7 505.8,225.0 506.2,225.5 506.6,227.0 507.0,228.9 507.3,230.5 507.7,231.9 508.1,232.9 508.5,234.0 508.9,235.1 509.3,235.9 509.7,236.4 510.0,237.7 510.4,239.4 510.8,241.5 511.2,242.8 511.6,243.5 512.0,243.5 512.3,243.7 512.7,243.3 513.1,242.3 513.5,240.8 513.9,239.9 514.3,238.5 514.6,236.3 515.0,233.6 515.4,231.2 515.8,229.6 516.2,229.0 516.6,228.9 517.0,228.4 517.3,227.6 517.7,227.3 518.1,227.7 518.5,228.3 518.9,228.8 519.3,229.3 519.6,230.4 520.0,232.2 520.4,233.6 520.5,233.8" fill="none" stroke="#10104e" stroke-width="1.3" opacity="0.95"/>
<polyline points="166.0,431.40 169.0,431.38 172.0,431.36 175.0,431.33 178.0,431.30 181.0,431.26 184.0,431.20 187.0,431.12 190.0,431.04 193.0,430.93 196.0,430.74 199.0,430.44 202.0,430.02 205.0,429.52 208.0,428.95 211.0,428.28 214.0,427.54 217.0,426.73 220.0,425.90 223.0,425.08 226.0,424.27 229.0,423.48 232.0,422.69 235.0,421.90 238.0,421.09 241.0,420.24 244.0,419.36 247.0,418.45 250.0,417.52 253.0,416.58 256.0,415.58 259.0,414.55 262.0,413.48 265.0,412.40 268.0,411.32 271.0,410.24 274.0,409.16 277.0,408.08 280.0,407.00 283.0,405.92 286.0,404.84 289.0,403.76 292.0,402.68 295.0,401.58 298.0,400.43 301.0,399.19 304.0,397.85 307.0,396.44 310.0,394.99 313.0,393.52 316.0,392.00 319.0,390.42 322.0,388.82 325.0,387.20 328.0,385.59 331.0,384.00 334.0,382.43 337.0,380.86 340.0,379.30 343.0,377.73 346.0,376.14 349.0,374.53 352.0,372.92 355.0,371.29 358.0,369.62 361.0,367.88 364.0,366.07 367.0,364.21 370.0,362.33 373.0,360.43 376.0,358.50 379.0,356.55 382.0,354.58 385.0,352.60 388.0,350.62 391.0,348.63 394.0,346.63 397.0,344.63 400.0,342.63 403.0,340.60 406.0,338.55 409.0,336.46 412.0,334.35 415.0,332.23 418.0,330.08 421.0,327.91 424.0,325.70 427.0,323.47 430.0,321.23 433.0,318.98 436.0,316.71 439.0,314.43 442.0,312.13 445.0,309.83 448.0,307.52 451.0,305.19 454.0,302.85 457.0,300.49 460.0,298.13 463.0,295.75 466.0,293.36 469.0,290.94 472.0,288.50 475.0,286.05 478.0,283.56 481.0,281.01 484.0,278.38 487.0,275.70 490.0,272.99 493.0,270.28 496.0,267.53 499.0,264.76 502.0,261.97 505.0,259.17 508.0,256.38 511.0,253.59 514.0,250.82 517.0,248.06 520.0,245.30 523.0,242.53 526.0,239.74 529.0,236.93 532.0,234.12 535.0,231.29 538.0,228.43 541.0,225.50 544.0,222.52 547.0,219.49 550.0,216.44 553.0,213.39 556.0,210.34 559.0,207.30 562.0,204.24 565.0,201.17 568.0,198.09 571.0,194.99 574.0,191.89 577.0,188.79 580.0,185.68 583.0,182.53 586.0,179.32 589.0,176.03 592.0,172.67 595.0,169.28 598.0,165.88 601.0,162.47 604.0,159.06 607.0,155.65 610.0,152.26 613.0,148.87 616.0,145.49 619.0,142.11 622.0,138.73" fill="none" stroke="#050505" stroke-width="2.4" stroke-linejoin="round"/>
<path d="M50.8 436.5v2.5M75.1 436.5v2.5M99.6 436.5v2.5M123.4 436.5v2.5M147.3 436.5v2.5M171.6 436.5v2.5M195.6 436.5v2.5M219.6 436.5v2.5M243.6 436.5v2.5M267.6 436.5v2.5M291.6 436.5v2.5M316.3 436.5v2.5M340.8 436.5v2.5M365.4 436.5v2.5M389.2 436.5v2.5M413.7 436.5v2.5M437.9 436.5v2.5M462.1 436.5v2.5M486.2 436.5v2.5M510.4 436.5v2.5M534.6 436.5v2.5M560.7 436.5v2.5" stroke="#aaa" stroke-width="0.8" fill="none"/>
<g font-size="9" fill="#000" stroke="#000" stroke-width="0.15"><text transform="translate(589,425.0) scale(1.15,1)" text-anchor="middle">300</text><text transform="translate(589,405.9) scale(1.15,1)" text-anchor="middle">400</text><text transform="translate(589,386.8) scale(1.15,1)" text-anchor="middle">500</text><text transform="translate(589,367.7) scale(1.15,1)" text-anchor="middle">600</text><text transform="translate(589,348.6) scale(1.15,1)" text-anchor="middle">700</text><text transform="translate(589,329.5) scale(1.15,1)" text-anchor="middle">800</text><text transform="translate(589,310.4) scale(1.15,1)" text-anchor="middle">900</text><text transform="translate(589,291.3) scale(1.15,1)" text-anchor="middle">1000</text><text transform="translate(589,272.2) scale(1.15,1)" text-anchor="middle">1100</text><text transform="translate(589,253.1) scale(1.15,1)" text-anchor="middle">1200</text><text transform="translate(589,234.0) scale(1.15,1)" text-anchor="middle">1300</text><text transform="translate(589,214.9) scale(1.15,1)" text-anchor="middle">1400</text><text transform="translate(589,195.8) scale(1.15,1)" text-anchor="middle">1500</text><text transform="translate(589,176.7) scale(1.15,1)" text-anchor="middle">1600</text><text transform="translate(589,157.6) scale(1.15,1)" text-anchor="middle">1700</text><text transform="translate(589,138.5) scale(1.15,1)" text-anchor="middle">1800</text><text transform="translate(589,119.4) scale(1.15,1)" text-anchor="middle">1900</text><text transform="translate(34.4,411.6) scale(1.22,1)" text-anchor="end">200K</text><text transform="translate(34.4,383.6) scale(1.22,1)" text-anchor="end">400K</text><text transform="translate(34.4,355.6) scale(1.22,1)" text-anchor="end">600K</text><text transform="translate(34.4,327.6) scale(1.22,1)" text-anchor="end">800K</text><text transform="translate(50.8,448.3) scale(1.18,1)" text-anchor="middle">1995</text><text transform="translate(75.1,448.3) scale(1.18,1)" text-anchor="middle">1996</text><text transform="translate(99.6,448.3) scale(1.18,1)" text-anchor="middle">1997</text><text transform="translate(123.4,448.3) scale(1.18,1)" text-anchor="middle">1998</text><text transform="translate(147.3,448.3) scale(1.18,1)" text-anchor="middle">1999</text><text transform="translate(171.6,448.3) scale(1.18,1)" text-anchor="middle">2000</text><text transform="translate(195.6,448.3) scale(1.18,1)" text-anchor="middle">2001</text><text transform="translate(219.6,448.3) scale(1.18,1)" text-anchor="middle">2002</text><text transform="translate(243.6,448.3) scale(1.18,1)" text-anchor="middle">2003</text><text transform="translate(267.6,448.3) scale(1.18,1)" text-anchor="middle">2004</text><text transform="translate(291.6,448.3) scale(1.18,1)" text-anchor="middle">2005</text><text transform="translate(316.3,448.3) scale(1.18,1)" text-anchor="middle">2006</text><text transform="translate(340.8,448.3) scale(1.18,1)" text-anchor="middle">2007</text><text transform="translate(365.4,448.3) scale(1.18,1)" text-anchor="middle">2008</text><text transform="translate(389.2,448.3) scale(1.18,1)" text-anchor="middle">2009</text><text transform="translate(413.7,448.3) scale(1.18,1)" text-anchor="middle">2010</text><text transform="translate(437.9,448.3) scale(1.18,1)" text-anchor="middle">2011</text><text transform="translate(462.1,448.3) scale(1.18,1)" text-anchor="middle">2012</text><text transform="translate(486.2,448.3) scale(1.18,1)" text-anchor="middle">2013</text><text transform="translate(510.4,448.3) scale(1.18,1)" text-anchor="middle">2014</text><text transform="translate(534.6,448.3) scale(1.18,1)" text-anchor="middle">2015</text><text transform="translate(560.7,448.3) scale(1.18,1)" text-anchor="middle">2016</text></g>
<rect x="37" y="105" width="145" height="12" fill="#fff" opacity="0.4"/>
<rect x="37" y="117" width="84" height="11" fill="#fff" opacity="0.4"/>
<rect x="37" y="128" width="89" height="11" fill="#fff" opacity="0.4"/>
<rect x="37" y="139" width="168" height="11" fill="#fff" opacity="0.35"/>
<path d="M39.2 122h8.8" stroke="#10105a" stroke-width="1.7"/>
<path d="M39.2 133h8.8" stroke="#8e1c1c" stroke-width="1.7"/>
<path d="M39.3 147v-4.5M40.9 147v-7.5M42.5 147v-6M44.1 147v-8M45.7 147v-5M47.3 147v-3.5" stroke="#333" stroke-width="1.3"/>
<path d="M39.6 106v9.4M45 106v9.4" stroke="#111" stroke-width="1.1"/>
<rect x="37.6" y="108.2" width="4" height="5.4" fill="#111"/><rect x="43" y="107.6" width="4" height="5" fill="#111"/>
<path d="M565.3 96.2h7.6l-3.8 4.6z" fill="#7a1040"/>

</svg>
<div class="t" id="ttl1" style="left:128px;top:19.1px;font-size:13px;font-weight:bold;color:#2f9140;letter-spacing:0.66px;">GOOD POINT TO TURN HIGHER - gold is at the support</div>
<div class="t" id="ttl2" style="left:128px;top:33.3px;font-size:13px;font-weight:bold;color:#2f9140;letter-spacing:0.6px;">of its parabolic uptrend on this arithmetic scaled chart.</div>
<div class="t sx" id="sym" style="left:36.2px;top:77.6px;font-size:14px;font-weight:bold;color:#000;letter-spacing:1.1px;transform:scaleX(0.84);font-family:'DejaVu Sans Condensed','DejaVu Sans',sans-serif;font-stretch:condensed;">$GOLD</div>
<div class="t sx" id="nm" style="left:84.7px;top:79.7px;font-size:11.3px;color:#111;transform:scaleX(0.935);">Gold - Spot Price (EOD)</div>
<div class="t" id="cme" style="left:204px;top:81.1px;font-size:9px;color:#111;letter-spacing:0.5px;">CME</div>
<div class="t" id="sc" style="left:483px;top:80px;font-size:10.5px;color:#505050;letter-spacing:0.15px;">©StockCharts.com</div>
<div class="t sx" id="dt" style="left:36.1px;font-size:9.8px;top:93.5px;transform:scaleX(1.075);color:#111;-webkit-text-stroke:0.15px #111;">6-Jun-2014</div>
<div class="t hd b" id="h1" style="left:165.7px;">Op</div><div class="t hd sx" id="v1" style="left:185px;">1253.70</div>
<div class="t hd b" id="h2" style="left:229px;">Hi</div><div class="t hd sx" id="v2" style="left:242.8px;">1258.20</div>
<div class="t hd b" id="h3" style="left:286.8px;">Lo</div><div class="t hd sx" id="v3" style="left:306.4px;">1245.70</div>
<div class="t hd b" id="h4" style="left:350.1px;">Cl</div><div class="t hd sx" id="v4" style="left:364.3px;">1252.40</div>
<div class="t hd b" id="h5" style="left:409.3px;letter-spacing:1px;">Vol</div><div class="t hd sx" id="v5" style="left:432.3px;">109.9K</div>
<div class="t hd b" id="h6" style="left:471.4px;">Chg</div><div class="t hd sx" id="v6" style="left:496.3px;">-0.80 (-0.06%)</div>
<div class="t sx" id="lg1" style="left:51.8px;top:107.4px;font-size:8.8px;color:#000;letter-spacing:0.5px;transform:scaleX(1.14);font-family:'DejaVu Sans',Verdana,sans-serif;">$GOLD (Daily) 1252.40</div>
<div class="t lg sx" id="lg2" style="top:117px;color:#0c0c5c;">MA(50) 1288.60</div>
<div class="t lg sx" id="lg3" style="top:128px;color:#8e1c1c;">MA(200) 1295.17</div>
<div class="t lg sx" id="lg4" style="top:138.9px;color:#3a3a3a;left:50px;">Volume 109.93K, EMA(60) 116.09K</div>
<div class="t" id="ann" style="left:39px;top:156.3px;font-size:17.7px;font-weight:bold;color:#3a3ab4;">GOLD: 20-Year, arithmetic scale</div>

</body></html>
